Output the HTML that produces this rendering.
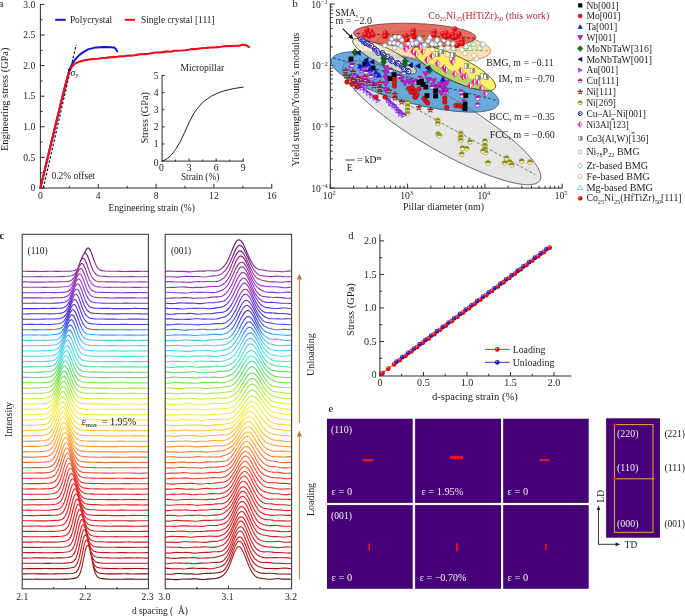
<!DOCTYPE html>
<html lang="en"><head><meta charset="utf-8"><title>Figure</title>
<style>html,body{margin:0;padding:0;background:#fff}svg{display:block}text{font-family:"Liberation Serif", "DejaVu Serif", serif}</style>
</head><body>
<svg width="685" height="616" viewBox="0 0 685 616" font-family='"Liberation Serif", "DejaVu Serif", serif'>
<defs><radialGradient id="ballR" cx="0.35" cy="0.3" r="0.75"><stop offset="0" stop-color="#ffc0c0"/><stop offset="0.25" stop-color="#f81820"/><stop offset="1" stop-color="#c00008"/></radialGradient><radialGradient id="ballB" cx="0.35" cy="0.3" r="0.75"><stop offset="0" stop-color="#c8c8ff"/><stop offset="0.25" stop-color="#2a2ae0"/><stop offset="1" stop-color="#0a0a9a"/></radialGradient><linearGradient id="wf" gradientUnits="userSpaceOnUse" x1="0" y1="240" x2="0" y2="590"><stop offset="0.0171" stop-color="#620e66"/><stop offset="0.0514" stop-color="#7d197d"/><stop offset="0.0886" stop-color="#96309e"/><stop offset="0.1200" stop-color="#9b34be"/><stop offset="0.1486" stop-color="#8c32d2"/><stop offset="0.1800" stop-color="#6432dc"/><stop offset="0.2086" stop-color="#4632e2"/><stop offset="0.2400" stop-color="#3a4eea"/><stop offset="0.2543" stop-color="#3a76f0"/><stop offset="0.2686" stop-color="#429ef0"/><stop offset="0.2829" stop-color="#4ebcf0"/><stop offset="0.3000" stop-color="#58caf0"/><stop offset="0.3314" stop-color="#4ee1e2"/><stop offset="0.3457" stop-color="#4ee1be"/><stop offset="0.3600" stop-color="#58dc96"/><stop offset="0.3757" stop-color="#62dc6e"/><stop offset="0.3914" stop-color="#6edc5a"/><stop offset="0.4057" stop-color="#82e150"/><stop offset="0.4200" stop-color="#96e44b"/><stop offset="0.4357" stop-color="#afe846"/><stop offset="0.4514" stop-color="#c8eb46"/><stop offset="0.4657" stop-color="#e1ee46"/><stop offset="0.4814" stop-color="#f0ee46"/><stop offset="0.4971" stop-color="#faeb46"/><stop offset="0.5114" stop-color="#fae144"/><stop offset="0.5271" stop-color="#fad741"/><stop offset="0.5429" stop-color="#fac83c"/><stop offset="0.5571" stop-color="#fab938"/><stop offset="0.5729" stop-color="#faaa37"/><stop offset="0.5886" stop-color="#fa9b37"/><stop offset="0.6029" stop-color="#f88737"/><stop offset="0.6186" stop-color="#f67337"/><stop offset="0.6343" stop-color="#f56436"/><stop offset="0.6486" stop-color="#f35532"/><stop offset="0.6643" stop-color="#f04630"/><stop offset="0.6800" stop-color="#ee3a2d"/><stop offset="0.6943" stop-color="#ec302a"/><stop offset="0.7100" stop-color="#e82828"/><stop offset="0.7543" stop-color="#e42024"/><stop offset="0.8471" stop-color="#d71e23"/><stop offset="0.8914" stop-color="#be1a20"/><stop offset="0.9229" stop-color="#a5161c"/><stop offset="0.9543" stop-color="#821014"/><stop offset="0.9700" stop-color="#640c0f"/></linearGradient></defs>
<rect width="685" height="616" fill="#fff"/>
<line x1="40.4" y1="3.9" x2="40.4" y2="188.5" stroke="#2b2b2b" stroke-width="1"/>
<line x1="39.9" y1="188" x2="272.26" y2="188" stroke="#2b2b2b" stroke-width="1"/>
<line x1="40.4" y1="188" x2="44.6" y2="188" stroke="#2b2b2b" stroke-width="1"/>
<text x="35.2" y="191.2" font-size="9.6" fill="#1a1a1a" text-anchor="end">0</text>
<line x1="40.4" y1="157.4" x2="44.6" y2="157.4" stroke="#2b2b2b" stroke-width="1"/>
<text x="35.2" y="160.6" font-size="9.6" fill="#1a1a1a" text-anchor="end">0.5</text>
<line x1="40.4" y1="126.8" x2="44.6" y2="126.8" stroke="#2b2b2b" stroke-width="1"/>
<text x="35.2" y="130" font-size="9.6" fill="#1a1a1a" text-anchor="end">1.0</text>
<line x1="40.4" y1="96.2" x2="44.6" y2="96.2" stroke="#2b2b2b" stroke-width="1"/>
<text x="35.2" y="99.4" font-size="9.6" fill="#1a1a1a" text-anchor="end">1.5</text>
<line x1="40.4" y1="65.6" x2="44.6" y2="65.6" stroke="#2b2b2b" stroke-width="1"/>
<text x="35.2" y="68.8" font-size="9.6" fill="#1a1a1a" text-anchor="end">2.0</text>
<line x1="40.4" y1="35" x2="44.6" y2="35" stroke="#2b2b2b" stroke-width="1"/>
<text x="35.2" y="38.2" font-size="9.6" fill="#1a1a1a" text-anchor="end">2.5</text>
<line x1="40.4" y1="4.4" x2="44.6" y2="4.4" stroke="#2b2b2b" stroke-width="1"/>
<text x="35.2" y="7.6" font-size="9.6" fill="#1a1a1a" text-anchor="end">3.0</text>
<line x1="40.4" y1="172.7" x2="42.6" y2="172.7" stroke="#2b2b2b" stroke-width="1"/>
<line x1="40.4" y1="142.1" x2="42.6" y2="142.1" stroke="#2b2b2b" stroke-width="1"/>
<line x1="40.4" y1="111.5" x2="42.6" y2="111.5" stroke="#2b2b2b" stroke-width="1"/>
<line x1="40.4" y1="80.9" x2="42.6" y2="80.9" stroke="#2b2b2b" stroke-width="1"/>
<line x1="40.4" y1="50.3" x2="42.6" y2="50.3" stroke="#2b2b2b" stroke-width="1"/>
<line x1="40.4" y1="19.7" x2="42.6" y2="19.7" stroke="#2b2b2b" stroke-width="1"/>
<line x1="40.4" y1="188" x2="40.4" y2="183.8" stroke="#2b2b2b" stroke-width="1"/>
<text x="40.4" y="199.2" font-size="9.6" fill="#1a1a1a" text-anchor="middle">0</text>
<line x1="98.24" y1="188" x2="98.24" y2="183.8" stroke="#2b2b2b" stroke-width="1"/>
<text x="98.24" y="199.2" font-size="9.6" fill="#1a1a1a" text-anchor="middle">4</text>
<line x1="156.08" y1="188" x2="156.08" y2="183.8" stroke="#2b2b2b" stroke-width="1"/>
<text x="156.08" y="199.2" font-size="9.6" fill="#1a1a1a" text-anchor="middle">8</text>
<line x1="213.92" y1="188" x2="213.92" y2="183.8" stroke="#2b2b2b" stroke-width="1"/>
<text x="213.92" y="199.2" font-size="9.6" fill="#1a1a1a" text-anchor="middle">12</text>
<line x1="271.76" y1="188" x2="271.76" y2="183.8" stroke="#2b2b2b" stroke-width="1"/>
<text x="271.76" y="199.2" font-size="9.6" fill="#1a1a1a" text-anchor="middle">16</text>
<line x1="69.32" y1="188" x2="69.32" y2="185.8" stroke="#2b2b2b" stroke-width="1"/>
<line x1="127.16" y1="188" x2="127.16" y2="185.8" stroke="#2b2b2b" stroke-width="1"/>
<line x1="185" y1="188" x2="185" y2="185.8" stroke="#2b2b2b" stroke-width="1"/>
<line x1="242.84" y1="188" x2="242.84" y2="185.8" stroke="#2b2b2b" stroke-width="1"/>
<text x="108.6" y="210.7" font-size="9.6" fill="#1a1a1a" textLength="86.3" lengthAdjust="spacingAndGlyphs">Engineering strain (%)</text>
<text x="7.6" y="151" font-size="9.5" fill="#1a1a1a" textLength="103.4" lengthAdjust="spacingAndGlyphs" transform="rotate(-90 7.6 151)">Engineering stress (GPa)</text>
<text x="0" y="7.4" font-size="10.5" fill="#1a1a1a" dx="-1.2">a</text>
<line x1="55.2" y1="19.8" x2="65.8" y2="19.8" stroke="#1414c8" stroke-width="2"/>
<text x="69.9" y="22.8" font-size="9.6" fill="#1a1a1a" textLength="42.3" lengthAdjust="spacingAndGlyphs">Polycrystal</text>
<line x1="124.8" y1="19.8" x2="135" y2="19.8" stroke="#e8101c" stroke-width="2"/>
<text x="141" y="22.8" font-size="9.6" fill="#1a1a1a" textLength="73.6" lengthAdjust="spacingAndGlyphs">Single crystal [111]</text>
<line x1="43.29" y1="188" x2="76.12" y2="44.98" stroke="#111" stroke-width="1.2" stroke-dasharray="2.6 1.7"/>
<polyline points="40.4,188 54.86,127.72 64.98,86.41 67.87,75.39 70.04,68.66 72.21,63.76 75.1,59.48 79.44,54.89 83.78,51.83 88.12,49.38 93.9,47.85 99.69,47.24 105.47,46.93 111.25,47.24 114.15,47.55 115.88,49.08 117.18,51.22" fill="none" stroke="#1414c8" stroke-width="2" stroke-linejoin="round" stroke-linecap="round"/>
<polyline points="40.4,188 47.63,158.01 54.86,128.02 62.09,98.04 66.43,80.9 69.32,71.11 72.21,66.21 75.1,63.46 79.44,61.62 83.78,60.4 91.01,59.17 94.62,58.95 98.24,58.72 101.86,58 105.47,58.07 109.09,57.37 112.7,57.14 116.31,57.01 119.93,56.33 123.55,56.32 127.16,55.67 130.78,55.59 134.39,55.22 138,54.61 141.62,53.96 145.24,54.13 148.85,53.7 152.47,53.05 156.08,52.46 159.69,52.37 163.31,52.15 166.93,51.37 170.54,51.7 174.16,50.75 177.77,50.81 181.39,50.56 185,50.23 188.62,49.73 192.23,49 195.85,49.11 199.46,48.47 203.08,48.07 206.69,47.91 210.31,47.43 213.92,47.43 217.54,47.1 221.15,46.7 224.77,46.11 228.38,46.11 232,46.04 235.61,45.74 239.23,45.78 241.39,44.91 245.01,44.91 247.18,45.71 249.2,47.24" fill="none" stroke="#e8101c" stroke-width="2.1" stroke-linejoin="round" stroke-linecap="round"/>
<text x="70.4" y="75.6" font-size="9.5" fill="#1a1a1a">σ<tspan dy="1.8" font-size="6">y</tspan><tspan dy="-1.8" font-size="0.1"> </tspan></text>
<circle cx="69.32" cy="69.88" r="1.3" fill="#3a0a0a"/>
<text x="51.5" y="178.6" font-size="9.6" fill="#1a1a1a" textLength="43.5" lengthAdjust="spacingAndGlyphs">0.2% offset</text>
<line x1="162.1" y1="75" x2="162.1" y2="161.6" stroke="#2b2b2b" stroke-width="1"/>
<line x1="161.6" y1="161.1" x2="243.69" y2="161.1" stroke="#2b2b2b" stroke-width="1"/>
<line x1="162.1" y1="75.5" x2="164.3" y2="75.5" stroke="#2b2b2b" stroke-width="1"/>
<text x="158.6" y="165.9" font-size="9.6" fill="#1a1a1a" text-anchor="end">0</text>
<line x1="162.1" y1="143.98" x2="164.5" y2="143.98" stroke="#2b2b2b" stroke-width="1"/>
<text x="158.6" y="147.18" font-size="9.6" fill="#1a1a1a" text-anchor="end">1</text>
<line x1="162.1" y1="126.86" x2="164.5" y2="126.86" stroke="#2b2b2b" stroke-width="1"/>
<text x="158.6" y="130.06" font-size="9.6" fill="#1a1a1a" text-anchor="end">2</text>
<line x1="162.1" y1="109.74" x2="164.5" y2="109.74" stroke="#2b2b2b" stroke-width="1"/>
<text x="158.6" y="112.94" font-size="9.6" fill="#1a1a1a" text-anchor="end">3</text>
<line x1="162.1" y1="92.62" x2="164.5" y2="92.62" stroke="#2b2b2b" stroke-width="1"/>
<text x="158.6" y="95.82" font-size="9.6" fill="#1a1a1a" text-anchor="end">4</text>
<line x1="162.1" y1="75.5" x2="164.5" y2="75.5" stroke="#2b2b2b" stroke-width="1"/>
<text x="158.6" y="78.7" font-size="9.6" fill="#1a1a1a" text-anchor="end">5</text>
<text x="161.5" y="171.2" font-size="9.6" fill="#1a1a1a" text-anchor="middle">0</text>
<line x1="189.13" y1="161.1" x2="189.13" y2="158.5" stroke="#2b2b2b" stroke-width="1"/>
<text x="189.13" y="171.2" font-size="9.6" fill="#1a1a1a" text-anchor="middle">3</text>
<line x1="216.16" y1="161.1" x2="216.16" y2="158.5" stroke="#2b2b2b" stroke-width="1"/>
<text x="216.16" y="171.2" font-size="9.6" fill="#1a1a1a" text-anchor="middle">6</text>
<line x1="243.19" y1="161.1" x2="243.19" y2="158.5" stroke="#2b2b2b" stroke-width="1"/>
<text x="243.19" y="171.2" font-size="9.6" fill="#1a1a1a" text-anchor="middle">9</text>
<line x1="175.62" y1="161.1" x2="175.62" y2="159.5" stroke="#2b2b2b" stroke-width="1"/>
<line x1="202.64" y1="161.1" x2="202.64" y2="159.5" stroke="#2b2b2b" stroke-width="1"/>
<line x1="229.68" y1="161.1" x2="229.68" y2="159.5" stroke="#2b2b2b" stroke-width="1"/>
<polyline points="162.1,161.1 164.8,160.07 167.51,158.36 171.11,155.28 175.62,149.46 180.12,141.93 184.62,132.34 189.13,122.41 193.63,113.68 198.14,107.51 202.64,102.55 207.15,98.95 211.66,96.04 216.16,93.82 220.66,91.94 225.17,90.57 234.18,88.51 243.19,87.14" fill="none" stroke="#222" stroke-width="1" stroke-linejoin="round" stroke-linecap="round"/>
<text x="180.6" y="70.6" font-size="9.6" fill="#1a1a1a" textLength="43.6" lengthAdjust="spacingAndGlyphs">Micropillar</text>
<text x="180.9" y="180.3" font-size="9.6" fill="#1a1a1a" textLength="38.4" lengthAdjust="spacingAndGlyphs">Strain (%)</text>
<text x="147.9" y="143.6" font-size="9.6" fill="#1a1a1a" textLength="51.5" lengthAdjust="spacingAndGlyphs" transform="rotate(-90 147.9 143.6)">Stress (GPa)</text>
<line x1="330.3" y1="3.6" x2="330.3" y2="188.6" stroke="#2b2b2b" stroke-width="1"/>
<line x1="329.8" y1="188.1" x2="562.7" y2="188.1" stroke="#2b2b2b" stroke-width="1"/>
<line x1="330.3" y1="188.1" x2="334.7" y2="188.1" stroke="#2b2b2b" stroke-width="1"/>
<text x="327.8" y="191.7" font-size="9.6" fill="#1a1a1a" text-anchor="end">10<tspan dy="-3.4" font-size="6.5">−4</tspan><tspan dy="3.4" font-size="0.1"> </tspan></text>
<line x1="330.3" y1="169.63" x2="332.7" y2="169.63" stroke="#2b2b2b" stroke-width="1"/>
<line x1="330.3" y1="158.83" x2="332.7" y2="158.83" stroke="#2b2b2b" stroke-width="1"/>
<line x1="330.3" y1="151.16" x2="332.7" y2="151.16" stroke="#2b2b2b" stroke-width="1"/>
<line x1="330.3" y1="145.22" x2="332.7" y2="145.22" stroke="#2b2b2b" stroke-width="1"/>
<line x1="330.3" y1="140.36" x2="332.7" y2="140.36" stroke="#2b2b2b" stroke-width="1"/>
<line x1="330.3" y1="136.25" x2="332.7" y2="136.25" stroke="#2b2b2b" stroke-width="1"/>
<line x1="330.3" y1="132.7" x2="332.7" y2="132.7" stroke="#2b2b2b" stroke-width="1"/>
<line x1="330.3" y1="129.56" x2="332.7" y2="129.56" stroke="#2b2b2b" stroke-width="1"/>
<line x1="330.3" y1="126.75" x2="334.7" y2="126.75" stroke="#2b2b2b" stroke-width="1"/>
<text x="327.8" y="130.35" font-size="9.6" fill="#1a1a1a" text-anchor="end">10<tspan dy="-3.4" font-size="6.5">−3</tspan><tspan dy="3.4" font-size="0.1"> </tspan></text>
<line x1="330.3" y1="108.28" x2="332.7" y2="108.28" stroke="#2b2b2b" stroke-width="1"/>
<line x1="330.3" y1="97.48" x2="332.7" y2="97.48" stroke="#2b2b2b" stroke-width="1"/>
<line x1="330.3" y1="89.81" x2="332.7" y2="89.81" stroke="#2b2b2b" stroke-width="1"/>
<line x1="330.3" y1="83.87" x2="332.7" y2="83.87" stroke="#2b2b2b" stroke-width="1"/>
<line x1="330.3" y1="79.01" x2="332.7" y2="79.01" stroke="#2b2b2b" stroke-width="1"/>
<line x1="330.3" y1="74.9" x2="332.7" y2="74.9" stroke="#2b2b2b" stroke-width="1"/>
<line x1="330.3" y1="71.35" x2="332.7" y2="71.35" stroke="#2b2b2b" stroke-width="1"/>
<line x1="330.3" y1="68.21" x2="332.7" y2="68.21" stroke="#2b2b2b" stroke-width="1"/>
<line x1="330.3" y1="65.4" x2="334.7" y2="65.4" stroke="#2b2b2b" stroke-width="1"/>
<text x="327.8" y="69" font-size="9.6" fill="#1a1a1a" text-anchor="end">10<tspan dy="-3.4" font-size="6.5">−2</tspan><tspan dy="3.4" font-size="0.1"> </tspan></text>
<line x1="330.3" y1="46.93" x2="332.7" y2="46.93" stroke="#2b2b2b" stroke-width="1"/>
<line x1="330.3" y1="36.13" x2="332.7" y2="36.13" stroke="#2b2b2b" stroke-width="1"/>
<line x1="330.3" y1="28.46" x2="332.7" y2="28.46" stroke="#2b2b2b" stroke-width="1"/>
<line x1="330.3" y1="22.52" x2="332.7" y2="22.52" stroke="#2b2b2b" stroke-width="1"/>
<line x1="330.3" y1="17.66" x2="332.7" y2="17.66" stroke="#2b2b2b" stroke-width="1"/>
<line x1="330.3" y1="13.55" x2="332.7" y2="13.55" stroke="#2b2b2b" stroke-width="1"/>
<line x1="330.3" y1="10" x2="332.7" y2="10" stroke="#2b2b2b" stroke-width="1"/>
<line x1="330.3" y1="6.86" x2="332.7" y2="6.86" stroke="#2b2b2b" stroke-width="1"/>
<line x1="330.3" y1="4.05" x2="334.7" y2="4.05" stroke="#2b2b2b" stroke-width="1"/>
<text x="327.8" y="7.65" font-size="9.6" fill="#1a1a1a" text-anchor="end">10<tspan dy="-3.4" font-size="6.5">−1</tspan><tspan dy="3.4" font-size="0.1"> </tspan></text>
<line x1="330.3" y1="188.1" x2="330.3" y2="183.7" stroke="#2b2b2b" stroke-width="1"/>
<text x="335.7" y="198.8" font-size="9.6" fill="#1a1a1a" text-anchor="end">10<tspan dy="-3.4" font-size="6.5">2</tspan><tspan dy="3.4" font-size="0.1"> </tspan></text>
<line x1="353.57" y1="188.1" x2="353.57" y2="185.7" stroke="#2b2b2b" stroke-width="1"/>
<line x1="367.18" y1="188.1" x2="367.18" y2="185.7" stroke="#2b2b2b" stroke-width="1"/>
<line x1="376.84" y1="188.1" x2="376.84" y2="185.7" stroke="#2b2b2b" stroke-width="1"/>
<line x1="384.33" y1="188.1" x2="384.33" y2="185.7" stroke="#2b2b2b" stroke-width="1"/>
<line x1="390.45" y1="188.1" x2="390.45" y2="185.7" stroke="#2b2b2b" stroke-width="1"/>
<line x1="395.63" y1="188.1" x2="395.63" y2="185.7" stroke="#2b2b2b" stroke-width="1"/>
<line x1="400.11" y1="188.1" x2="400.11" y2="185.7" stroke="#2b2b2b" stroke-width="1"/>
<line x1="404.06" y1="188.1" x2="404.06" y2="185.7" stroke="#2b2b2b" stroke-width="1"/>
<line x1="407.6" y1="188.1" x2="407.6" y2="183.7" stroke="#2b2b2b" stroke-width="1"/>
<text x="413" y="198.8" font-size="9.6" fill="#1a1a1a" text-anchor="end">10<tspan dy="-3.4" font-size="6.5">3</tspan><tspan dy="3.4" font-size="0.1"> </tspan></text>
<line x1="430.87" y1="188.1" x2="430.87" y2="185.7" stroke="#2b2b2b" stroke-width="1"/>
<line x1="444.48" y1="188.1" x2="444.48" y2="185.7" stroke="#2b2b2b" stroke-width="1"/>
<line x1="454.14" y1="188.1" x2="454.14" y2="185.7" stroke="#2b2b2b" stroke-width="1"/>
<line x1="461.63" y1="188.1" x2="461.63" y2="185.7" stroke="#2b2b2b" stroke-width="1"/>
<line x1="467.75" y1="188.1" x2="467.75" y2="185.7" stroke="#2b2b2b" stroke-width="1"/>
<line x1="472.93" y1="188.1" x2="472.93" y2="185.7" stroke="#2b2b2b" stroke-width="1"/>
<line x1="477.41" y1="188.1" x2="477.41" y2="185.7" stroke="#2b2b2b" stroke-width="1"/>
<line x1="481.36" y1="188.1" x2="481.36" y2="185.7" stroke="#2b2b2b" stroke-width="1"/>
<line x1="484.9" y1="188.1" x2="484.9" y2="183.7" stroke="#2b2b2b" stroke-width="1"/>
<text x="490.3" y="198.8" font-size="9.6" fill="#1a1a1a" text-anchor="end">10<tspan dy="-3.4" font-size="6.5">4</tspan><tspan dy="3.4" font-size="0.1"> </tspan></text>
<line x1="508.17" y1="188.1" x2="508.17" y2="185.7" stroke="#2b2b2b" stroke-width="1"/>
<line x1="521.78" y1="188.1" x2="521.78" y2="185.7" stroke="#2b2b2b" stroke-width="1"/>
<line x1="531.44" y1="188.1" x2="531.44" y2="185.7" stroke="#2b2b2b" stroke-width="1"/>
<line x1="538.93" y1="188.1" x2="538.93" y2="185.7" stroke="#2b2b2b" stroke-width="1"/>
<line x1="545.05" y1="188.1" x2="545.05" y2="185.7" stroke="#2b2b2b" stroke-width="1"/>
<line x1="550.23" y1="188.1" x2="550.23" y2="185.7" stroke="#2b2b2b" stroke-width="1"/>
<line x1="554.71" y1="188.1" x2="554.71" y2="185.7" stroke="#2b2b2b" stroke-width="1"/>
<line x1="558.66" y1="188.1" x2="558.66" y2="185.7" stroke="#2b2b2b" stroke-width="1"/>
<line x1="562.2" y1="188.1" x2="562.2" y2="183.7" stroke="#2b2b2b" stroke-width="1"/>
<text x="567.6" y="198.8" font-size="9.6" fill="#1a1a1a" text-anchor="end">10<tspan dy="-3.4" font-size="6.5">5</tspan><tspan dy="3.4" font-size="0.1"> </tspan></text>
<text x="403" y="210.4" font-size="9.6" fill="#1a1a1a" textLength="81.2" lengthAdjust="spacingAndGlyphs">Pillar diameter (nm)</text>
<text x="298.9" y="166.6" font-size="9.4" fill="#1a1a1a" textLength="134" lengthAdjust="spacingAndGlyphs" transform="rotate(-90 298.9 166.6)">Yield strength/Young’s modulus</text>
<text x="292.6" y="7.4" font-size="10.5" fill="#1a1a1a">b</text>
<ellipse cx="441.7" cy="122.7" rx="113.9" ry="26.6" transform="rotate(30.4 441.7 122.7)" fill="#e6e6e6" fill-opacity="1" stroke="#777" stroke-width="0.7"/>
<ellipse cx="415" cy="81.8" rx="86.5" ry="21.8" transform="rotate(14.6 415 81.8)" fill="#4f9bd6" fill-opacity="0.85" stroke="#2a4a6a" stroke-width="0.7"/>
<ellipse cx="441.7" cy="122.7" rx="113.9" ry="26.6" transform="rotate(30.4 441.7 122.7)" fill="none" fill-opacity="1" stroke="#5a6a7a" stroke-width="0.5"/>
<ellipse cx="434" cy="46.2" rx="57" ry="14.6" transform="rotate(5.2 434 46.2)" fill="#fbdcae" fill-opacity="0.9" stroke="#7a6a4a" stroke-width="0.6"/>
<ellipse cx="454.4" cy="68.2" rx="45.5" ry="12.3" transform="rotate(25.5 454.4 68.2)" fill="#fff05a" fill-opacity="0.9" stroke="#3a3a10" stroke-width="0.7"/>
<clipPath id="bccclip"><ellipse cx="415" cy="81.8" rx="86.5" ry="21.8" transform="rotate(14.6 415 81.8)"/></clipPath>
<g clip-path="url(#bccclip)"><ellipse cx="454.4" cy="68.2" rx="45.5" ry="12.3" transform="rotate(25.5 454.4 68.2)" fill="#b4d46c" stroke="#3a3a10" stroke-width="0.7"/></g>
<ellipse cx="384.5" cy="56.3" rx="35.5" ry="8.6" transform="rotate(27 384.5 56.3)" fill="#f3e6c2" fill-opacity="0.74" stroke="#33402a" stroke-width="0.7"/>
<ellipse cx="414.7" cy="35.2" rx="61.2" ry="11.8" transform="rotate(2.1 414.7 35.2)" fill="#dc4a40" fill-opacity="0.8" stroke="#5a2a2a" stroke-width="0.7"/>
<line x1="333" y1="58" x2="497" y2="100.5" stroke="#1a3a5a" stroke-width="0.9" stroke-dasharray="3 2"/>
<line x1="398" y1="99" x2="535" y2="174.5" stroke="#6a6a6a" stroke-width="0.9" stroke-dasharray="3 2"/>
<line x1="357" y1="33.4" x2="476" y2="38.2" stroke="#5a1010" stroke-width="0.9" stroke-dasharray="3 2"/>
<line x1="455" y1="50.3" x2="489" y2="50.8" stroke="#d89040" stroke-width="0.9" stroke-dasharray="3 2"/>
<circle cx="407.5" cy="102" r="2.45" fill="#fbfbe8" stroke="#8a8a10" stroke-width="0.6"/><path d="M405.05 102.3A2.45 2.45 0 0 1 409.95 102.3Z" fill="#8c8c0c"/>
<circle cx="407.5" cy="106" r="2.45" fill="#fbfbe8" stroke="#8a8a10" stroke-width="0.6"/><path d="M405.05 106.3A2.45 2.45 0 0 1 409.95 106.3Z" fill="#8c8c0c"/>
<circle cx="407.5" cy="110" r="2.45" fill="#fbfbe8" stroke="#8a8a10" stroke-width="0.6"/><path d="M405.05 110.3A2.45 2.45 0 0 1 409.95 110.3Z" fill="#8c8c0c"/>
<circle cx="407.5" cy="113.5" r="2.45" fill="#fbfbe8" stroke="#8a8a10" stroke-width="0.6"/><path d="M405.05 113.8A2.45 2.45 0 0 1 409.95 113.8Z" fill="#8c8c0c"/>
<circle cx="437.8" cy="120.3" r="2.45" fill="#fbfbe8" stroke="#8a8a10" stroke-width="0.6"/><path d="M435.35 120.6A2.45 2.45 0 0 1 440.25 120.6Z" fill="#8c8c0c"/>
<circle cx="437.8" cy="123.4" r="2.45" fill="#fbfbe8" stroke="#8a8a10" stroke-width="0.6"/><path d="M435.35 123.7A2.45 2.45 0 0 1 440.25 123.7Z" fill="#8c8c0c"/>
<circle cx="438" cy="134" r="2.45" fill="#fbfbe8" stroke="#8a8a10" stroke-width="0.6"/><path d="M435.55 134.3A2.45 2.45 0 0 1 440.45 134.3Z" fill="#8c8c0c"/>
<circle cx="460.7" cy="133.5" r="2.45" fill="#fbfbe8" stroke="#8a8a10" stroke-width="0.6"/><path d="M458.25 133.8A2.45 2.45 0 0 1 463.15 133.8Z" fill="#8c8c0c"/>
<circle cx="460.7" cy="137" r="2.45" fill="#fbfbe8" stroke="#8a8a10" stroke-width="0.6"/><path d="M458.25 137.3A2.45 2.45 0 0 1 463.15 137.3Z" fill="#8c8c0c"/>
<circle cx="460.7" cy="140.2" r="2.45" fill="#fbfbe8" stroke="#8a8a10" stroke-width="0.6"/><path d="M458.25 140.5A2.45 2.45 0 0 1 463.15 140.5Z" fill="#8c8c0c"/>
<circle cx="469.9" cy="141.7" r="2.45" fill="#fbfbe8" stroke="#8a8a10" stroke-width="0.6"/><path d="M467.45 142A2.45 2.45 0 0 1 472.35 142Z" fill="#8c8c0c"/>
<circle cx="462.7" cy="147.8" r="2.45" fill="#fbfbe8" stroke="#8a8a10" stroke-width="0.6"/><path d="M460.25 148.1A2.45 2.45 0 0 1 465.15 148.1Z" fill="#8c8c0c"/>
<circle cx="466.8" cy="148.4" r="2.45" fill="#fbfbe8" stroke="#8a8a10" stroke-width="0.6"/><path d="M464.35 148.7A2.45 2.45 0 0 1 469.25 148.7Z" fill="#8c8c0c"/>
<circle cx="461.7" cy="154" r="2.45" fill="#fbfbe8" stroke="#8a8a10" stroke-width="0.6"/><path d="M459.25 154.3A2.45 2.45 0 0 1 464.15 154.3Z" fill="#8c8c0c"/>
<circle cx="485" cy="141" r="2.45" fill="#fbfbe8" stroke="#8a8a10" stroke-width="0.6"/><path d="M482.55 141.3A2.45 2.45 0 0 1 487.45 141.3Z" fill="#8c8c0c"/>
<circle cx="485" cy="145.5" r="2.45" fill="#fbfbe8" stroke="#8a8a10" stroke-width="0.6"/><path d="M482.55 145.8A2.45 2.45 0 0 1 487.45 145.8Z" fill="#8c8c0c"/>
<circle cx="485" cy="149" r="2.45" fill="#fbfbe8" stroke="#8a8a10" stroke-width="0.6"/><path d="M482.55 149.3A2.45 2.45 0 0 1 487.45 149.3Z" fill="#8c8c0c"/>
<circle cx="485.6" cy="152.4" r="2.45" fill="#fbfbe8" stroke="#8a8a10" stroke-width="0.6"/><path d="M483.15 152.7A2.45 2.45 0 0 1 488.05 152.7Z" fill="#8c8c0c"/>
<circle cx="488" cy="162.7" r="2.45" fill="#fbfbe8" stroke="#8a8a10" stroke-width="0.6"/><path d="M485.55 163A2.45 2.45 0 0 1 490.45 163Z" fill="#8c8c0c"/>
<circle cx="506.6" cy="158" r="2.45" fill="#fbfbe8" stroke="#8a8a10" stroke-width="0.6"/><path d="M504.15 158.3A2.45 2.45 0 0 1 509.05 158.3Z" fill="#8c8c0c"/>
<circle cx="504.6" cy="163" r="2.45" fill="#fbfbe8" stroke="#8a8a10" stroke-width="0.6"/><path d="M502.15 163.3A2.45 2.45 0 0 1 507.05 163.3Z" fill="#8c8c0c"/>
<circle cx="509.7" cy="162" r="2.45" fill="#fbfbe8" stroke="#8a8a10" stroke-width="0.6"/><path d="M507.25 162.3A2.45 2.45 0 0 1 512.15 162.3Z" fill="#8c8c0c"/>
<circle cx="511.7" cy="164.8" r="2.45" fill="#fbfbe8" stroke="#8a8a10" stroke-width="0.6"/><path d="M509.25 165.1A2.45 2.45 0 0 1 514.15 165.1Z" fill="#8c8c0c"/>
<circle cx="521.6" cy="161" r="2.45" fill="#fbfbe8" stroke="#8a8a10" stroke-width="0.6"/><path d="M519.15 161.3A2.45 2.45 0 0 1 524.05 161.3Z" fill="#8c8c0c"/>
<circle cx="530" cy="162" r="2.45" fill="#fbfbe8" stroke="#8a8a10" stroke-width="0.6"/><path d="M527.55 162.3A2.45 2.45 0 0 1 532.45 162.3Z" fill="#8c8c0c"/>
<circle cx="439.5" cy="135.5" r="2.45" fill="#fbfbe8" stroke="#8a8a10" stroke-width="0.6"/><path d="M437.05 135.8A2.45 2.45 0 0 1 441.95 135.8Z" fill="#8c8c0c"/>
<circle cx="483" cy="151" r="2.45" fill="#fbfbe8" stroke="#8a8a10" stroke-width="0.6"/><path d="M480.55 151.3A2.45 2.45 0 0 1 485.45 151.3Z" fill="#8c8c0c"/>
<path d="M359.4 84.5L355.08 82.1V86.9Z" fill="#efe6ff" stroke="#7a22e0" stroke-width="0.7"/><path d="M359.4 84.5L355.08 82.1V84.8Z" fill="#7a22e0"/>
<path d="M371.4 72.4L367.08 70V74.8Z" fill="#efe6ff" stroke="#7a22e0" stroke-width="0.7"/><path d="M371.4 72.4L367.08 70V72.7Z" fill="#7a22e0"/>
<path d="M367.6 78.6L363.28 76.2V81Z" fill="#efe6ff" stroke="#7a22e0" stroke-width="0.7"/><path d="M367.6 78.6L363.28 76.2V78.9Z" fill="#7a22e0"/>
<path d="M376.7 83L372.38 80.6V85.4Z" fill="#efe6ff" stroke="#7a22e0" stroke-width="0.7"/><path d="M376.7 83L372.38 80.6V83.3Z" fill="#7a22e0"/>
<path d="M359 88.6L354.68 86.2V91Z" fill="#efe6ff" stroke="#7a22e0" stroke-width="0.7"/><path d="M359 88.6L354.68 86.2V88.9Z" fill="#7a22e0"/>
<path d="M353.9 76.2L349.58 73.8V78.6Z" fill="#efe6ff" stroke="#7a22e0" stroke-width="0.7"/><path d="M353.9 76.2L349.58 73.8V76.5Z" fill="#7a22e0"/>
<path d="M373.1 70.3L368.78 67.9V72.7Z" fill="#efe6ff" stroke="#7a22e0" stroke-width="0.7"/><path d="M373.1 70.3L368.78 67.9V70.6Z" fill="#7a22e0"/>
<path d="M365.1 67.9L360.78 65.5V70.3Z" fill="#efe6ff" stroke="#7a22e0" stroke-width="0.7"/><path d="M365.1 67.9L360.78 65.5V68.2Z" fill="#7a22e0"/>
<path d="M370.4 83.8L366.08 81.4V86.2Z" fill="#efe6ff" stroke="#7a22e0" stroke-width="0.7"/><path d="M370.4 83.8L366.08 81.4V84.1Z" fill="#7a22e0"/>
<path d="M367.6 86.3L363.28 83.9V88.7Z" fill="#efe6ff" stroke="#7a22e0" stroke-width="0.7"/><path d="M367.6 86.3L363.28 83.9V86.6Z" fill="#7a22e0"/>
<path d="M359.8 82.3L355.48 79.9V84.7Z" fill="#efe6ff" stroke="#7a22e0" stroke-width="0.7"/><path d="M359.8 82.3L355.48 79.9V82.6Z" fill="#7a22e0"/>
<path d="M368.2 79.8L363.88 77.4V82.2Z" fill="#efe6ff" stroke="#7a22e0" stroke-width="0.7"/><path d="M368.2 79.8L363.88 77.4V80.1Z" fill="#7a22e0"/>
<path d="M364.1 85.5L359.78 83.1V87.9Z" fill="#efe6ff" stroke="#7a22e0" stroke-width="0.7"/><path d="M364.1 85.5L359.78 83.1V85.8Z" fill="#7a22e0"/>
<path d="M378.7 77.4L374.38 75V79.8Z" fill="#efe6ff" stroke="#7a22e0" stroke-width="0.7"/><path d="M378.7 77.4L374.38 75V77.7Z" fill="#7a22e0"/>
<path d="M370.3 68.3L365.98 65.9V70.7Z" fill="#efe6ff" stroke="#7a22e0" stroke-width="0.7"/><path d="M370.3 68.3L365.98 65.9V68.6Z" fill="#7a22e0"/>
<path d="M371.4 81.2L367.08 78.8V83.6Z" fill="#efe6ff" stroke="#7a22e0" stroke-width="0.7"/><path d="M371.4 81.2L367.08 78.8V81.5Z" fill="#7a22e0"/>
<path d="M380.2 85.1L375.88 82.7V87.5Z" fill="#efe6ff" stroke="#7a22e0" stroke-width="0.7"/><path d="M380.2 85.1L375.88 82.7V85.4Z" fill="#7a22e0"/>
<path d="M358.9 75.5L354.58 73.1V77.9Z" fill="#efe6ff" stroke="#7a22e0" stroke-width="0.7"/><path d="M358.9 75.5L354.58 73.1V75.8Z" fill="#7a22e0"/>
<path d="M370.5 67.5L366.18 65.1V69.9Z" fill="#efe6ff" stroke="#7a22e0" stroke-width="0.7"/><path d="M370.5 67.5L366.18 65.1V67.8Z" fill="#7a22e0"/>
<path d="M364.3 70.7L359.98 68.3V73.1Z" fill="#efe6ff" stroke="#7a22e0" stroke-width="0.7"/><path d="M364.3 70.7L359.98 68.3V71Z" fill="#7a22e0"/>
<path d="M353.9 68.3L349.58 65.9V70.7Z" fill="#efe6ff" stroke="#7a22e0" stroke-width="0.7"/><path d="M353.9 68.3L349.58 65.9V68.6Z" fill="#7a22e0"/>
<path d="M373.4 69.8L369.08 67.4V72.2Z" fill="#efe6ff" stroke="#7a22e0" stroke-width="0.7"/><path d="M373.4 69.8L369.08 67.4V70.1Z" fill="#7a22e0"/>
<path d="M357.8 75.6L353.48 73.2V78Z" fill="#efe6ff" stroke="#7a22e0" stroke-width="0.7"/><path d="M357.8 75.6L353.48 73.2V75.9Z" fill="#7a22e0"/>
<path d="M376.5 68.8L372.18 66.4V71.2Z" fill="#efe6ff" stroke="#7a22e0" stroke-width="0.7"/><path d="M376.5 68.8L372.18 66.4V69.1Z" fill="#7a22e0"/>
<path d="M363.9 79.1L359.58 76.7V81.5Z" fill="#efe6ff" stroke="#7a22e0" stroke-width="0.7"/><path d="M363.9 79.1L359.58 76.7V79.4Z" fill="#7a22e0"/>
<path d="M376.9 85L372.58 82.6V87.4Z" fill="#efe6ff" stroke="#7a22e0" stroke-width="0.7"/><path d="M376.9 85L372.58 82.6V85.3Z" fill="#7a22e0"/>
<path d="M390.6 99.3L386.28 96.9V101.7Z" fill="#efe6ff" stroke="#7a22e0" stroke-width="0.7"/><path d="M390.6 99.3L386.28 96.9V99.6Z" fill="#7a22e0"/>
<path d="M391 100.7L386.68 98.3V103.1Z" fill="#efe6ff" stroke="#7a22e0" stroke-width="0.7"/><path d="M391 100.7L386.68 98.3V101Z" fill="#7a22e0"/>
<path d="M393.2 103.7L388.88 101.3V106.1Z" fill="#efe6ff" stroke="#7a22e0" stroke-width="0.7"/><path d="M393.2 103.7L388.88 101.3V104Z" fill="#7a22e0"/>
<path d="M393 102.5L388.68 100.1V104.9Z" fill="#efe6ff" stroke="#7a22e0" stroke-width="0.7"/><path d="M393 102.5L388.68 100.1V102.8Z" fill="#7a22e0"/>
<path d="M394.4 103.8L390.08 101.4V106.2Z" fill="#efe6ff" stroke="#7a22e0" stroke-width="0.7"/><path d="M394.4 103.8L390.08 101.4V104.1Z" fill="#7a22e0"/>
<path d="M396.2 106L391.88 103.6V108.4Z" fill="#efe6ff" stroke="#7a22e0" stroke-width="0.7"/><path d="M396.2 106L391.88 103.6V106.3Z" fill="#7a22e0"/>
<path d="M397 105.4L392.68 103V107.8Z" fill="#efe6ff" stroke="#7a22e0" stroke-width="0.7"/><path d="M397 105.4L392.68 103V105.7Z" fill="#7a22e0"/>
<path d="M398.6 107.7L394.28 105.3V110.1Z" fill="#efe6ff" stroke="#7a22e0" stroke-width="0.7"/><path d="M398.6 107.7L394.28 105.3V108Z" fill="#7a22e0"/>
<path d="M400.2 110.6L395.88 108.2V113Z" fill="#efe6ff" stroke="#7a22e0" stroke-width="0.7"/><path d="M400.2 110.6L395.88 108.2V110.9Z" fill="#7a22e0"/>
<path d="M401.7 110.4L397.38 108V112.8Z" fill="#efe6ff" stroke="#7a22e0" stroke-width="0.7"/><path d="M401.7 110.4L397.38 108V110.7Z" fill="#7a22e0"/>
<path d="M402.8 112.1L398.48 109.7V114.5Z" fill="#efe6ff" stroke="#7a22e0" stroke-width="0.7"/><path d="M402.8 112.1L398.48 109.7V112.4Z" fill="#7a22e0"/>
<path d="M403 113.9L398.68 111.5V116.3Z" fill="#efe6ff" stroke="#7a22e0" stroke-width="0.7"/><path d="M403 113.9L398.68 111.5V114.2Z" fill="#7a22e0"/>
<path d="M405.7 115L401.38 112.6V117.4Z" fill="#efe6ff" stroke="#7a22e0" stroke-width="0.7"/><path d="M405.7 115L401.38 112.6V115.3Z" fill="#7a22e0"/>
<path d="M407 114.7L402.68 112.3V117.1Z" fill="#efe6ff" stroke="#7a22e0" stroke-width="0.7"/><path d="M407 114.7L402.68 112.3V115Z" fill="#7a22e0"/>
<path d="M364.4 88L360.08 85.6V90.4Z" fill="#efe6ff" stroke="#7a22e0" stroke-width="0.7"/><path d="M364.4 88L360.08 85.6V88.3Z" fill="#7a22e0"/>
<path d="M367.6 90.5L363.28 88.1V92.9Z" fill="#efe6ff" stroke="#7a22e0" stroke-width="0.7"/><path d="M367.6 90.5L363.28 88.1V90.8Z" fill="#7a22e0"/>
<path d="M370.8 93L366.48 90.6V95.4Z" fill="#efe6ff" stroke="#7a22e0" stroke-width="0.7"/><path d="M370.8 93L366.48 90.6V93.3Z" fill="#7a22e0"/>
<path d="M374 95.5L369.68 93.1V97.9Z" fill="#efe6ff" stroke="#7a22e0" stroke-width="0.7"/><path d="M374 95.5L369.68 93.1V95.8Z" fill="#7a22e0"/>
<path d="M377.2 98L372.88 95.6V100.4Z" fill="#efe6ff" stroke="#7a22e0" stroke-width="0.7"/><path d="M377.2 98L372.88 95.6V98.3Z" fill="#7a22e0"/>
<path d="M380.4 100.5L376.08 98.1V102.9Z" fill="#efe6ff" stroke="#7a22e0" stroke-width="0.7"/><path d="M380.4 100.5L376.08 98.1V100.8Z" fill="#7a22e0"/>
<polygon points="345.8,67.6 346.59,69.71 348.84,69.81 347.08,71.22 347.68,73.39 345.8,72.14 343.92,73.39 344.52,71.22 342.76,69.81 345.01,69.71" fill="#b01818" stroke="#6a0a0a" stroke-width="0.4"/>
<path d="M344.2 71.4H347.4" stroke="#f6d0d0" stroke-width="0.7"/>
<polygon points="346,72.8 346.79,74.91 349.04,75.01 347.28,76.42 347.88,78.59 346,77.34 344.12,78.59 344.72,76.42 342.96,75.01 345.21,74.91" fill="#b01818" stroke="#6a0a0a" stroke-width="0.4"/>
<path d="M344.4 76.6H347.6" stroke="#f6d0d0" stroke-width="0.7"/>
<polygon points="353,68.8 353.79,70.91 356.04,71.01 354.28,72.42 354.88,74.59 353,73.34 351.12,74.59 351.72,72.42 349.96,71.01 352.21,70.91" fill="#b01818" stroke="#6a0a0a" stroke-width="0.4"/>
<path d="M351.4 72.6H354.6" stroke="#f6d0d0" stroke-width="0.7"/>
<polygon points="353,76.8 353.79,78.91 356.04,79.01 354.28,80.42 354.88,82.59 353,81.34 351.12,82.59 351.72,80.42 349.96,79.01 352.21,78.91" fill="#b01818" stroke="#6a0a0a" stroke-width="0.4"/>
<path d="M351.4 80.6H354.6" stroke="#f6d0d0" stroke-width="0.7"/>
<polygon points="358,74.8 358.79,76.91 361.04,77.01 359.28,78.42 359.88,80.59 358,79.34 356.12,80.59 356.72,78.42 354.96,77.01 357.21,76.91" fill="#b01818" stroke="#6a0a0a" stroke-width="0.4"/>
<path d="M356.4 78.6H359.6" stroke="#f6d0d0" stroke-width="0.7"/>
<polygon points="362,78.8 362.79,80.91 365.04,81.01 363.28,82.42 363.88,84.59 362,83.34 360.12,84.59 360.72,82.42 358.96,81.01 361.21,80.91" fill="#b01818" stroke="#6a0a0a" stroke-width="0.4"/>
<path d="M360.4 82.6H363.6" stroke="#f6d0d0" stroke-width="0.7"/>
<polygon points="349.5,75.3 350.29,77.41 352.54,77.51 350.78,78.92 351.38,81.09 349.5,79.84 347.62,81.09 348.22,78.92 346.46,77.51 348.71,77.41" fill="#b01818" stroke="#6a0a0a" stroke-width="0.4"/>
<path d="M347.9 79.1H351.1" stroke="#f6d0d0" stroke-width="0.7"/>
<polygon points="356,80.8 356.79,82.91 359.04,83.01 357.28,84.42 357.88,86.59 356,85.34 354.12,86.59 354.72,84.42 352.96,83.01 355.21,82.91" fill="#b01818" stroke="#6a0a0a" stroke-width="0.4"/>
<path d="M354.4 84.6H357.6" stroke="#f6d0d0" stroke-width="0.7"/>
<polygon points="365,73.8 365.79,75.91 368.04,76.01 366.28,77.42 366.88,79.59 365,78.34 363.12,79.59 363.72,77.42 361.96,76.01 364.21,75.91" fill="#b01818" stroke="#6a0a0a" stroke-width="0.4"/>
<path d="M363.4 77.6H366.6" stroke="#f6d0d0" stroke-width="0.7"/>
<polygon points="380,79.8 380.79,81.91 383.04,82.01 381.28,83.42 381.88,85.59 380,84.34 378.12,85.59 378.72,83.42 376.96,82.01 379.21,81.91" fill="#b01818" stroke="#6a0a0a" stroke-width="0.4"/>
<path d="M378.4 83.6H381.6" stroke="#f6d0d0" stroke-width="0.7"/>
<polygon points="380,84.8 380.79,86.91 383.04,87.01 381.28,88.42 381.88,90.59 380,89.34 378.12,90.59 378.72,88.42 376.96,87.01 379.21,86.91" fill="#b01818" stroke="#6a0a0a" stroke-width="0.4"/>
<path d="M378.4 88.6H381.6" stroke="#f6d0d0" stroke-width="0.7"/>
<polygon points="380,88.8 380.79,90.91 383.04,91.01 381.28,92.42 381.88,94.59 380,93.34 378.12,94.59 378.72,92.42 376.96,91.01 379.21,90.91" fill="#b01818" stroke="#6a0a0a" stroke-width="0.4"/>
<path d="M378.4 92.6H381.6" stroke="#f6d0d0" stroke-width="0.7"/>
<polygon points="395,91.2 395.79,93.31 398.04,93.41 396.28,94.82 396.88,96.99 395,95.74 393.12,96.99 393.72,94.82 391.96,93.41 394.21,93.31" fill="#b01818" stroke="#6a0a0a" stroke-width="0.4"/>
<path d="M393.4 95H396.6" stroke="#f6d0d0" stroke-width="0.7"/>
<polygon points="395,94.8 395.79,96.91 398.04,97.01 396.28,98.42 396.88,100.59 395,99.34 393.12,100.59 393.72,98.42 391.96,97.01 394.21,96.91" fill="#b01818" stroke="#6a0a0a" stroke-width="0.4"/>
<path d="M393.4 98.6H396.6" stroke="#f6d0d0" stroke-width="0.7"/>
<polygon points="401.6,98.8 402.39,100.91 404.64,101.01 402.88,102.42 403.48,104.59 401.6,103.34 399.72,104.59 400.32,102.42 398.56,101.01 400.81,100.91" fill="#b01818" stroke="#6a0a0a" stroke-width="0.4"/>
<path d="M400 102.6H403.2" stroke="#f6d0d0" stroke-width="0.7"/>
<polygon points="419,104.4 419.79,106.51 422.04,106.61 420.28,108.02 420.88,110.19 419,108.94 417.12,110.19 417.72,108.02 415.96,106.61 418.21,106.51" fill="#b01818" stroke="#6a0a0a" stroke-width="0.4"/>
<path d="M417.4 108.2H420.6" stroke="#f6d0d0" stroke-width="0.7"/>
<polygon points="430.4,106.8 431.19,108.91 433.44,109.01 431.68,110.42 432.28,112.59 430.4,111.34 428.52,112.59 429.12,110.42 427.36,109.01 429.61,108.91" fill="#b01818" stroke="#6a0a0a" stroke-width="0.4"/>
<path d="M428.8 110.6H432" stroke="#f6d0d0" stroke-width="0.7"/>
<polygon points="374,82.8 374.79,84.91 377.04,85.01 375.28,86.42 375.88,88.59 374,87.34 372.12,88.59 372.72,86.42 370.96,85.01 373.21,84.91" fill="#b01818" stroke="#6a0a0a" stroke-width="0.4"/>
<path d="M372.4 86.6H375.6" stroke="#f6d0d0" stroke-width="0.7"/>
<polygon points="368.5,79.8 369.29,81.91 371.54,82.01 369.78,83.42 370.38,85.59 368.5,84.34 366.62,85.59 367.22,83.42 365.46,82.01 367.71,81.91" fill="#b01818" stroke="#6a0a0a" stroke-width="0.4"/>
<path d="M366.9 83.6H370.1" stroke="#f6d0d0" stroke-width="0.7"/>
<polygon points="389,87.8 389.79,89.91 392.04,90.01 390.28,91.42 390.88,93.59 389,92.34 387.12,93.59 387.72,91.42 385.96,90.01 388.21,89.91" fill="#b01818" stroke="#6a0a0a" stroke-width="0.4"/>
<path d="M387.4 91.6H390.6" stroke="#f6d0d0" stroke-width="0.7"/>
<circle cx="414" cy="81.8" r="2.3" fill="#fff" stroke="#8a1a9a" stroke-width="0.6"/><path d="M411.7 81.8A2.3 2.3 0 0 1 416.3 81.8Z" fill="#9a1ab0"/>
<circle cx="432" cy="87" r="2.3" fill="#fff" stroke="#8a1a9a" stroke-width="0.6"/><path d="M429.7 87A2.3 2.3 0 0 1 434.3 87Z" fill="#9a1ab0"/>
<circle cx="436" cy="86.4" r="2.3" fill="#fff" stroke="#8a1a9a" stroke-width="0.6"/><path d="M433.7 86.4A2.3 2.3 0 0 1 438.3 86.4Z" fill="#9a1ab0"/>
<circle cx="446" cy="92" r="2.3" fill="#fff" stroke="#8a1a9a" stroke-width="0.6"/><path d="M443.7 92A2.3 2.3 0 0 1 448.3 92Z" fill="#9a1ab0"/>
<circle cx="461" cy="91.7" r="2.3" fill="#fff" stroke="#8a1a9a" stroke-width="0.6"/><path d="M458.7 91.7A2.3 2.3 0 0 1 463.3 91.7Z" fill="#9a1ab0"/>
<circle cx="462" cy="95.6" r="2.3" fill="#fff" stroke="#8a1a9a" stroke-width="0.6"/><path d="M459.7 95.6A2.3 2.3 0 0 1 464.3 95.6Z" fill="#9a1ab0"/>
<circle cx="463.9" cy="101.5" r="2.3" fill="#fff" stroke="#8a1a9a" stroke-width="0.6"/><path d="M461.6 101.5A2.3 2.3 0 0 1 466.2 101.5Z" fill="#9a1ab0"/>
<circle cx="477.7" cy="98" r="2.3" fill="#fff" stroke="#8a1a9a" stroke-width="0.6"/><path d="M475.4 98A2.3 2.3 0 0 1 480 98Z" fill="#9a1ab0"/>
<circle cx="477.7" cy="104.8" r="2.3" fill="#fff" stroke="#8a1a9a" stroke-width="0.6"/><path d="M475.4 104.8A2.3 2.3 0 0 1 480 104.8Z" fill="#9a1ab0"/>
<circle cx="352" cy="65" r="2.3" fill="#fff" stroke="#8a1a9a" stroke-width="0.6"/><path d="M349.7 65A2.3 2.3 0 0 1 354.3 65Z" fill="#9a1ab0"/>
<circle cx="366" cy="72" r="2.3" fill="#fff" stroke="#8a1a9a" stroke-width="0.6"/><path d="M363.7 72A2.3 2.3 0 0 1 368.3 72Z" fill="#9a1ab0"/>
<circle cx="371" cy="76" r="2.3" fill="#fff" stroke="#8a1a9a" stroke-width="0.6"/><path d="M368.7 76A2.3 2.3 0 0 1 373.3 76Z" fill="#9a1ab0"/>
<circle cx="391" cy="70" r="2.3" fill="#fff" stroke="#8a1a9a" stroke-width="0.6"/><path d="M388.7 70A2.3 2.3 0 0 1 393.3 70Z" fill="#9a1ab0"/>
<circle cx="399" cy="76" r="2.3" fill="#fff" stroke="#8a1a9a" stroke-width="0.6"/><path d="M396.7 76A2.3 2.3 0 0 1 401.3 76Z" fill="#9a1ab0"/>
<circle cx="404" cy="72.5" r="2.3" fill="#fff" stroke="#8a1a9a" stroke-width="0.6"/><path d="M401.7 72.5A2.3 2.3 0 0 1 406.3 72.5Z" fill="#9a1ab0"/>
<circle cx="420" cy="78" r="2.3" fill="#fff" stroke="#8a1a9a" stroke-width="0.6"/><path d="M417.7 78A2.3 2.3 0 0 1 422.3 78Z" fill="#9a1ab0"/>
<path d="M385.8 70.9L388.7 65.68H382.9Z" fill="#d61ad6" stroke="#6a0a6a" stroke-width="0.5"/>
<path d="M385.8 75.9L388.7 70.68H382.9Z" fill="#d61ad6" stroke="#6a0a6a" stroke-width="0.5"/>
<path d="M385.8 80.9L388.7 75.68H382.9Z" fill="#d61ad6" stroke="#6a0a6a" stroke-width="0.5"/>
<path d="M385.8 86.9L388.7 81.68H382.9Z" fill="#d61ad6" stroke="#6a0a6a" stroke-width="0.5"/>
<path d="M385.8 92.9L388.7 87.68H382.9Z" fill="#d61ad6" stroke="#6a0a6a" stroke-width="0.5"/>
<path d="M401.6 82.2L404.5 76.98H398.7Z" fill="#d61ad6" stroke="#6a0a6a" stroke-width="0.5"/>
<path d="M405 85.9L407.9 80.68H402.1Z" fill="#d61ad6" stroke="#6a0a6a" stroke-width="0.5"/>
<path d="M408.8 84.2L411.7 78.98H405.9Z" fill="#d61ad6" stroke="#6a0a6a" stroke-width="0.5"/>
<path d="M425.8 76.9L428.7 71.68H422.9Z" fill="#d61ad6" stroke="#6a0a6a" stroke-width="0.5"/>
<path d="M428.4 82.8L431.3 77.58H425.5Z" fill="#d61ad6" stroke="#6a0a6a" stroke-width="0.5"/>
<path d="M433.7 83.9L436.6 78.68H430.8Z" fill="#d61ad6" stroke="#6a0a6a" stroke-width="0.5"/>
<path d="M440 87.4L442.9 82.18H437.1Z" fill="#d61ad6" stroke="#6a0a6a" stroke-width="0.5"/>
<path d="M444 86.7L446.9 81.48H441.1Z" fill="#d61ad6" stroke="#6a0a6a" stroke-width="0.5"/>
<path d="M446.8 85.9L449.7 80.68H443.9Z" fill="#d61ad6" stroke="#6a0a6a" stroke-width="0.5"/>
<path d="M442.9 91.3L445.8 86.08H440Z" fill="#d61ad6" stroke="#6a0a6a" stroke-width="0.5"/>
<path d="M446 93.9L448.9 88.68H443.1Z" fill="#d61ad6" stroke="#6a0a6a" stroke-width="0.5"/>
<path d="M441.5 95.9L444.4 90.68H438.6Z" fill="#d61ad6" stroke="#6a0a6a" stroke-width="0.5"/>
<path d="M412 86.9L414.9 81.68H409.1Z" fill="#d61ad6" stroke="#6a0a6a" stroke-width="0.5"/>
<path d="M437 90.9L439.9 85.68H434.1Z" fill="#d61ad6" stroke="#6a0a6a" stroke-width="0.5"/>
<circle cx="347" cy="82" r="2.35" fill="#e41212" stroke="#8a0a0a" stroke-width="0.5"/>
<circle cx="376" cy="97" r="2.35" fill="#e41212" stroke="#8a0a0a" stroke-width="0.5"/>
<circle cx="385" cy="97" r="2.35" fill="#e41212" stroke="#8a0a0a" stroke-width="0.5"/>
<circle cx="394.4" cy="78.7" r="2.35" fill="#e41212" stroke="#8a0a0a" stroke-width="0.5"/>
<circle cx="394.4" cy="85.9" r="2.35" fill="#e41212" stroke="#8a0a0a" stroke-width="0.5"/>
<circle cx="394.4" cy="82" r="2.35" fill="#e41212" stroke="#8a0a0a" stroke-width="0.5"/>
<circle cx="408.8" cy="88.5" r="2.35" fill="#e41212" stroke="#8a0a0a" stroke-width="0.5"/>
<circle cx="414" cy="90.5" r="2.35" fill="#e41212" stroke="#8a0a0a" stroke-width="0.5"/>
<circle cx="415.4" cy="97" r="2.35" fill="#e41212" stroke="#8a0a0a" stroke-width="0.5"/>
<circle cx="412" cy="87.7" r="2.35" fill="#e41212" stroke="#8a0a0a" stroke-width="0.5"/>
<circle cx="414.6" cy="93" r="2.35" fill="#e41212" stroke="#8a0a0a" stroke-width="0.5"/>
<circle cx="415" cy="97" r="2.35" fill="#e41212" stroke="#8a0a0a" stroke-width="0.5"/>
<circle cx="419" cy="89" r="2.35" fill="#e41212" stroke="#8a0a0a" stroke-width="0.5"/>
<circle cx="425.8" cy="100.9" r="2.35" fill="#e41212" stroke="#8a0a0a" stroke-width="0.5"/>
<circle cx="427.7" cy="102.9" r="2.35" fill="#e41212" stroke="#8a0a0a" stroke-width="0.5"/>
<circle cx="444.8" cy="98" r="2.35" fill="#e41212" stroke="#8a0a0a" stroke-width="0.5"/>
<circle cx="444.8" cy="102" r="2.35" fill="#e41212" stroke="#8a0a0a" stroke-width="0.5"/>
<circle cx="446.8" cy="107.5" r="2.35" fill="#e41212" stroke="#8a0a0a" stroke-width="0.5"/>
<circle cx="456" cy="105.5" r="2.35" fill="#e41212" stroke="#8a0a0a" stroke-width="0.5"/>
<circle cx="459" cy="105.5" r="2.35" fill="#e41212" stroke="#8a0a0a" stroke-width="0.5"/>
<circle cx="462.6" cy="106.8" r="2.35" fill="#e41212" stroke="#8a0a0a" stroke-width="0.5"/>
<circle cx="411" cy="92" r="2.35" fill="#e41212" stroke="#8a0a0a" stroke-width="0.5"/>
<circle cx="417" cy="94.5" r="2.35" fill="#e41212" stroke="#8a0a0a" stroke-width="0.5"/>
<circle cx="424" cy="98.5" r="2.35" fill="#e41212" stroke="#8a0a0a" stroke-width="0.5"/>
<circle cx="352" cy="84" r="2.35" fill="#e41212" stroke="#8a0a0a" stroke-width="0.5"/>
<circle cx="358" cy="86.5" r="2.35" fill="#e41212" stroke="#8a0a0a" stroke-width="0.5"/>
<rect x="348.55" y="56.55" width="4.9" height="4.9" fill="#050505"/>
<rect x="362.35" y="61.55" width="4.9" height="4.9" fill="#050505"/>
<rect x="370.55" y="65.55" width="4.9" height="4.9" fill="#050505"/>
<rect x="387.55" y="76.15" width="4.9" height="4.9" fill="#050505"/>
<rect x="391.55" y="72.25" width="4.9" height="4.9" fill="#050505"/>
<rect x="416.55" y="80.15" width="4.9" height="4.9" fill="#050505"/>
<rect x="419.05" y="78.55" width="4.9" height="4.9" fill="#050505"/>
<rect x="423.35" y="84.55" width="4.9" height="4.9" fill="#050505"/>
<rect x="424.55" y="93.15" width="4.9" height="4.9" fill="#050505"/>
<rect x="433.15" y="88.55" width="4.9" height="4.9" fill="#050505"/>
<rect x="433.15" y="93.55" width="4.9" height="4.9" fill="#050505"/>
<rect x="463.35" y="93.15" width="4.9" height="4.9" fill="#050505"/>
<rect x="462.55" y="101.55" width="4.9" height="4.9" fill="#050505"/>
<rect x="462.55" y="106.05" width="4.9" height="4.9" fill="#050505"/>
<rect x="420.55" y="82.05" width="4.9" height="4.9" fill="#050505"/>
<path d="M368 60.5L371 65.9H365Z" fill="#1616c8"/>
<path d="M376 69L379 74.4H373Z" fill="#1616c8"/>
<path d="M442.9 76L445.9 81.4H439.9Z" fill="#1616c8"/>
<path d="M370 66L373 71.4H367Z" fill="#1616c8"/>
<path d="M379 72L382 77.4H376Z" fill="#1616c8"/>
<path d="M360 63L363 68.4H357Z" fill="#1616c8"/>
<circle cx="360.8" cy="39.2" r="2.3" fill="#fff" stroke="#12129c" stroke-width="0.95"/><circle cx="360.3" cy="39.2" r="1.03" fill="#3030c8"/>
<circle cx="363.1" cy="40.3" r="2.3" fill="#fff" stroke="#12129c" stroke-width="0.95"/><circle cx="362.6" cy="40.3" r="1.03" fill="#3030c8"/>
<circle cx="363.6" cy="41.9" r="2.3" fill="#fff" stroke="#12129c" stroke-width="0.95"/><circle cx="363.1" cy="41.9" r="1.03" fill="#3030c8"/>
<circle cx="365.6" cy="43.4" r="2.3" fill="#fff" stroke="#12129c" stroke-width="0.95"/><circle cx="365.1" cy="43.4" r="1.03" fill="#3030c8"/>
<circle cx="367.2" cy="43.5" r="2.3" fill="#fff" stroke="#12129c" stroke-width="0.95"/><circle cx="366.7" cy="43.5" r="1.03" fill="#3030c8"/>
<circle cx="369.2" cy="45.0" r="2.3" fill="#fff" stroke="#12129c" stroke-width="0.95"/><circle cx="368.7" cy="45.0" r="1.03" fill="#3030c8"/>
<circle cx="371.5" cy="45.9" r="2.3" fill="#fff" stroke="#12129c" stroke-width="0.95"/><circle cx="371" cy="45.9" r="1.03" fill="#3030c8"/>
<circle cx="374.6" cy="48.9" r="2.3" fill="#fff" stroke="#12129c" stroke-width="0.95"/><circle cx="374.1" cy="48.9" r="1.03" fill="#3030c8"/>
<circle cx="374.6" cy="48.9" r="2.3" fill="#fff" stroke="#12129c" stroke-width="0.95"/><circle cx="374.1" cy="48.9" r="1.03" fill="#3030c8"/>
<circle cx="376.9" cy="50.4" r="2.3" fill="#fff" stroke="#12129c" stroke-width="0.95"/><circle cx="376.4" cy="50.4" r="1.03" fill="#3030c8"/>
<circle cx="378.2" cy="53.2" r="2.3" fill="#fff" stroke="#12129c" stroke-width="0.95"/><circle cx="377.7" cy="53.2" r="1.03" fill="#3030c8"/>
<circle cx="382.1" cy="53.1" r="2.3" fill="#fff" stroke="#12129c" stroke-width="0.95"/><circle cx="381.6" cy="53.1" r="1.03" fill="#3030c8"/>
<circle cx="382.7" cy="53.0" r="2.3" fill="#fff" stroke="#12129c" stroke-width="0.95"/><circle cx="382.2" cy="53.0" r="1.03" fill="#3030c8"/>
<circle cx="383.5" cy="55.0" r="2.3" fill="#fff" stroke="#12129c" stroke-width="0.95"/><circle cx="383" cy="55.0" r="1.03" fill="#3030c8"/>
<circle cx="385.7" cy="57.7" r="2.3" fill="#fff" stroke="#12129c" stroke-width="0.95"/><circle cx="385.2" cy="57.7" r="1.03" fill="#3030c8"/>
<circle cx="387.3" cy="56.3" r="2.3" fill="#fff" stroke="#12129c" stroke-width="0.95"/><circle cx="386.8" cy="56.3" r="1.03" fill="#3030c8"/>
<circle cx="391.0" cy="59.1" r="2.3" fill="#fff" stroke="#12129c" stroke-width="0.95"/><circle cx="390.5" cy="59.1" r="1.03" fill="#3030c8"/>
<circle cx="390.9" cy="60.3" r="2.3" fill="#fff" stroke="#12129c" stroke-width="0.95"/><circle cx="390.4" cy="60.3" r="1.03" fill="#3030c8"/>
<circle cx="392.4" cy="61.4" r="2.3" fill="#fff" stroke="#12129c" stroke-width="0.95"/><circle cx="391.9" cy="61.4" r="1.03" fill="#3030c8"/>
<circle cx="396.5" cy="63.6" r="2.3" fill="#fff" stroke="#12129c" stroke-width="0.95"/><circle cx="396" cy="63.6" r="1.03" fill="#3030c8"/>
<circle cx="397.6" cy="62.8" r="2.3" fill="#fff" stroke="#12129c" stroke-width="0.95"/><circle cx="397.1" cy="62.8" r="1.03" fill="#3030c8"/>
<circle cx="398.6" cy="63.7" r="2.3" fill="#fff" stroke="#12129c" stroke-width="0.95"/><circle cx="398.1" cy="63.7" r="1.03" fill="#3030c8"/>
<circle cx="401.4" cy="66.0" r="2.3" fill="#fff" stroke="#12129c" stroke-width="0.95"/><circle cx="400.9" cy="66.0" r="1.03" fill="#3030c8"/>
<circle cx="403.2" cy="66.5" r="2.3" fill="#fff" stroke="#12129c" stroke-width="0.95"/><circle cx="402.7" cy="66.5" r="1.03" fill="#3030c8"/>
<circle cx="403.7" cy="69.2" r="2.3" fill="#fff" stroke="#12129c" stroke-width="0.95"/><circle cx="403.2" cy="69.2" r="1.03" fill="#3030c8"/>
<circle cx="407.4" cy="70.5" r="2.3" fill="#fff" stroke="#12129c" stroke-width="0.95"/><circle cx="406.9" cy="70.5" r="1.03" fill="#3030c8"/>
<circle cx="408.7" cy="71.5" r="2.3" fill="#fff" stroke="#12129c" stroke-width="0.95"/><circle cx="408.2" cy="71.5" r="1.03" fill="#3030c8"/>
<path d="M355 48.5L357.9 52.5L355 56.5L352.1 52.5Z" fill="#136a1c" stroke="#0a3a10" stroke-width="0.4"/>
<path d="M383.6 54.3L386.5 58.3L383.6 62.3L380.7 58.3Z" fill="#136a1c" stroke="#0a3a10" stroke-width="0.4"/>
<path d="M383.6 58L386.5 62L383.6 66L380.7 62Z" fill="#136a1c" stroke="#0a3a10" stroke-width="0.4"/>
<path d="M405 57.4L407.9 61.4L405 65.4L402.1 61.4Z" fill="#136a1c" stroke="#0a3a10" stroke-width="0.4"/>
<path d="M405 60.5L407.9 64.5L405 68.5L402.1 64.5Z" fill="#136a1c" stroke="#0a3a10" stroke-width="0.4"/>
<path d="M429.7 66L432.6 70L429.7 74L426.8 70Z" fill="#136a1c" stroke="#0a3a10" stroke-width="0.4"/>
<path d="M355.2 53L360.6 50V56Z" fill="#10107a"/>
<path d="M407.4 65.3L412.8 62.3V68.3Z" fill="#10107a"/>
<path d="M415 65.9L420.4 62.9V68.9Z" fill="#10107a"/>
<path d="M424.7 68L430.1 65V71Z" fill="#10107a"/>
<path d="M369 62L374.4 59V65Z" fill="#10107a"/>
<path d="M363 60L368.4 57V63Z" fill="#10107a"/>
<rect x="435.3" y="51.7" width="4.6" height="4.6" fill="#fff" stroke="#777" stroke-width="0.5"/><rect x="437.6" y="51.7" width="2.3" height="4.6" fill="#808080"/>
<rect x="439.2" y="49.2" width="4.6" height="4.6" fill="#fff" stroke="#777" stroke-width="0.5"/><rect x="441.5" y="49.2" width="2.3" height="4.6" fill="#808080"/>
<rect x="449.7" y="55.7" width="4.6" height="4.6" fill="#fff" stroke="#777" stroke-width="0.5"/><rect x="452" y="55.7" width="2.3" height="4.6" fill="#808080"/>
<rect x="450.7" y="52.7" width="4.6" height="4.6" fill="#fff" stroke="#777" stroke-width="0.5"/><rect x="453" y="52.7" width="2.3" height="4.6" fill="#808080"/>
<rect x="464.2" y="63.7" width="4.6" height="4.6" fill="#fff" stroke="#777" stroke-width="0.5"/><rect x="466.5" y="63.7" width="2.3" height="4.6" fill="#808080"/>
<rect x="470.1" y="68.3" width="4.6" height="4.6" fill="#fff" stroke="#777" stroke-width="0.5"/><rect x="472.4" y="68.3" width="2.3" height="4.6" fill="#808080"/>
<rect x="475.7" y="75.5" width="4.6" height="4.6" fill="#fff" stroke="#777" stroke-width="0.5"/><rect x="478" y="75.5" width="2.3" height="4.6" fill="#808080"/>
<rect x="480.7" y="73.5" width="4.6" height="4.6" fill="#fff" stroke="#777" stroke-width="0.5"/><rect x="483" y="73.5" width="2.3" height="4.6" fill="#808080"/>
<rect x="483.7" y="74.7" width="4.6" height="4.6" fill="#fff" stroke="#777" stroke-width="0.5"/><rect x="486" y="74.7" width="2.3" height="4.6" fill="#808080"/>
<path d="M413 48.1L415.5 51.5L413 54.9L410.5 51.5Z" fill="#fff" stroke="#e0187a" stroke-width="0.6"/><path d="M413 48.1L410.5 51.5L413 54.9Z" fill="#ee1a84"/>
<path d="M423 48.1L425.5 51.5L423 54.9L420.5 51.5Z" fill="#fff" stroke="#e0187a" stroke-width="0.6"/><path d="M423 48.1L420.5 51.5L423 54.9Z" fill="#ee1a84"/>
<path d="M427 56.6L429.5 60L427 63.4L424.5 60Z" fill="#fff" stroke="#e0187a" stroke-width="0.6"/><path d="M427 56.6L424.5 60L427 63.4Z" fill="#ee1a84"/>
<path d="M437.6 60L440.1 63.4L437.6 66.8L435.1 63.4Z" fill="#fff" stroke="#e0187a" stroke-width="0.6"/><path d="M437.6 60L435.1 63.4L437.6 66.8Z" fill="#ee1a84"/>
<path d="M444 64.6L446.5 68L444 71.4L441.5 68Z" fill="#fff" stroke="#e0187a" stroke-width="0.6"/><path d="M444 64.6L441.5 68L444 71.4Z" fill="#ee1a84"/>
<path d="M446 66.6L448.5 70L446 73.4L443.5 70Z" fill="#fff" stroke="#e0187a" stroke-width="0.6"/><path d="M446 66.6L443.5 70L446 73.4Z" fill="#ee1a84"/>
<path d="M452.7 58.6L455.2 62L452.7 65.4L450.2 62Z" fill="#fff" stroke="#e0187a" stroke-width="0.6"/><path d="M452.7 58.6L450.2 62L452.7 65.4Z" fill="#ee1a84"/>
<path d="M454.7 70.5L457.2 73.9L454.7 77.3L452.2 73.9Z" fill="#fff" stroke="#e0187a" stroke-width="0.6"/><path d="M454.7 70.5L452.2 73.9L454.7 77.3Z" fill="#ee1a84"/>
<path d="M461 67.2L463.5 70.6L461 74L458.5 70.6Z" fill="#fff" stroke="#e0187a" stroke-width="0.6"/><path d="M461 67.2L458.5 70.6L461 74Z" fill="#ee1a84"/>
<path d="M463 73.1L465.5 76.5L463 79.9L460.5 76.5Z" fill="#fff" stroke="#e0187a" stroke-width="0.6"/><path d="M463 73.1L460.5 76.5L463 79.9Z" fill="#ee1a84"/>
<path d="M465.8 72.4L468.3 75.8L465.8 79.2L463.3 75.8Z" fill="#fff" stroke="#e0187a" stroke-width="0.6"/><path d="M465.8 72.4L463.3 75.8L465.8 79.2Z" fill="#ee1a84"/>
<path d="M470 82.3L472.5 85.7L470 89.1L467.5 85.7Z" fill="#fff" stroke="#e0187a" stroke-width="0.6"/><path d="M470 82.3L467.5 85.7L470 89.1Z" fill="#ee1a84"/>
<path d="M474 78.4L476.5 81.8L474 85.2L471.5 81.8Z" fill="#fff" stroke="#e0187a" stroke-width="0.6"/><path d="M474 78.4L471.5 81.8L474 85.2Z" fill="#ee1a84"/>
<path d="M478 79L480.5 82.4L478 85.8L475.5 82.4Z" fill="#fff" stroke="#e0187a" stroke-width="0.6"/><path d="M478 79L475.5 82.4L478 85.8Z" fill="#ee1a84"/>
<path d="M481.6 84.6L484.1 88L481.6 91.4L479.1 88Z" fill="#fff" stroke="#e0187a" stroke-width="0.6"/><path d="M481.6 84.6L479.1 88L481.6 91.4Z" fill="#ee1a84"/>
<path d="M485.6 90.3L488.1 93.7L485.6 97.1L483.1 93.7Z" fill="#fff" stroke="#e0187a" stroke-width="0.6"/><path d="M485.6 90.3L483.1 93.7L485.6 97.1Z" fill="#ee1a84"/>
<path d="M405.7 45.6L408.2 49L405.7 52.4L403.2 49Z" fill="#fff" stroke="#e0187a" stroke-width="0.6"/><path d="M405.7 45.6L403.2 49L405.7 52.4Z" fill="#ee1a84"/>
<path d="M419.8 43.2L422.3 46.6L419.8 50L417.3 46.6Z" fill="#fff" stroke="#e0187a" stroke-width="0.6"/><path d="M419.8 43.2L417.3 46.6L419.8 50Z" fill="#ee1a84"/>
<path d="M416 50.6L418.5 54L416 57.4L413.5 54Z" fill="#fff" stroke="#e0187a" stroke-width="0.6"/><path d="M416 50.6L413.5 54L416 57.4Z" fill="#ee1a84"/>
<path d="M432 52.6L434.5 56L432 59.4L429.5 56Z" fill="#fff" stroke="#e0187a" stroke-width="0.6"/><path d="M432 52.6L429.5 56L432 59.4Z" fill="#ee1a84"/>
<path d="M409 42.6L411.5 46L409 49.4L406.5 46Z" fill="#fff" stroke="#e0187a" stroke-width="0.6"/><path d="M409 42.6L406.5 46L409 49.4Z" fill="#ee1a84"/>
<polygon points="465,50.8 467.57,52.67 466.59,55.68 463.41,55.68 462.43,52.67" fill="#fff" stroke="#c09050" stroke-width="0.6"/>
<polygon points="476.4,56.1 478.97,57.97 477.99,60.98 474.81,60.98 473.83,57.97" fill="#fff" stroke="#c09050" stroke-width="0.6"/>
<polygon points="447.5,45.3 450.07,47.17 449.09,50.18 445.91,50.18 444.93,47.17" fill="#fff" stroke="#c09050" stroke-width="0.6"/>
<polygon points="447.5,52.1 450.07,53.97 449.09,56.98 445.91,56.98 444.93,53.97" fill="#fff" stroke="#c09050" stroke-width="0.6"/>
<polygon points="432,46.9 434.57,48.77 433.59,51.78 430.41,51.78 429.43,48.77" fill="#fff" stroke="#c09050" stroke-width="0.6"/>
<polygon points="424.5,44.3 427.07,46.17 426.09,49.18 422.91,49.18 421.93,46.17" fill="#fff" stroke="#c09050" stroke-width="0.6"/>
<polygon points="462,47.3 464.57,49.17 463.59,52.18 460.41,52.18 459.43,49.17" fill="#fff" stroke="#c09050" stroke-width="0.6"/>
<polygon points="474,52.8 476.57,54.67 475.59,57.68 472.41,57.68 471.43,54.67" fill="#fff" stroke="#c09050" stroke-width="0.6"/>
<path d="M421 36.7L424 42.1H418Z" fill="#fff" stroke="#38b070" stroke-width="0.6"/>
<path d="M425.8 41.3L428.8 46.7H422.8Z" fill="#fff" stroke="#38b070" stroke-width="0.6"/>
<path d="M435 40.7L438 46.1H432Z" fill="#fff" stroke="#38b070" stroke-width="0.6"/>
<path d="M453.4 45L456.4 50.4H450.4Z" fill="#fff" stroke="#38b070" stroke-width="0.6"/>
<path d="M469.8 45L472.8 50.4H466.8Z" fill="#fff" stroke="#38b070" stroke-width="0.6"/>
<path d="M473.7 40.7L476.7 46.1H470.7Z" fill="#fff" stroke="#38b070" stroke-width="0.6"/>
<path d="M479.6 44.6L482.6 50H476.6Z" fill="#fff" stroke="#38b070" stroke-width="0.6"/>
<path d="M441 44L444 49.4H438Z" fill="#fff" stroke="#38b070" stroke-width="0.6"/>
<path d="M466 43L469 48.4H463Z" fill="#fff" stroke="#38b070" stroke-width="0.6"/>
<path d="M419 35.2L421.7 38.4L419 41.6L416.3 38.4Z" fill="#fff" stroke="#3aa0a0" stroke-width="0.6"/>
<path d="M412.6 40.4L415.3 43.6L412.6 46.8L409.9 43.6Z" fill="#fff" stroke="#3aa0a0" stroke-width="0.6"/>
<path d="M416.6 39.8L419.3 43L416.6 46.2L413.9 43Z" fill="#fff" stroke="#3aa0a0" stroke-width="0.6"/>
<path d="M429.7 34.5L432.4 37.7L429.7 40.9L427 37.7Z" fill="#fff" stroke="#3aa0a0" stroke-width="0.6"/>
<path d="M432 40.5L434.7 43.7L432 46.9L429.3 43.7Z" fill="#fff" stroke="#3aa0a0" stroke-width="0.6"/>
<path d="M448 39.8L450.7 43L448 46.2L445.3 43Z" fill="#fff" stroke="#3aa0a0" stroke-width="0.6"/>
<path d="M453 40.5L455.7 43.7L453 46.9L450.3 43.7Z" fill="#fff" stroke="#3aa0a0" stroke-width="0.6"/>
<path d="M483 41.1L485.7 44.3L483 47.5L480.3 44.3Z" fill="#fff" stroke="#3aa0a0" stroke-width="0.6"/>
<path d="M437 36.8L439.7 40L437 43.2L434.3 40Z" fill="#fff" stroke="#3aa0a0" stroke-width="0.6"/>
<polygon points="394.05,39 392.88,41.04 390.52,41.04 389.35,39 390.52,36.96 392.88,36.96" fill="#fff" stroke="#6a8ad0" stroke-width="0.6"/>
<polygon points="397.35,37 396.18,39.04 393.82,39.04 392.65,37 393.82,34.96 396.18,34.96" fill="#fff" stroke="#6a8ad0" stroke-width="0.6"/>
<polygon points="401.35,37 400.18,39.04 397.82,39.04 396.65,37 397.82,34.96 400.18,34.96" fill="#fff" stroke="#6a8ad0" stroke-width="0.6"/>
<polygon points="392.35,43 391.18,45.04 388.82,45.04 387.65,43 388.82,40.96 391.18,40.96" fill="#fff" stroke="#6a8ad0" stroke-width="0.6"/>
<polygon points="396.35,43 395.18,45.04 392.82,45.04 391.65,43 392.82,40.96 395.18,40.96" fill="#fff" stroke="#6a8ad0" stroke-width="0.6"/>
<polygon points="400.35,44 399.18,46.04 396.82,46.04 395.65,44 396.82,41.96 399.18,41.96" fill="#fff" stroke="#6a8ad0" stroke-width="0.6"/>
<polygon points="387.35,45.5 386.18,47.54 383.82,47.54 382.65,45.5 383.82,43.46 386.18,43.46" fill="#fff" stroke="#6a8ad0" stroke-width="0.6"/>
<polygon points="396.95,47.8 395.78,49.84 393.43,49.84 392.25,47.8 393.43,45.76 395.78,45.76" fill="#fff" stroke="#6a8ad0" stroke-width="0.6"/>
<polygon points="413.95,40 412.78,42.04 410.43,42.04 409.25,40 410.43,37.96 412.78,37.96" fill="#fff" stroke="#6a8ad0" stroke-width="0.6"/>
<polygon points="418.35,43 417.18,45.04 414.82,45.04 413.65,43 414.82,40.96 417.18,40.96" fill="#fff" stroke="#6a8ad0" stroke-width="0.6"/>
<polygon points="422.35,39 421.18,41.04 418.82,41.04 417.65,39 418.82,36.96 421.18,36.96" fill="#fff" stroke="#6a8ad0" stroke-width="0.6"/>
<polygon points="426.75,45 425.57,47.04 423.22,47.04 422.05,45 423.22,42.96 425.57,42.96" fill="#fff" stroke="#6a8ad0" stroke-width="0.6"/>
<polygon points="404.35,40 403.18,42.04 400.82,42.04 399.65,40 400.82,37.96 403.18,37.96" fill="#fff" stroke="#6a8ad0" stroke-width="0.6"/>
<polygon points="403.35,46 402.18,48.04 399.82,48.04 398.65,46 399.82,43.96 402.18,43.96" fill="#fff" stroke="#6a8ad0" stroke-width="0.6"/>
<polygon points="410.35,43.5 409.18,45.54 406.82,45.54 405.65,43.5 406.82,41.46 409.18,41.46" fill="#fff" stroke="#6a8ad0" stroke-width="0.6"/>
<polygon points="430.35,41 429.18,43.04 426.82,43.04 425.65,41 426.82,38.96 429.18,38.96" fill="#fff" stroke="#6a8ad0" stroke-width="0.6"/>
<polygon points="442.35,44 441.18,46.04 438.82,46.04 437.65,44 438.82,41.96 441.18,41.96" fill="#fff" stroke="#6a8ad0" stroke-width="0.6"/>
<polygon points="446.35,40 445.18,42.04 442.82,42.04 441.65,40 442.82,37.96 445.18,37.96" fill="#fff" stroke="#6a8ad0" stroke-width="0.6"/>
<circle cx="367" cy="30" r="2.65" fill="url(#ballR)"/>
<circle cx="371" cy="32" r="2.65" fill="url(#ballR)"/>
<circle cx="369" cy="36" r="2.65" fill="url(#ballR)"/>
<circle cx="373" cy="34.8" r="2.65" fill="url(#ballR)"/>
<circle cx="365" cy="34.5" r="2.65" fill="url(#ballR)"/>
<circle cx="385.3" cy="33" r="2.65" fill="url(#ballR)"/>
<circle cx="385" cy="36.2" r="2.65" fill="url(#ballR)"/>
<circle cx="413.3" cy="30.3" r="2.65" fill="url(#ballR)"/>
<circle cx="405.7" cy="36" r="2.65" fill="url(#ballR)"/>
<circle cx="407" cy="39.6" r="2.65" fill="url(#ballR)"/>
<circle cx="414" cy="36.7" r="2.65" fill="url(#ballR)"/>
<circle cx="413" cy="33.5" r="2.65" fill="url(#ballR)"/>
<circle cx="434" cy="31.8" r="2.65" fill="url(#ballR)"/>
<circle cx="434" cy="35" r="2.65" fill="url(#ballR)"/>
<circle cx="442.9" cy="33.8" r="2.65" fill="url(#ballR)"/>
<circle cx="446" cy="33" r="2.65" fill="url(#ballR)"/>
<circle cx="445.5" cy="37" r="2.65" fill="url(#ballR)"/>
<circle cx="454.7" cy="29" r="2.65" fill="url(#ballR)"/>
<circle cx="452.7" cy="34.5" r="2.65" fill="url(#ballR)"/>
<circle cx="453.4" cy="37.7" r="2.65" fill="url(#ballR)"/>
<circle cx="456" cy="37" r="2.65" fill="url(#ballR)"/>
<circle cx="462" cy="40.4" r="2.65" fill="url(#ballR)"/>
<circle cx="458.6" cy="43.7" r="2.65" fill="url(#ballR)"/>
<circle cx="462" cy="43.7" r="2.65" fill="url(#ballR)"/>
<circle cx="457" cy="45.6" r="2.65" fill="url(#ballR)"/>
<circle cx="449" cy="36" r="2.65" fill="url(#ballR)"/>
<circle cx="459" cy="34" r="2.65" fill="url(#ballR)"/>
<text x="335.6" y="16.3" font-size="9.6" fill="#1a1a1a" textLength="22.4" lengthAdjust="spacingAndGlyphs">SMA,</text>
<text x="335.6" y="23.9" font-size="9.6" fill="#1a1a1a" textLength="36.4" lengthAdjust="spacingAndGlyphs">m = −2.0</text>
<line x1="342.7" y1="28.6" x2="351.6" y2="37.4" stroke="#111" stroke-width="1.1"/>
<path d="M353.6 39.4L348.3 37.4L351.6 34.1Z" fill="#111"/>
<text x="428.3" y="19.2" font-size="9.6" fill="#b8242a" textLength="121" lengthAdjust="spacingAndGlyphs">Co<tspan dy="2.2" font-size="6">25</tspan><tspan dy="-2.2" font-size="0.1"> </tspan>Ni<tspan dy="2.2" font-size="6">25</tspan><tspan dy="-2.2" font-size="0.1"> </tspan>(HfTiZr)<tspan dy="2.2" font-size="6">50</tspan><tspan dy="-2.2" font-size="0.1"> </tspan> (this work)</text>
<text x="553.6" y="66.2" font-size="9.6" fill="#1a1a1a" text-anchor="end" textLength="67.4" lengthAdjust="spacingAndGlyphs">BMG, m = −0.11</text>
<text x="554.6" y="81.8" font-size="9.6" fill="#1a1a1a" text-anchor="end" textLength="56" lengthAdjust="spacingAndGlyphs">IM, m = −0.70</text>
<text x="554.8" y="120.1" font-size="9.6" fill="#1a1a1a" text-anchor="end" textLength="65.5" lengthAdjust="spacingAndGlyphs">BCC, m = −0.35</text>
<text x="554.8" y="138.2" font-size="9.6" fill="#1a1a1a" text-anchor="end" textLength="65.1" lengthAdjust="spacingAndGlyphs">FCC, m = −0.60</text>
<line x1="345.4" y1="160" x2="354.8" y2="160" stroke="#333" stroke-width="0.9"/>
<text x="349.8" y="171.2" font-size="9.6" fill="#1a1a1a" text-anchor="middle">E</text>
<text x="357" y="163.2" font-size="9.6" fill="#1a1a1a">= kD<tspan dy="-3.2" font-size="6.5">m</tspan><tspan dy="3.2" font-size="0.1"> </tspan></text>
<line x1="611.3" y1="119.1" x2="614.4" y2="119.1" stroke="#111" stroke-width="1"/>
<line x1="631.5" y1="132.9" x2="634.5" y2="132.9" stroke="#111" stroke-width="1"/>
<rect x="578.09" y="3.29" width="4.21" height="4.21" fill="#050505"/>
<text x="586.4" y="8.6" font-size="9.5" fill="#1a1a1a" textLength="32.2" lengthAdjust="spacingAndGlyphs">Nb[001]</text>
<circle cx="580.2" cy="16.1" r="2.02" fill="#e41212" stroke="#8a0a0a" stroke-width="0.5"/>
<text x="586.4" y="19.3" font-size="9.5" fill="#1a1a1a" textLength="34" lengthAdjust="spacingAndGlyphs">Mo[001]</text>
<path d="M580.2 24.22L582.78 28.86H577.62Z" fill="#1616c8"/>
<text x="586.4" y="30" font-size="9.5" fill="#1a1a1a" textLength="30.9" lengthAdjust="spacingAndGlyphs">Ta[001]</text>
<path d="M580.2 39.99L582.69 35.5H577.71Z" fill="#d61ad6" stroke="#6a0a6a" stroke-width="0.5"/>
<text x="586.4" y="40.7" font-size="9.5" fill="#1a1a1a" textLength="29.1" lengthAdjust="spacingAndGlyphs">W[001]</text>
<path d="M580.2 45.68L582.95 48.6L580.2 51.52L577.45 48.6Z" fill="#136a1c" stroke="#0a3a10" stroke-width="0.4"/>
<text x="586.4" y="51.8" font-size="9.5" fill="#1a1a1a" textLength="65.7" lengthAdjust="spacingAndGlyphs">MoNbTaW[316]</text>
<path d="M577.62 59.3L582.26 56.72V61.88Z" fill="#10107a"/>
<text x="586.4" y="62.5" font-size="9.5" fill="#1a1a1a" textLength="65.7" lengthAdjust="spacingAndGlyphs">MoNbTaW[001]</text>
<path d="M582.26 70.2L578.55 68.14V72.26Z" fill="#efe6ff" stroke="#7a22e0" stroke-width="0.7"/><path d="M582.26 70.2L578.55 68.14V70.5Z" fill="#7a22e0"/>
<text x="586.4" y="73.4" font-size="9.5" fill="#1a1a1a" textLength="31.8" lengthAdjust="spacingAndGlyphs">Au[001]</text>
<circle cx="580.2" cy="80.9" r="1.98" fill="#fff" stroke="#8a1a9a" stroke-width="0.6"/><path d="M578.22 80.9A1.98 1.98 0 0 1 582.18 80.9Z" fill="#9a1ab0"/>
<text x="586.4" y="84.1" font-size="9.5" fill="#1a1a1a" textLength="32.2" lengthAdjust="spacingAndGlyphs">Cu[111]</text>
<polygon points="580.2,89.25 580.88,91.06 582.82,91.15 581.3,92.36 581.82,94.23 580.2,93.16 578.58,94.23 579.1,92.36 577.58,91.15 579.52,91.06" fill="#b01818" stroke="#6a0a0a" stroke-width="0.4"/>
<path d="M578.82 92.52H581.58" stroke="#f6d0d0" stroke-width="0.7"/>
<text x="586.4" y="95.2" font-size="9.5" fill="#1a1a1a" textLength="29.5" lengthAdjust="spacingAndGlyphs">Ni[111]</text>
<circle cx="580.2" cy="102.7" r="2.11" fill="#fbfbe8" stroke="#8a8a10" stroke-width="0.6"/><path d="M578.09 103A2.11 2.11 0 0 1 582.31 103Z" fill="#8c8c0c"/>
<text x="586.4" y="105.9" font-size="9.5" fill="#1a1a1a" textLength="29.5" lengthAdjust="spacingAndGlyphs">Ni[269]</text>
<circle cx="580.2" cy="113.6" r="1.98" fill="#fff" stroke="#12129c" stroke-width="0.95"/><circle cx="579.7" cy="113.6" r="0.89" fill="#3030c8"/>
<text x="586.4" y="116.8" font-size="9.5" fill="#1a1a1a" textLength="59.5" lengthAdjust="spacingAndGlyphs">Cu–Al–Ni[001]</text>
<path d="M580.2 121.68L582.35 124.6L580.2 127.52L578.05 124.6Z" fill="#fff" stroke="#e0187a" stroke-width="0.6"/><path d="M580.2 121.68L578.05 124.6L580.2 127.52Z" fill="#ee1a84"/>
<text x="586.4" y="127.8" font-size="9.5" fill="#1a1a1a" textLength="42.5" lengthAdjust="spacingAndGlyphs">Ni3Al[123]</text>
<rect x="578.22" y="136.42" width="3.96" height="3.96" fill="#fff" stroke="#777" stroke-width="0.5"/><rect x="580.2" y="136.42" width="1.98" height="3.96" fill="#808080"/>
<text x="586.4" y="141.6" font-size="9.5" fill="#1a1a1a" textLength="62.2" lengthAdjust="spacingAndGlyphs">Co3(Al,W)[136]</text>
<polygon points="582.22,152 581.21,153.75 579.19,153.75 578.18,152 579.19,150.25 581.21,150.25" fill="#fff" stroke="#6a8ad0" stroke-width="0.6"/>
<text x="586.4" y="155.2" font-size="9.5" fill="#1a1a1a" textLength="53.2" lengthAdjust="spacingAndGlyphs">Ni<tspan dy="2.2" font-size="6">78</tspan><tspan dy="-2.2" font-size="0.1"> </tspan>P<tspan dy="2.2" font-size="6">22</tspan><tspan dy="-2.2" font-size="0.1"> </tspan> BMG</text>
<path d="M580.2 162.95L582.52 165.7L580.2 168.45L577.88 165.7Z" fill="#fff" stroke="#3aa0a0" stroke-width="0.6"/>
<text x="586.4" y="168.9" font-size="9.5" fill="#1a1a1a" textLength="61.8" lengthAdjust="spacingAndGlyphs">Zr-based BMG</text>
<polygon points="580.2,174.08 582.41,175.68 581.56,178.28 578.84,178.28 577.99,175.68" fill="#fff" stroke="#c09050" stroke-width="0.6"/>
<text x="586.4" y="179.6" font-size="9.5" fill="#1a1a1a" textLength="63.4" lengthAdjust="spacingAndGlyphs">Fe-based BMG</text>
<path d="M580.2 184.92L582.78 189.56H577.62Z" fill="#fff" stroke="#38b070" stroke-width="0.6"/>
<text x="586.4" y="190.7" font-size="9.5" fill="#1a1a1a" textLength="66.6" lengthAdjust="spacingAndGlyphs">Mg-based BMG</text>
<circle cx="580.2" cy="198.2" r="2.28" fill="url(#ballR)"/>
<text x="586.4" y="201.4" font-size="9.5" fill="#1a1a1a" textLength="95.2" lengthAdjust="spacingAndGlyphs">Co<tspan dy="2.2" font-size="6">25</tspan><tspan dy="-2.2" font-size="0.1"> </tspan>Ni<tspan dy="2.2" font-size="6">25</tspan><tspan dy="-2.2" font-size="0.1"> </tspan>(HfTiZr)<tspan dy="2.2" font-size="6">50</tspan><tspan dy="-2.2" font-size="0.1"> </tspan>[111]</text>
<clipPath id="cl1"><rect x="22.7" y="234.5" width="125.2" height="354.3"/></clipPath>
<g clip-path="url(#cl1)" fill="#fff" stroke="url(#wf)" stroke-width="1.12" stroke-linejoin="round">
<path d="M19.2 600V271.4l3-0.1l3 0l3 0.1l3 0l3 0l3 0l3 0.1l3 0l3-0.1l3-0.1l3 0l3 0.1l3 0l3-0.1l3 0l3 0l3-0.1l3-0.4l1-0.2l1-0.3l1-0.5l1-0.7l1-1l1-1.3l1-1.8l1-2.2l1-2.6l1-2.8l1-2.9l1-2.7l1-2.1l1-1.4l1-0.4l1 0.6l1 1.6l1 2.2l1 2.8l1 2.9l1 2.8l1 2.6l1 2.1l1 1.7l1 1.3l1 0.9l1 0.6l1 0.4l1 0.2l1 0.2l1 0.1l1 0.1l3 0.2l3 0.1l3 0l3 0l3 0.1l3 0.1l3 0l3-0.1l3 0l3 0l3 0l3-0.1l3 0l3 0.1l3 0l1.2 0V600Z"/>
<path d="M19.2 600V276.8l3-0.1l3 0l3 0.1l3 0l3-0.1l3-0.1l3 0l3 0.1l3 0l3 0l3 0l3 0.1l3-0.1l3-0.1l3-0.1l3-0.2l3-0.3l1-0.2l1-0.3l1-0.5l1-0.7l1-1l1-1.4l1-1.8l1-2.2l1-2.6l1-2.8l1-2.9l1-2.6l1-2l1-1.4l1-0.4l1 0.6l1 1.5l1 2.2l1 2.7l1 2.8l1 2.8l1 2.6l1 2.1l1 1.7l1 1.3l1 1l1 0.6l1 0.5l1 0.3l1 0.1l1 0.2l1 0l3 0.2l3 0.2l3 0.1l3 0l3 0l3 0l3 0l3 0l3-0.1l3 0l3 0.1l3 0.1l3 0l3-0.1l3 0.1l3 0l1.2 0V600Z"/>
<path d="M19.2 600V282l3-0.1l3 0l3 0.1l3 0.1l3-0.1l3 0.1l3 0l3 0l3-0.1l3-0.1l3 0l3 0.1l3-0.1l3-0.1l3 0l3-0.2l1-0.2l1-0.2l1-0.3l1-0.6l1-0.7l1-1.1l1-1.5l1-1.8l1-2.3l1-2.6l1-2.9l1-2.8l1-2.6l1-2.1l1-1.3l1-0.4l1 0.6l1 1.5l1 2.2l1 2.7l1 2.9l1 2.8l1 2.6l1 2.2l1 1.8l1 1.3l1 1l1 0.7l1 0.5l1 0.3l1 0.2l1 0.1l1 0.1l1 0l3 0.1l3 0.1l3 0l3 0l3 0l3 0.1l3 0.1l3 0l3-0.1l3 0l3 0l3 0l3-0.1l3 0l3 0.1l3 0.1l2.2 0V600Z"/>
<path d="M19.2 600V287.4l3-0.1l3 0l3 0l3 0l3-0.1l3 0l3 0.1l3 0.1l3 0l3-0.1l3 0l3 0l3-0.1l3-0.2l3-0.2l3-0.3l1-0.2l1-0.4l1-0.5l1-0.9l1-1.2l1-1.5l1-2l1-2.4l1-2.8l1-2.8l1-2.8l1-2.5l1-1.8l1-1.1l1-0.1l1 0.9l1 1.7l1 2.3l1 2.7l1 2.9l1 2.7l1 2.5l1 2l1 1.7l1 1.3l1 0.9l1 0.6l1 0.5l1 0.3l1 0.2l1 0.2l1 0l1 0.1l3 0.2l3 0.1l3 0.1l3-0.1l3 0l3-0.1l3 0.1l3 0l3 0l3 0l3 0.1l3 0l3 0l3-0.1l3 0l3 0l3 0l0.2 0V600Z"/>
<path d="M19.2 600V292.5l3 0.1l3 0.1l3 0l3 0l3 0l3 0l3 0l3-0.1l3-0.1l3 0l3 0.1l3 0l3-0.1l3-0.1l3-0.2l1-0.1l1-0.2l1-0.3l1-0.5l1-0.6l1-1l1-1.2l1-1.7l1-2.1l1-2.4l1-2.8l1-2.8l1-2.8l1-2.4l1-1.7l1-1l1 0l1 0.9l1 1.8l1 2.4l1 2.7l1 2.9l1 2.8l1 2.5l1 2.1l1 1.6l1 1.3l1 0.9l1 0.7l1 0.4l1 0.3l1 0.2l1 0.1l1 0l1 0.1l3 0.1l3 0.1l3 0l3 0l3 0.1l3 0.1l3 0l3 0l3-0.1l3 0l3 0l3 0l3-0.1l3 0l3 0.1l3 0.1l3 0l1.2 0V600Z"/>
<path d="M19.2 600V298l3 0l3-0.1l3 0l3 0l3 0l3 0l3 0l3 0.1l3 0l3 0l3-0.1l3-0.1l3 0l3-0.2l3-0.4l1-0.3l1-0.3l1-0.4l1-0.7l1-0.9l1-1.3l1-1.7l1-2.1l1-2.5l1-2.7l1-2.9l1-2.7l1-2.4l1-1.7l1-0.8l1 0l1 1l1 1.9l1 2.4l1 2.8l1 2.8l1 2.8l1 2.4l1 2l1 1.6l1 1.2l1 0.9l1 0.7l1 0.4l1 0.3l1 0.2l1 0.2l1 0.1l1 0.1l3 0.2l3 0l3 0.1l3 0.1l3 0l3-0.1l3 0l3 0l3 0l3 0l3 0l3 0l3 0.1l3 0l3 0l3-0.1l3 0l2.2 0V600Z"/>
<path d="M19.2 600V303.3l3 0l3 0l3-0.1l3 0l3-0.1l3 0.1l3 0l3 0l3 0l3 0.1l3 0l3-0.2l3-0.2l3-0.2l1-0.1l1-0.1l1-0.2l1-0.3l1-0.5l1-0.7l1-1l1-1.3l1-1.8l1-2.1l1-2.5l1-2.8l1-2.8l1-2.7l1-2.3l1-1.7l1-0.8l1 0l1 1l1 1.8l1 2.3l1 2.8l1 2.8l1 2.7l1 2.5l1 2l1 1.7l1 1.3l1 1l1 0.7l1 0.4l1 0.3l1 0.2l1 0.2l1 0l1 0.1l3 0.2l3 0.2l3 0.1l3 0l3-0.1l3 0l3 0.1l3-0.1l3-0.1l3 0l3 0.1l3 0.1l3 0l3 0l3 0l3 0l3-0.1l3 0l0.2 0V600Z"/>
<path d="M19.2 600V308.5l3 0.1l3 0l3 0l3 0l3 0l3 0l3-0.1l3-0.1l3 0.1l3 0l3-0.1l3 0l3-0.1l3-0.2l1-0.2l1-0.2l1-0.4l1-0.5l1-0.7l1-1.1l1-1.4l1-1.7l1-2.2l1-2.5l1-2.8l1-2.8l1-2.7l1-2.4l1-1.6l1-0.9l1 0l1 0.9l1 1.8l1 2.3l1 2.7l1 2.9l1 2.8l1 2.5l1 2.2l1 1.7l1 1.4l1 1l1 0.7l1 0.5l1 0.3l1 0.2l1 0.1l1 0.1l1 0.1l3 0.1l3 0.1l3 0l3 0l3 0.1l3 0.1l3 0l3 0l3 0l3 0l3 0l3-0.1l3-0.1l3 0.1l3 0l3 0.1l3 0l3 0l1.2 0V600Z"/>
<path d="M19.2 600V313.9l3 0.1l3 0l3-0.1l3-0.1l3 0l3 0l3 0l3 0l3 0l3 0.1l3-0.1l3-0.1l3-0.2l3-0.4l1-0.2l1-0.4l1-0.5l1-0.8l1-1l1-1.4l1-1.8l1-2.2l1-2.5l1-2.8l1-2.8l1-2.7l1-2.3l1-1.7l1-0.8l1 0l1 0.9l1 1.7l1 2.4l1 2.7l1 2.8l1 2.8l1 2.5l1 2.1l1 1.8l1 1.4l1 1l1 0.8l1 0.5l1 0.3l1 0.2l1 0.2l1 0l1 0.1l3 0.1l3 0.2l3 0.1l3 0.1l3 0l3 0l3 0l3 0l3-0.1l3 0l3 0l3 0l3 0l3 0l3 0.1l3 0.1l3-0.1l3-0.1l2.2 0V600Z"/>
<path d="M19.2 600V319.1l3 0l3 0.1l3 0l3 0l3 0l3 0l3 0l3-0.1l3-0.1l3 0l3 0l3-0.1l3-0.2l1-0.1l1-0.2l1-0.2l1-0.4l1-0.5l1-0.8l1-1l1-1.4l1-1.8l1-2.2l1-2.5l1-2.8l1-2.9l1-2.7l1-2.4l1-1.7l1-0.9l1 0l1 0.8l1 1.7l1 2.4l1 2.7l1 2.9l1 2.7l1 2.6l1 2.2l1 1.8l1 1.4l1 1l1 0.8l1 0.6l1 0.4l1 0.2l1 0.2l1 0.2l1 0.1l3 0.1l3 0l3 0l3 0.1l3 0l3 0l3 0l3 0.1l3 0.1l3 0l3-0.1l3-0.1l3 0l3 0l3 0l3 0l3 0.1l3 0l3 0l0.2 0V600Z"/>
<path d="M19.2 600V324.5l3 0l3 0l3-0.1l3 0l3 0l3 0.1l3-0.1l3 0l3 0.1l3 0l3-0.2l3-0.2l3-0.3l1-0.2l1-0.3l1-0.3l1-0.6l1-0.7l1-1.1l1-1.4l1-1.9l1-2.2l1-2.5l1-2.8l1-2.8l1-2.7l1-2.3l1-1.6l1-0.9l1 0l1 0.8l1 1.7l1 2.3l1 2.6l1 2.8l1 2.8l1 2.5l1 2.2l1 1.8l1 1.5l1 1.1l1 0.8l1 0.6l1 0.4l1 0.2l1 0.2l1 0.1l1 0.1l1 0l3 0.2l3 0.2l3 0.1l3 0l3 0l3 0l3 0l3 0l3-0.1l3 0l3 0l3 0.1l3 0l3 0l3 0l3 0l3 0l3-0.1l3 0l0.2 0V600Z"/>
<path d="M19.2 600V329.7l3 0l3 0l3 0l3 0.1l3 0.1l3 0l3-0.1l3-0.1l3 0l3-0.1l3-0.1l3-0.2l1-0.1l1-0.1l1-0.2l1-0.2l1-0.4l1-0.5l1-0.7l1-1.1l1-1.4l1-1.8l1-2.2l1-2.6l1-2.8l1-2.8l1-2.7l1-2.4l1-1.7l1-1l1-0.1l1 0.8l1 1.5l1 2.2l1 2.6l1 2.8l1 2.8l1 2.6l1 2.2l1 1.9l1 1.6l1 1.2l1 0.8l1 0.7l1 0.4l1 0.3l1 0.3l1 0.1l1 0.1l1 0.1l3 0.1l3 0.1l3 0.1l3-0.1l3 0l3 0l3 0l3 0.1l3 0l3 0l3 0l3 0.1l3-0.1l3-0.1l3 0l3 0l3 0.1l3-0.1l3 0.1l1.2 0V600Z"/>
<path d="M19.2 600V335.2l3-0.1l3-0.1l3 0l3 0l3 0.1l3-0.1l3 0l3 0.1l3 0l3-0.1l3-0.2l3-0.3l1-0.1l1-0.2l1-0.3l1-0.3l1-0.6l1-0.8l1-1.1l1-1.4l1-1.8l1-2.2l1-2.5l1-2.7l1-2.9l1-2.6l1-2.4l1-1.7l1-1.1l1-0.1l1 0.7l1 1.4l1 2.2l1 2.5l1 2.8l1 2.8l1 2.6l1 2.4l1 1.9l1 1.6l1 1.2l1 0.9l1 0.7l1 0.4l1 0.3l1 0.2l1 0.1l1 0.1l1 0.1l3 0.2l3 0.2l3 0.1l3 0l3 0l3 0l3 0l3 0l3-0.1l3 0l3 0.1l3 0l3 0l3 0l3 0.1l3 0l3-0.1l3-0.1l3 0l2.2 0V600Z"/>
<path d="M19.2 600V340.5l3-0.1l3 0l3 0l3 0l3-0.1l3 0l3 0l3 0.1l3-0.1l3-0.1l3-0.1l3-0.3l1-0.2l1-0.3l1-0.4l1-0.6l1-0.8l1-1.1l1-1.4l1-1.8l1-2.2l1-2.5l1-2.7l1-2.9l1-2.6l1-2.4l1-1.8l1-1.1l1-0.3l1 0.6l1 1.4l1 2.1l1 2.5l1 2.8l1 2.8l1 2.7l1 2.4l1 2.1l1 1.6l1 1.3l1 1l1 0.6l1 0.5l1 0.3l1 0.2l1 0.1l1 0.1l1 0.1l3 0.2l3 0.1l3 0.1l3 0l3 0.1l3 0.1l3 0l3-0.1l3 0l3 0l3 0l3-0.1l3 0l3 0.1l3 0.1l3 0l3-0.1l3 0l3 0l3 0l0.2 0V600Z"/>
<path d="M19.2 600V345.6l3 0l3 0.1l3 0l3-0.1l3 0.1l3 0.1l3 0l3-0.2l3-0.1l3-0.1l3-0.2l1-0.1l1-0.1l1-0.2l1-0.3l1-0.4l1-0.6l1-0.8l1-1l1-1.4l1-1.7l1-2.1l1-2.5l1-2.7l1-2.8l1-2.7l1-2.5l1-1.9l1-1.2l1-0.4l1 0.5l1 1.3l1 2l1 2.5l1 2.8l1 2.8l1 2.7l1 2.4l1 2.1l1 1.7l1 1.3l1 1l1 0.7l1 0.5l1 0.4l1 0.3l1 0.2l1 0.1l1 0.2l1 0.1l3 0.1l3 0.1l3 0.1l3 0l3 0l3-0.1l3 0l3 0l3 0.1l3 0l3 0l3 0l3 0.1l3 0l3-0.1l3-0.1l3 0l3 0.1l3 0l3 0l0.2 0V600Z"/>
<path d="M19.2 600V350.9l3 0l3 0.1l3 0l3 0l3 0l3 0l3 0l3-0.1l3-0.1l3-0.2l3-0.2l1-0.1l1-0.2l1-0.3l1-0.4l1-0.5l1-0.8l1-1.1l1-1.4l1-1.7l1-2.1l1-2.5l1-2.7l1-2.8l1-2.7l1-2.4l1-2l1-1.2l1-0.5l1 0.4l1 1.2l1 1.8l1 2.5l1 2.7l1 2.8l1 2.7l1 2.5l1 2.2l1 1.7l1 1.5l1 1l1 0.8l1 0.6l1 0.4l1 0.3l1 0.1l1 0.2l1 0.1l1 0.1l3 0.3l3 0.1l3 0l3 0l3 0l3 0l3-0.1l3 0l3 0.1l3 0l3 0.1l3 0l3-0.1l3 0l3 0l3 0l3-0.1l3 0l3 0.1l3 0.1l1.2-0.1V600Z"/>
<path d="M19.2 600V356.2l3 0l3 0.1l3 0l3 0l3 0l3 0l3 0l3-0.1l3-0.2l3-0.2l3-0.2l1-0.2l1-0.3l1-0.4l1-0.5l1-0.8l1-1.1l1-1.4l1-1.7l1-2.1l1-2.5l1-2.6l1-2.8l1-2.8l1-2.4l1-2l1-1.3l1-0.6l1 0.3l1 1.1l1 1.9l1 2.3l1 2.7l1 2.8l1 2.7l1 2.5l1 2.3l1 1.8l1 1.5l1 1.1l1 0.9l1 0.6l1 0.4l1 0.3l1 0.2l1 0.1l1 0.2l1 0.1l3 0.2l3 0.2l3 0l3 0l3 0l3 0l3 0l3-0.1l3 0l3 0.1l3 0.1l3 0l3-0.1l3 0.1l3 0l3-0.1l3-0.1l3 0l3 0.1l3 0l2.2 0V600Z"/>
<path d="M19.2 600V361.6l3 0l3-0.1l3 0l3 0.1l3 0.1l3-0.1l3-0.1l3 0l3-0.1l3-0.3l1-0.1l1-0.2l1-0.2l1-0.3l1-0.4l1-0.5l1-0.8l1-1l1-1.3l1-1.8l1-2l1-2.5l1-2.7l1-2.8l1-2.7l1-2.5l1-2.1l1-1.4l1-0.6l1 0.3l1 1l1 1.8l1 2.3l1 2.7l1 2.8l1 2.7l1 2.5l1 2.3l1 1.8l1 1.6l1 1.1l1 0.9l1 0.7l1 0.5l1 0.3l1 0.3l1 0.2l1 0.1l1 0.1l3 0.1l3 0.2l3 0.1l3 0.1l3-0.1l3 0l3 0l3 0l3 0l3-0.1l3 0.1l3 0.1l3 0l3 0l3-0.1l3 0l3 0l3 0l3-0.1l3 0l3 0.1l0.2 0.1V600Z"/>
<path d="M19.2 600V367l3 0l3 0l3-0.1l3 0l3-0.1l3 0l3-0.1l3 0l3-0.1l3-0.2l1-0.1l1-0.2l1-0.3l1-0.4l1-0.6l1-0.8l1-1.1l1-1.3l1-1.8l1-2.1l1-2.4l1-2.6l1-2.8l1-2.8l1-2.5l1-2.1l1-1.5l1-0.7l1 0.1l1 0.9l1 1.7l1 2.3l1 2.6l1 2.8l1 2.8l1 2.7l1 2.3l1 2l1 1.6l1 1.3l1 0.9l1 0.7l1 0.5l1 0.4l1 0.2l1 0.2l1 0.1l1 0.1l1 0.1l3 0.1l3 0l3 0l3 0.1l3 0.1l3 0.1l3-0.1l3 0.1l3 0l3 0l3-0.1l3-0.1l3 0.1l3 0l3 0l3 0l3 0.1l3 0l3 0l3-0.1l3 0l0.2 0V600Z"/>
<path d="M19.2 600V372.2l3 0l3 0.1l3 0l3-0.1l3 0l3-0.1l3 0l3-0.2l3-0.1l3-0.3l1-0.1l1-0.2l1-0.4l1-0.5l1-0.7l1-0.9l1-1.3l1-1.6l1-2l1-2.3l1-2.6l1-2.8l1-2.8l1-2.6l1-2.3l1-1.7l1-1l1-0.2l1 0.6l1 1.3l1 2l1 2.4l1 2.8l1 2.8l1 2.7l1 2.4l1 2.2l1 1.8l1 1.5l1 1.1l1 0.9l1 0.6l1 0.4l1 0.3l1 0.2l1 0.2l1 0.1l1 0l3 0.2l3 0.1l3 0l3 0l3 0l3 0.1l3 0l3 0l3 0l3 0.1l3 0l3 0l3-0.1l3-0.1l3 0.1l3 0l3 0l3 0l3 0.1l3 0l3 0l1.2 0V600Z"/>
<path d="M19.2 600V377.6l3-0.1l3-0.1l3 0l3 0.1l3 0l3 0l3-0.1l3-0.1l3-0.1l3-0.4l1-0.3l1-0.4l1-0.4l1-0.7l1-0.9l1-1.1l1-1.5l1-1.8l1-2.2l1-2.5l1-2.7l1-2.8l1-2.7l1-2.4l1-2l1-1.3l1-0.6l1 0.3l1 1.1l1 1.8l1 2.3l1 2.7l1 2.8l1 2.8l1 2.5l1 2.3l1 2l1 1.5l1 1.3l1 0.9l1 0.7l1 0.5l1 0.3l1 0.3l1 0.2l1 0.1l1 0.1l1 0.1l3 0.1l3 0.1l3 0.2l3 0.1l3 0l3 0l3-0.1l3 0l3 0l3 0l3-0.1l3 0.1l3 0.1l3 0l3 0l3 0l3 0l3 0l3-0.1l3-0.1l3 0.1l1.2 0V600Z"/>
<path d="M19.2 600V382.9l3 0l3-0.1l3-0.1l3 0l3 0.1l3 0l3-0.1l3-0.1l3-0.2l1-0.1l1-0.1l1-0.3l1-0.3l1-0.4l1-0.6l1-0.8l1-1.1l1-1.4l1-1.8l1-2l1-2.4l1-2.6l1-2.8l1-2.7l1-2.6l1-2.1l1-1.6l1-0.9l1-0.1l1 0.8l1 1.4l1 2.1l1 2.6l1 2.7l1 2.8l1 2.7l1 2.5l1 2.1l1 1.8l1 1.4l1 1.1l1 0.8l1 0.6l1 0.4l1 0.3l1 0.2l1 0.1l1 0.2l1 0.1l3 0.2l3 0l3 0.1l3 0.1l3 0.1l3 0l3 0l3-0.1l3 0l3 0l3 0l3 0l3 0l3 0.1l3 0l3 0l3 0l3 0l3 0l3-0.1l3-0.1l2.2 0.1V600Z"/>
<path d="M19.2 600V388.1l3 0l3 0l3 0.1l3 0l3-0.1l3-0.1l3-0.1l3-0.1l3-0.3l1-0.1l1-0.2l1-0.3l1-0.4l1-0.5l1-0.7l1-0.9l1-1.3l1-1.5l1-1.9l1-2.3l1-2.6l1-2.7l1-2.8l1-2.7l1-2.4l1-1.8l1-1.2l1-0.4l1 0.4l1 1.2l1 1.8l1 2.3l1 2.7l1 2.8l1 2.7l1 2.6l1 2.2l1 2l1 1.5l1 1.3l1 1l1 0.7l1 0.6l1 0.4l1 0.3l1 0.2l1 0.1l1 0.2l1 0l3 0.2l3 0l3 0.1l3 0l3 0l3-0.1l3 0.1l3 0.1l3 0l3 0l3 0l3 0l3 0l3-0.1l3 0l3 0l3 0l3 0.1l3-0.1l3 0.1l3 0l2.2 0.1V600Z"/>
<path d="M19.2 600V393.5l3 0l3 0l3 0l3 0l3-0.1l3-0.2l3-0.1l3-0.1l3-0.2l1-0.2l1-0.3l1-0.3l1-0.5l1-0.6l1-0.9l1-1.1l1-1.5l1-1.8l1-2.1l1-2.5l1-2.7l1-2.8l1-2.7l1-2.5l1-2.1l1-1.5l1-0.7l1 0l1 0.9l1 1.5l1 2.2l1 2.5l1 2.8l1 2.8l1 2.6l1 2.4l1 2.1l1 1.8l1 1.4l1 1.1l1 0.9l1 0.6l1 0.5l1 0.3l1 0.3l1 0.2l1 0.1l1 0.1l1 0.1l3 0.1l3 0l3 0.1l3 0l3 0l3-0.1l3 0.1l3 0.1l3 0l3 0l3 0l3 0l3 0l3-0.1l3-0.1l3 0.1l3 0.1l3 0l3 0l3 0l3 0l2.2 0V600Z"/>
<path d="M19.2 600V398.8l3 0l3 0.1l3-0.1l3-0.1l3-0.1l3 0l3-0.1l3-0.2l3-0.3l1-0.2l1-0.3l1-0.3l1-0.6l1-0.7l1-1l1-1.3l1-1.7l1-2l1-2.3l1-2.6l1-2.8l1-2.8l1-2.6l1-2.4l1-1.8l1-1.1l1-0.4l1 0.3l1 1.1l1 1.8l1 2.3l1 2.6l1 2.7l1 2.8l1 2.6l1 2.3l1 2.1l1 1.7l1 1.3l1 1.1l1 0.8l1 0.6l1 0.4l1 0.3l1 0.2l1 0.1l1 0.1l1 0.1l3 0.1l3 0.1l3 0.1l3-0.1l3 0l3 0.1l3 0.1l3 0l3 0l3 0l3 0l3 0l3-0.1l3 0l3 0l3 0.1l3 0l3 0l3 0l3 0.1l3-0.1l3-0.1l0.2 0V600Z"/>
<path d="M19.2 600V404.2l3 0l3-0.1l3-0.1l3 0l3 0l3-0.2l3-0.1l3-0.1l1-0.1l1-0.1l1-0.1l1-0.3l1-0.3l1-0.5l1-0.6l1-0.9l1-1.2l1-1.4l1-1.8l1-2.2l1-2.4l1-2.7l1-2.7l1-2.8l1-2.5l1-2.2l1-1.6l1-0.9l1-0.1l1 0.6l1 1.4l1 1.9l1 2.5l1 2.7l1 2.8l1 2.7l1 2.6l1 2.2l1 2l1 1.5l1 1.3l1 0.9l1 0.7l1 0.5l1 0.4l1 0.3l1 0.2l1 0.1l1 0.1l1 0.1l3 0.2l3 0l3 0l3 0l3 0.1l3 0.1l3 0l3 0l3 0.1l3 0l3-0.1l3-0.1l3 0l3 0l3 0l3 0l3 0.1l3 0.1l3 0l3-0.1l3 0l3 0l0.2 0V600Z"/>
<path d="M19.2 600V409.4l3 0l3 0l3 0l3 0l3-0.2l3-0.1l3-0.1l3-0.2l1-0.1l1-0.1l1-0.2l1-0.3l1-0.4l1-0.6l1-0.7l1-1l1-1.3l1-1.5l1-2l1-2.2l1-2.5l1-2.8l1-2.8l1-2.7l1-2.4l1-1.9l1-1.4l1-0.6l1 0.2l1 0.9l1 1.6l1 2.2l1 2.5l1 2.8l1 2.7l1 2.7l1 2.4l1 2.1l1 1.8l1 1.5l1 1.1l1 0.9l1 0.7l1 0.5l1 0.4l1 0.2l1 0.3l1 0.1l1 0.1l1 0.1l3 0.1l3 0l3 0.1l3 0l3 0l3 0l3 0l3 0.1l3 0.1l3-0.1l3 0l3 0l3 0l3-0.1l3 0l3 0l3 0.1l3 0l3 0l3 0l3 0l3 0l0.2 0V600Z"/>
<path d="M19.2 600V414.8l3-0.1l3 0l3 0l3-0.1l3-0.1l3-0.1l3-0.2l3-0.1l1-0.1l1-0.2l1-0.2l1-0.3l1-0.5l1-0.7l1-0.8l1-1.2l1-1.4l1-1.7l1-2.1l1-2.4l1-2.6l1-2.8l1-2.7l1-2.6l1-2.3l1-1.7l1-1.1l1-0.3l1 0.4l1 1.2l1 1.8l1 2.3l1 2.7l1 2.8l1 2.7l1 2.7l1 2.3l1 2l1 1.7l1 1.4l1 1l1 0.8l1 0.7l1 0.4l1 0.3l1 0.3l1 0.2l1 0.1l1 0.1l1 0.1l3 0.1l3 0l3 0l3 0.1l3 0l3 0l3 0.1l3 0.1l3 0l3-0.1l3 0l3 0l3 0l3-0.1l3 0l3 0l3 0.1l3 0.1l3-0.1l3 0l3 0l3 0l0.2 0V600Z"/>
<path d="M19.2 600V420l3 0l3 0l3 0l3-0.1l3-0.2l3 0l3-0.1l3-0.2l1-0.2l1-0.2l1-0.3l1-0.4l1-0.5l1-0.7l1-1l1-1.2l1-1.6l1-1.9l1-2.2l1-2.5l1-2.7l1-2.8l1-2.8l1-2.4l1-2.1l1-1.5l1-0.8l1 0l1 0.7l1 1.4l1 2l1 2.5l1 2.7l1 2.8l1 2.7l1 2.5l1 2.2l1 2l1 1.6l1 1.3l1 1l1 0.7l1 0.6l1 0.5l1 0.3l1 0.2l1 0.1l1 0.1l1 0.1l3 0.1l3 0l3 0.1l3 0.1l3 0l3 0l3 0.1l3 0.1l3 0l3-0.1l3 0l3 0l3 0l3-0.1l3 0l3 0.1l3 0.1l3 0l3-0.1l3 0l3 0l3 0l1.2 0V600Z"/>
<path d="M19.2 600V425.3l3 0l3 0l3 0l3 0l3-0.1l3-0.2l3-0.2l3-0.3l1-0.1l1-0.3l1-0.3l1-0.4l1-0.7l1-0.8l1-1.1l1-1.4l1-1.7l1-2l1-2.3l1-2.6l1-2.7l1-2.8l1-2.6l1-2.3l1-1.8l1-1.3l1-0.5l1 0.2l1 0.9l1 1.6l1 2.1l1 2.5l1 2.8l1 2.7l1 2.7l1 2.5l1 2.1l1 1.9l1 1.5l1 1.2l1 0.9l1 0.7l1 0.5l1 0.4l1 0.3l1 0.2l1 0.1l1 0.2l1 0.1l3 0.2l3 0.1l3 0l3 0l3 0.1l3-0.1l3 0l3 0l3 0.1l3 0.1l3 0l3-0.1l3 0l3 0l3 0l3-0.1l3 0l3 0.1l3 0l3 0l3 0l3 0.1l1.2 0V600Z"/>
<path d="M19.2 600V430.7l3 0l3-0.1l3-0.1l3 0l3-0.1l3-0.1l3-0.2l3-0.2l1-0.1l1-0.2l1-0.3l1-0.4l1-0.7l1-0.8l1-1.1l1-1.3l1-1.8l1-2l1-2.3l1-2.7l1-2.7l1-2.9l1-2.6l1-2.4l1-2l1-1.3l1-0.5l1 0.2l1 1l1 1.6l1 2.2l1 2.6l1 2.8l1 2.9l1 2.7l1 2.5l1 2.2l1 1.8l1 1.5l1 1.2l1 0.9l1 0.7l1 0.5l1 0.3l1 0.3l1 0.2l1 0.1l1 0.2l1 0l3 0.2l3 0l3 0l3 0.1l3 0.1l3 0l3 0l3 0.1l3 0l3 0l3-0.1l3-0.1l3 0.1l3 0l3 0l3 0l3 0l3 0.1l3 0l3-0.1l3 0l3 0l1.2 0V600Z"/>
<path d="M19.2 600V435.9l3 0l3 0.1l3-0.1l3-0.1l3-0.1l3-0.1l3-0.1l3-0.3l1-0.1l1-0.2l1-0.3l1-0.3l1-0.5l1-0.7l1-1l1-1.2l1-1.5l1-2l1-2.2l1-2.6l1-2.8l1-2.9l1-2.9l1-2.6l1-2.1l1-1.5l1-0.8l1 0l1 0.8l1 1.5l1 2.1l1 2.6l1 2.8l1 2.9l1 2.7l1 2.6l1 2.2l1 2l1 1.6l1 1.3l1 0.9l1 0.8l1 0.6l1 0.4l1 0.2l1 0.2l1 0.2l1 0.1l1 0l3 0.1l3 0.2l3 0l3 0l3 0l3 0l3 0.1l3 0.1l3 0l3-0.1l3 0.1l3 0l3-0.1l3-0.1l3 0l3 0.1l3 0l3 0l3 0l3 0.1l3 0l3-0.1l1.2 0V600Z"/>
<path d="M19.2 600V441.3l3 0l3-0.1l3-0.1l3 0l3 0l3-0.2l3-0.1l3-0.1l1-0.1l1-0.2l1-0.2l1-0.3l1-0.5l1-0.6l1-0.9l1-1.1l1-1.5l1-1.9l1-2.1l1-2.5l1-2.8l1-2.9l1-2.9l1-2.7l1-2.4l1-1.8l1-1l1-0.3l1 0.6l1 1.3l1 2l1 2.5l1 2.9l1 2.9l1 2.9l1 2.7l1 2.4l1 2.1l1 1.7l1 1.3l1 1l1 0.7l1 0.6l1 0.4l1 0.3l1 0.2l1 0.1l1 0.1l1 0.1l3 0.2l3 0l3 0l3 0.1l3 0.1l3 0l3 0l3 0.1l3 0l3 0l3-0.1l3-0.1l3 0l3 0.1l3 0l3 0l3 0l3 0.1l3 0l3-0.1l3 0l3 0l1.2 0V600Z"/>
<path d="M19.2 600V446.6l3 0l3-0.1l3-0.1l3 0l3 0l3-0.1l3-0.1l3-0.2l1-0.1l1-0.1l1-0.2l1-0.2l1-0.4l1-0.6l1-0.7l1-1.1l1-1.3l1-1.7l1-2.1l1-2.5l1-2.7l1-3l1-2.9l1-2.9l1-2.5l1-2l1-1.4l1-0.5l1 0.4l1 1.1l1 1.9l1 2.4l1 2.8l1 3l1 3l1 2.8l1 2.5l1 2.2l1 1.8l1 1.4l1 1.1l1 0.8l1 0.6l1 0.4l1 0.3l1 0.2l1 0.1l1 0.1l1 0.1l3 0.2l3 0.1l3 0l3 0l3 0.1l3 0.1l3 0l3 0l3 0l3 0l3 0l3-0.1l3-0.1l3 0.1l3 0l3 0l3 0l3 0.1l3 0l3 0l3-0.1l3-0.1l1.2 0V600Z"/>
<path d="M19.2 600V451.8l3 0.1l3 0l3-0.1l3 0l3 0l3-0.1l3-0.2l3-0.2l3-0.3l1-0.2l1-0.3l1-0.4l1-0.7l1-0.8l1-1.1l1-1.5l1-1.8l1-2.2l1-2.6l1-2.9l1-3l1-3l1-2.8l1-2.4l1-1.8l1-1l1-0.1l1 0.7l1 1.5l1 2.2l1 2.7l1 2.9l1 3.1l1 2.9l1 2.7l1 2.4l1 1.9l1 1.6l1 1.2l1 1l1 0.6l1 0.5l1 0.4l1 0.2l1 0.2l1 0.2l1 0.1l3 0.3l3 0l3 0l3 0l3 0.1l3 0l3 0l3 0l3 0l3 0.1l3 0l3 0l3-0.1l3 0.1l3-0.1l3-0.1l3 0l3 0.1l3 0.1l3 0l3 0l3 0l1.2 0V600Z"/>
<path d="M19.2 600V457.1l3-0.1l3 0.1l3 0l3 0.1l3-0.1l3-0.1l3-0.1l3-0.1l3-0.4l1-0.2l1-0.2l1-0.4l1-0.5l1-0.7l1-0.9l1-1.2l1-1.6l1-2l1-2.3l1-2.8l1-3l1-3.1l1-3l1-2.7l1-2.2l1-1.5l1-0.7l1 0.3l1 1.2l1 1.9l1 2.5l1 3l1 3.1l1 3l1 2.9l1 2.5l1 2.1l1 1.8l1 1.3l1 1.1l1 0.7l1 0.6l1 0.4l1 0.3l1 0.2l1 0.2l1 0.1l1 0.1l3 0.2l3 0.1l3 0.1l3 0.1l3 0l3-0.1l3 0l3 0l3 0l3 0l3 0l3 0.1l3 0.1l3-0.1l3-0.1l3 0l3 0l3 0l3 0l3 0l3 0.1l3 0l0.2 0V600Z"/>
<path d="M19.2 600V462.5l3-0.1l3 0.1l3-0.1l3-0.1l3 0l3 0l3 0l3-0.1l3-0.3l1-0.2l1-0.1l1-0.3l1-0.4l1-0.5l1-0.8l1-1l1-1.4l1-1.8l1-2.2l1-2.6l1-2.9l1-3.1l1-3.2l1-3l1-2.6l1-1.9l1-1.2l1-0.2l1 0.7l1 1.6l1 2.3l1 2.8l1 3.1l1 3.1l1 3.1l1 2.7l1 2.4l1 2l1 1.6l1 1.2l1 0.9l1 0.7l1 0.5l1 0.3l1 0.2l1 0.1l1 0.1l1 0.1l3 0.1l3 0.1l3 0.1l3 0.1l3 0l3 0.1l3 0.1l3-0.1l3-0.1l3 0l3 0l3 0l3 0l3 0l3 0.1l3 0l3 0l3 0l3-0.1l3 0.1l3-0.1l3 0l0.2 0V600Z"/>
<path d="M19.2 600V467.8l3 0l3 0l3 0l3-0.1l3-0.1l3 0l3 0l3-0.1l3-0.2l1-0.1l1-0.2l1-0.2l1-0.2l1-0.4l1-0.6l1-0.8l1-1.2l1-1.5l1-1.9l1-2.3l1-2.7l1-3.1l1-3.2l1-3.3l1-2.9l1-2.5l1-1.7l1-0.9l1 0.1l1 1.1l1 1.9l1 2.6l1 3l1 3.2l1 3.2l1 3l1 2.6l1 2.3l1 1.8l1 1.4l1 1.1l1 0.8l1 0.6l1 0.4l1 0.2l1 0.2l1 0.1l1 0.1l3 0.1l3 0.1l3 0.1l3 0.1l3 0l3 0l3 0.1l3 0.1l3-0.1l3-0.1l3 0l3 0l3 0l3 0l3 0l3 0.1l3 0.1l3-0.1l3 0l3 0l3 0l3-0.1l0.2 0V600Z"/>
<path d="M19.2 600V473.2l3-0.1l3-0.1l3 0l3 0l3 0l3-0.1l3 0l3 0l3-0.2l3-0.4l1-0.2l1-0.3l1-0.5l1-0.6l1-0.9l1-1.2l1-1.6l1-2l1-2.5l1-2.9l1-3.2l1-3.3l1-3.2l1-2.9l1-2.3l1-1.5l1-0.6l1 0.5l1 1.4l1 2.3l1 2.9l1 3.2l1 3.3l1 3.2l1 2.8l1 2.5l1 2.1l1 1.6l1 1.3l1 0.9l1 0.7l1 0.5l1 0.3l1 0.2l1 0.2l1 0.1l1 0.1l3 0l3 0.1l3 0.1l3 0.1l3 0l3 0.1l3 0l3 0.1l3-0.1l3-0.1l3 0l3 0l3 0l3 0l3 0l3 0.1l3 0.1l3 0l3-0.1l3-0.1l3 0l2.2 0V600Z"/>
<path d="M19.2 600V478.5l3-0.1l3-0.1l3 0l3 0l3 0l3 0l3-0.1l3 0l3-0.1l3-0.3l1-0.2l1-0.3l1-0.3l1-0.5l1-0.7l1-1l1-1.3l1-1.7l1-2.2l1-2.6l1-3l1-3.3l1-3.3l1-3.3l1-2.8l1-2.1l1-1.2l1-0.2l1 0.9l1 1.8l1 2.6l1 3.1l1 3.3l1 3.4l1 3.1l1 2.8l1 2.3l1 1.9l1 1.4l1 1.1l1 0.8l1 0.5l1 0.4l1 0.3l1 0.2l1 0.1l1 0.1l3 0.1l3 0.1l3 0.1l3 0.1l3 0.1l3 0l3 0l3 0l3 0l3-0.1l3 0l3 0l3 0.1l3 0l3 0l3 0l3 0l3 0.1l3-0.1l3-0.1l3 0l2.2 0V600Z"/>
<path d="M19.2 600V483.7l3 0l3 0.1l3-0.1l3-0.1l3 0l3 0l3 0l3-0.2l3-0.1l3-0.1l1-0.1l1-0.2l1-0.2l1-0.4l1-0.5l1-0.8l1-1l1-1.5l1-1.9l1-2.3l1-2.8l1-3.1l1-3.4l1-3.4l1-3.2l1-2.6l1-1.9l1-0.9l1 0.1l1 1.2l1 2.2l1 2.8l1 3.3l1 3.4l1 3.4l1 3.1l1 2.6l1 2.2l1 1.8l1 1.3l1 0.9l1 0.7l1 0.4l1 0.3l1 0.2l1 0.2l1 0.1l1 0.1l3 0.1l3 0.1l3 0l3 0l3 0.1l3 0.1l3 0l3 0l3 0l3 0l3 0l3-0.1l3 0l3 0l3 0.1l3 0l3 0l3 0l3 0.1l3 0l3-0.1l1.2-0.1V600Z"/>
<path d="M19.2 600V489l3 0l3 0l3-0.1l3 0l3 0l3 0.1l3 0l3-0.1l3-0.1l3-0.2l3-0.4l1-0.3l1-0.3l1-0.5l1-0.8l1-1l1-1.4l1-1.9l1-2.3l1-2.7l1-3.2l1-3.4l1-3.5l1-3.2l1-2.7l1-1.9l1-0.9l1 0.1l1 1.3l1 2.2l1 3l1 3.3l1 3.6l1 3.4l1 3l1 2.7l1 2.1l1 1.7l1 1.2l1 0.9l1 0.6l1 0.4l1 0.3l1 0.1l1 0.2l1 0.1l3 0.3l3 0.1l3 0.1l3 0l3 0.1l3 0.1l3-0.1l3-0.1l3 0l3 0l3 0l3 0l3 0.1l3 0l3 0.1l3-0.1l3 0l3 0l3 0l3-0.1l3 0l1.2 0V600Z"/>
<path d="M19.2 600V494.4l3-0.1l3-0.1l3 0l3 0.1l3-0.1l3 0l3 0l3 0.1l3-0.1l3-0.2l3-0.3l1-0.2l1-0.2l1-0.3l1-0.5l1-0.7l1-1l1-1.3l1-1.9l1-2.3l1-2.8l1-3.3l1-3.5l1-3.5l1-3.3l1-2.8l1-1.9l1-0.9l1 0.2l1 1.4l1 2.3l1 3l1 3.4l1 3.6l1 3.4l1 3.1l1 2.6l1 2.1l1 1.6l1 1.3l1 0.8l1 0.6l1 0.4l1 0.3l1 0.2l1 0.1l1 0.1l3 0.1l3 0.2l3 0.1l3 0.1l3 0l3 0l3 0.1l3-0.1l3 0l3-0.1l3 0l3 0.1l3 0l3 0l3 0l3 0.1l3 0l3-0.1l3-0.1l3 0l3 0.1l0.2 0V600Z"/>
<path d="M19.2 600V499.6l3 0l3 0.1l3 0l3-0.1l3 0l3-0.1l3 0l3 0l3-0.1l3-0.1l3-0.1l3-0.4l1-0.3l1-0.5l1-0.7l1-1l1-1.3l1-1.8l1-2.3l1-2.8l1-3.3l1-3.5l1-3.7l1-3.4l1-2.9l1-2l1-1l1 0.2l1 1.4l1 2.4l1 3.1l1 3.5l1 3.7l1 3.5l1 3.1l1 2.7l1 2.1l1 1.6l1 1.2l1 0.8l1 0.6l1 0.4l1 0.2l1 0.2l1 0.1l1 0.1l3 0.2l3 0.1l3 0l3 0l3 0l3 0.1l3 0l3 0l3 0l3 0.1l3 0l3-0.1l3-0.1l3 0l3 0.1l3 0l3 0l3 0l3 0.1l3 0l2.2-0.1V600Z"/>
<path d="M19.2 600V505l3 0l3 0l3-0.1l3-0.1l3 0l3 0.1l3 0l3-0.1l3 0l3 0l3-0.2l3-0.4l1-0.2l1-0.3l1-0.5l1-0.6l1-0.9l1-1.3l1-1.7l1-2.3l1-2.8l1-3.3l1-3.6l1-3.8l1-3.5l1-2.9l1-2.1l1-1l1 0.3l1 1.5l1 2.5l1 3.2l1 3.7l1 3.7l1 3.5l1 3.1l1 2.6l1 2l1 1.6l1 1.1l1 0.8l1 0.5l1 0.4l1 0.2l1 0.2l1 0.1l3 0.2l3 0l3 0.1l3 0.2l3 0.1l3 0l3-0.1l3 0l3 0l3 0l3-0.1l3 0l3 0.1l3 0l3 0l3 0l3 0.1l3 0l3-0.1l3-0.1l2.2 0V600Z"/>
<path d="M19.2 600V510.3l3 0l3-0.1l3-0.1l3 0.1l3 0l3 0l3 0l3 0l3 0l3-0.1l3-0.2l3-0.3l1-0.1l1-0.1l1-0.3l1-0.4l1-0.5l1-0.9l1-1.2l1-1.6l1-2.2l1-2.8l1-3.2l1-3.7l1-3.7l1-3.7l1-3.1l1-2.2l1-1.2l1 0.1l1 1.4l1 2.4l1 3.2l1 3.7l1 3.8l1 3.5l1 3.2l1 2.7l1 2.1l1 1.6l1 1.1l1 0.8l1 0.5l1 0.4l1 0.2l1 0.1l1 0.1l3 0.2l3 0.2l3 0.2l3 0l3 0l3 0l3 0.1l3-0.1l3 0l3-0.1l3 0l3 0.1l3 0l3 0l3 0l3 0.1l3 0l3-0.1l3-0.1l3 0l1.2 0.1V600Z"/>
<path d="M19.2 600V515.5l3 0l3 0l3 0.1l3 0l3 0l3-0.1l3-0.1l3 0l3 0l3 0l3-0.1l3-0.1l3-0.3l1-0.2l1-0.4l1-0.5l1-0.8l1-1.1l1-1.6l1-2.1l1-2.7l1-3.2l1-3.6l1-3.9l1-3.8l1-3.3l1-2.5l1-1.4l1-0.1l1 1.2l1 2.4l1 3.2l1 3.8l1 3.9l1 3.7l1 3.3l1 2.7l1 2.2l1 1.6l1 1.2l1 0.8l1 0.6l1 0.3l1 0.2l1 0.2l1 0.1l3 0.1l3 0.2l3 0l3 0l3 0l3 0.1l3 0.1l3 0l3-0.1l3 0.1l3 0l3-0.1l3 0l3-0.1l3 0.1l3 0l3 0l3 0l3 0.1l3 0l0.2 0V600Z"/>
<path d="M19.2 600V520.9l3-0.1l3 0l3-0.1l3 0l3 0.1l3 0.1l3 0l3-0.1l3 0.1l3-0.1l3-0.2l3-0.2l3-0.2l1-0.1l1-0.2l1-0.3l1-0.4l1-0.7l1-1l1-1.4l1-2l1-2.6l1-3.1l1-3.7l1-3.9l1-3.9l1-3.5l1-2.6l1-1.6l1-0.3l1 1.1l1 2.3l1 3.3l1 3.7l1 4l1 3.7l1 3.3l1 2.8l1 2.2l1 1.6l1 1.2l1 0.8l1 0.6l1 0.3l1 0.2l1 0.2l1 0.1l3 0.2l3 0.2l3 0.1l3 0.1l3-0.1l3 0l3 0l3 0l3 0l3-0.1l3 0.1l3 0.1l3 0l3 0l3-0.1l3 0l3 0l3 0l3-0.1l2.2 0V600Z"/>
<path d="M19.2 600V526.2l3-0.1l3 0.1l3 0l3-0.1l3-0.1l3 0l3 0.1l3 0.1l3-0.1l3 0l3 0l3-0.1l3-0.3l3-0.5l1-0.2l1-0.5l1-0.6l1-0.9l1-1.3l1-1.8l1-2.4l1-3.1l1-3.6l1-4l1-4l1-3.7l1-2.9l1-1.9l1-0.4l1 1l1 2.3l1 3.2l1 3.9l1 4.1l1 3.8l1 3.5l1 2.8l1 2.2l1 1.6l1 1.2l1 0.7l1 0.5l1 0.4l1 0.2l1 0.2l1 0.1l3 0.2l3 0.2l3 0l3 0.1l3 0.1l3 0l3-0.1l3 0l3 0l3 0l3 0l3 0l3 0l3 0.1l3 0l3 0l3-0.1l3 0l3 0l1.2 0V600Z"/>
<path d="M19.2 600V531.5l3-0.1l3 0l3 0l3 0l3 0l3 0l3 0.1l3 0l3 0l3-0.1l3 0l3-0.1l3-0.2l3-0.3l1-0.2l1-0.2l1-0.3l1-0.5l1-0.8l1-1.2l1-1.6l1-2.3l1-3l1-3.5l1-4l1-4.2l1-3.9l1-3.2l1-2.1l1-0.8l1 0.7l1 2.1l1 3.2l1 3.9l1 4.1l1 4l1 3.6l1 2.9l1 2.3l1 1.7l1 1.2l1 0.8l1 0.5l1 0.4l1 0.2l1 0.2l1 0.2l3 0.2l3 0.1l3 0.1l3 0.1l3 0l3-0.1l3 0l3 0l3 0l3 0l3 0l3 0l3 0.1l3 0l3 0l3-0.1l3 0l3 0l3 0l0.2 0V600Z"/>
<path d="M19.2 600V536.8l3-0.1l3-0.1l3 0.1l3 0l3 0l3 0l3 0.1l3 0l3 0l3-0.1l3-0.1l3 0l3-0.1l3-0.2l3-0.4l1-0.3l1-0.5l1-0.6l1-1.1l1-1.5l1-2.1l1-2.8l1-3.4l1-4l1-4.3l1-4.1l1-3.5l1-2.5l1-1.1l1 0.4l1 1.9l1 3.2l1 3.9l1 4.2l1 4.1l1 3.7l1 3.1l1 2.3l1 1.8l1 1.3l1 0.8l1 0.6l1 0.3l1 0.3l1 0.2l1 0.1l3 0.3l3 0.1l3 0l3 0l3 0.1l3-0.1l3-0.1l3 0.1l3 0l3 0.1l3 0l3 0l3 0l3 0l3-0.1l3 0l3-0.1l3 0.1l2.2 0.1V600Z"/>
<path d="M19.2 600V542.1l3 0l3 0l3 0l3 0l3-0.1l3-0.1l3 0.1l3 0.1l3 0l3-0.1l3 0.1l3 0l3-0.1l3-0.3l3-0.3l1-0.2l1-0.2l1-0.4l1-0.6l1-0.9l1-1.4l1-2l1-2.6l1-3.3l1-4l1-4.3l1-4.2l1-3.8l1-2.7l1-1.4l1 0.1l1 1.8l1 3l1 3.9l1 4.3l1 4.2l1 3.8l1 3.2l1 2.5l1 1.8l1 1.3l1 0.8l1 0.6l1 0.3l1 0.3l1 0.2l1 0.1l3 0.2l3 0l3 0.2l3 0.1l3 0l3 0l3 0l3 0l3 0l3-0.1l3-0.1l3 0.1l3 0.1l3 0l3 0l3 0l3 0l3 0l1.2 0V600Z"/>
<path d="M19.2 600V547.3l3 0l3 0.1l3 0l3 0l3 0l3 0.1l3-0.1l3-0.1l3 0l3 0l3 0l3 0l3-0.1l3 0l3-0.2l3-0.5l1-0.3l1-0.6l1-0.8l1-1.3l1-1.8l1-2.4l1-3.2l1-3.9l1-4.3l1-4.4l1-4l1-3.1l1-1.8l1-0.2l1 1.5l1 2.8l1 3.9l1 4.4l1 4.4l1 3.9l1 3.4l1 2.7l1 1.9l1 1.4l1 0.9l1 0.5l1 0.4l1 0.2l1 0.1l1 0.1l3 0.2l3 0.2l3 0l3 0l3-0.1l3 0.1l3 0.1l3 0l3 0l3 0l3 0l3 0l3-0.1l3-0.1l3 0.1l3 0.1l3 0l3 0l0.2 0V600Z"/>
<path d="M19.2 600V552.8l3-0.1l3-0.1l3 0l3 0l3 0l3 0.1l3-0.1l3 0.1l3 0.1l3 0l3-0.1l3-0.1l3-0.1l3 0l3-0.2l3-0.3l1-0.2l1-0.3l1-0.4l1-0.7l1-1.1l1-1.6l1-2.3l1-3l1-3.8l1-4.4l1-4.5l1-4.3l1-3.4l1-2.1l1-0.4l1 1.3l1 2.8l1 3.8l1 4.5l1 4.5l1 4.1l1 3.4l1 2.6l1 2l1 1.3l1 0.9l1 0.6l1 0.3l1 0.3l1 0.2l1 0.1l3 0.3l3 0.1l3 0l3 0.1l3 0l3 0l3-0.1l3 0l3 0l3 0.1l3 0l3 0l3 0l3 0l3 0l3-0.1l3 0l2.2 0V600Z"/>
<path d="M19.2 600V558l3 0l3 0.1l3-0.1l3 0l3-0.1l3 0l3 0l3 0l3 0l3 0.1l3 0.1l3-0.1l3-0.1l3 0l3-0.2l3-0.2l3-0.6l1-0.4l1-0.6l1-1l1-1.5l1-2.1l1-2.9l1-3.7l1-4.3l1-4.6l1-4.4l1-3.7l1-2.4l1-0.7l1 1.1l1 2.7l1 3.8l1 4.6l1 4.6l1 4.2l1 3.5l1 2.8l1 2l1 1.3l1 0.9l1 0.6l1 0.3l1 0.2l1 0.1l3 0.3l3 0.2l3 0.1l3 0.1l3 0l3 0l3 0.1l3-0.1l3-0.1l3 0l3 0l3 0.1l3-0.1l3 0.1l3 0l3 0.1l3-0.1l2.2 0V600Z"/>
<path d="M19.2 600V563.4l3-0.1l3-0.1l3 0l3 0l3 0.1l3 0l3 0l3 0l3 0.1l3 0l3-0.1l3-0.1l3 0l3 0l3-0.1l3-0.2l3-0.3l1-0.2l1-0.3l1-0.5l1-0.9l1-1.3l1-2l1-2.8l1-3.6l1-4.3l1-4.7l1-4.7l1-3.9l1-2.8l1-1l1 0.9l1 2.6l1 3.8l1 4.6l1 4.7l1 4.3l1 3.7l1 2.8l1 2l1 1.4l1 1l1 0.6l1 0.4l1 0.2l1 0.2l3 0.3l3 0.1l3 0l3 0.1l3 0l3-0.1l3 0l3 0l3 0.1l3 0l3 0l3 0l3 0l3 0l3 0l3-0.1l3 0l1.2 0V600Z"/>
<path d="M19.2 600V568.5l3 0.1l3 0.1l3-0.1l3 0l3 0l3 0l3 0l3-0.1l3 0l3 0.1l3 0l3 0l3 0l3 0l3 0l3-0.2l3-0.4l3-0.6l1-0.4l1-0.8l1-1.2l1-1.8l1-2.6l1-3.4l1-4.2l1-4.8l1-4.8l1-4.2l1-3.1l1-1.3l1 0.6l1 2.5l1 3.9l1 4.7l1 4.8l1 4.5l1 3.7l1 2.9l1 2.1l1 1.4l1 0.9l1 0.5l1 0.3l1 0.3l1 0.1l3 0.3l3 0.1l3 0.1l3 0l3 0.1l3 0.1l3 0l3-0.1l3 0l3 0l3-0.1l3 0l3 0l3 0.1l3 0.1l3-0.1l3 0l0.2 0V600Z"/>
<path d="M19.2 600V573.9l3 0l3 0l3-0.1l3 0l3 0l3 0.1l3 0l3 0l3 0l3 0.1l3 0l3-0.1l3-0.1l3 0l3 0l3-0.1l3-0.2l3-0.3l1-0.2l1-0.4l1-0.6l1-1.1l1-1.7l1-2.4l1-3.3l1-4.2l1-4.8l1-4.9l1-4.6l1-3.4l1-1.7l1 0.4l1 2.3l1 3.8l1 4.7l1 5l1 4.6l1 3.8l1 3l1 2.2l1 1.4l1 0.9l1 0.6l1 0.4l1 0.2l1 0.2l3 0.3l3 0.2l3 0l3 0l3 0l3 0l3-0.1l3 0l3 0.1l3 0.1l3 0l3-0.1l3 0l3 0l3 0l3-0.1l2.2 0V600Z"/>
<path d="M19.2 600V579.2l3 0l3 0.1l3 0l3-0.1l3 0l3-0.1l3 0.1l3 0l3 0l3 0l3 0.1l3 0l3 0l3-0.1l3-0.1l3 0l3-0.2l3-0.3l3-0.7l1-0.5l1-0.9l1-1.5l1-2.2l1-3.1l1-4l1-4.7l1-5.1l1-4.8l1-3.7l1-2.1l1 0l1 2.1l1 3.7l1 4.8l1 5.1l1 4.8l1 4l1 3l1 2.2l1 1.5l1 0.9l1 0.5l1 0.3l1 0.3l1 0.1l3 0.3l3 0.2l3 0.1l3 0l3 0l3 0.1l3-0.1l3-0.1l3 0l3 0l3 0.1l3 0l3 0l3 0l3 0.1l3 0l1.2-0.1V600Z"/>
</g>
<rect x="22.2" y="234.3" width="126.2" height="354.5" fill="none" stroke="#2b2b2b" stroke-width="1"/>
<clipPath id="cl2"><rect x="165.7" y="234.5" width="125.4" height="354.3"/></clipPath>
<g clip-path="url(#cl2)" fill="#fff" stroke="url(#wf)" stroke-width="1.12" stroke-linejoin="round">
<path d="M162.2 600V271.8l3-0.3l3-0.4l3-0.1l3 0.2l3 0.2l3-0.1l3 0.1l3 0.2l3 0.3l3-0.3l3-0.4l3-0.1l3 0l3 0l3-0.3l3 0l3 0.1l1 0.1l1-0.1l1 0l1-0.2l1-0.3l1-0.5l1-0.5l1-0.7l1-0.8l1-0.9l1-1.1l1-1.3l1-1.4l1-1.7l1-2l1-2.1l1-2.3l1-2.5l1-2.5l1-2.4l1-2.3l1-2l1-1.7l1-1.2l1-0.6l1-0.2l1 0.5l1 0.9l1 1.3l1 1.7l1 2l1 2.2l1 2.3l1 2.4l1 2.3l1 2.2l1 2.1l1 2l1 1.7l1 1.5l1 1.3l1 1.1l1 0.9l1 0.6l1 0.4l1 0.4l1 0.2l1 0.1l1 0.2l1 0.1l1 0.1l1 0.2l1 0.2l1 0.2l3 0.4l3 0.1l3 0l3 0.2l3 0.2l3-0.2l3-0.4l3-0.1l3 0.2l0.4 0V600Z"/>
<path d="M162.2 600V276.6l3 0.2l3-0.1l3 0.1l3 0.2l3 0.1l3-0.2l3-0.4l3-0.2l3 0.2l3 0.1l3-0.1l3 0l3 0.3l3 0.2l3-0.3l3-0.5l3-0.3l1 0l1-0.1l1-0.1l1-0.2l1-0.3l1-0.3l1-0.4l1-0.6l1-0.7l1-0.8l1-0.9l1-1.1l1-1.3l1-1.4l1-1.7l1-1.9l1-2.1l1-2.2l1-2.4l1-2.4l1-2.3l1-2.2l1-1.9l1-1.5l1-1.1l1-0.6l1 0l1 0.5l1 1l1 1.3l1 1.8l1 2l1 2.1l1 2.3l1 2.2l1 2.3l1 2.2l1 2l1 1.9l1 1.7l1 1.6l1 1.3l1 1.1l1 0.9l1 0.8l1 0.5l1 0.4l1 0.3l1 0.2l1 0.1l1 0.1l1 0.1l1 0.2l1 0.1l1 0.1l3 0.1l3-0.2l3-0.3l3 0.1l3 0.4l3 0.2l3-0.1l3 0.1l2.4 0.2V600Z"/>
<path d="M162.2 600V282.3l3-0.3l3-0.4l3 0l3 0.3l3 0.1l3 0l3 0.1l3 0.2l3 0.1l3-0.3l3-0.4l3-0.1l3 0.1l3 0l3-0.2l3 0l3 0.2l1 0.1l1-0.1l1-0.1l1-0.2l1-0.2l1-0.4l1-0.5l1-0.5l1-0.7l1-0.7l1-0.9l1-1.1l1-1.2l1-1.5l1-1.6l1-1.9l1-2.1l1-2.3l1-2.4l1-2.4l1-2.4l1-2.2l1-1.9l1-1.6l1-1.1l1-0.7l1-0.2l1 0.3l1 0.8l1 1.2l1 1.5l1 1.8l1 2l1 2.2l1 2.3l1 2.3l1 2.2l1 2.1l1 2l1 1.8l1 1.5l1 1.4l1 1l1 0.9l1 0.6l1 0.5l1 0.4l1 0.3l1 0.2l1 0.3l1 0.2l1 0.2l1 0.3l1 0.2l1 0.2l3 0.3l3 0l3 0.1l3 0.2l3 0l3-0.4l3-0.3l3 0.1l2.4 0.3V600Z"/>
<path d="M162.2 600V287.6l3 0.1l3-0.2l3-0.2l3 0.1l3-0.1l3-0.3l3-0.1l3 0.2l3 0.4l3 0.1l3-0.2l3 0l3 0l3-0.1l3-0.4l3-0.4l3 0l1 0l1 0l1 0l1 0l1-0.2l1-0.2l1-0.4l1-0.4l1-0.5l1-0.6l1-0.8l1-0.8l1-1.1l1-1.3l1-1.5l1-1.7l1-2l1-2.2l1-2.4l1-2.4l1-2.5l1-2.3l1-2.2l1-1.9l1-1.4l1-1.1l1-0.5l1-0.1l1 0.5l1 0.9l1 1.3l1 1.6l1 1.9l1 2.2l1 2.2l1 2.3l1 2.4l1 2.2l1 2.2l1 2l1 1.8l1 1.5l1 1.3l1 1.1l1 0.8l1 0.6l1 0.5l1 0.3l1 0.2l1 0.1l1 0.2l1 0.1l1 0.1l1 0.2l1 0.1l1 0.1l3 0.1l3 0l3 0.2l3 0.4l3 0.3l3-0.1l3-0.3l3 0l1.4 0V600Z"/>
<path d="M162.2 600V292.6l3-0.4l3 0l3 0.3l3 0.2l3 0l3 0l3 0.2l3 0.1l3-0.2l3-0.5l3-0.1l3 0.2l3 0l3-0.1l3 0l3 0.2l3 0.1l3-0.4l1-0.3l1-0.3l1-0.3l1-0.4l1-0.3l1-0.5l1-0.5l1-0.7l1-0.8l1-1.1l1-1.2l1-1.5l1-1.7l1-1.9l1-2.1l1-2.2l1-2.2l1-2.2l1-2.2l1-2l1-1.7l1-1.6l1-1.1l1-0.8l1-0.4l1 0l1 0.5l1 0.9l1 1.3l1 1.7l1 1.9l1 2.2l1 2.3l1 2.3l1 2.3l1 2.1l1 1.9l1 1.8l1 1.5l1 1.2l1 1.1l1 0.9l1 0.7l1 0.7l1 0.6l1 0.5l1 0.4l1 0.4l1 0.4l1 0.2l1 0.2l1 0.1l1 0.1l1 0l3 0l3 0.2l3 0.1l3-0.2l3-0.3l3-0.1l3 0.4l3 0.2l0.4 0V600Z"/>
<path d="M162.2 600V297.9l3 0.4l3 0l3-0.2l3-0.2l3 0.1l3-0.1l3-0.3l3-0.1l3 0.2l3 0.4l3 0.1l3-0.2l3 0l3 0l3-0.2l3-0.4l3-0.4l3-0.1l1 0l1 0l1-0.1l1-0.2l1-0.3l1-0.3l1-0.6l1-0.6l1-0.8l1-0.9l1-1.1l1-1.3l1-1.5l1-1.6l1-1.9l1-2l1-2.3l1-2.3l1-2.4l1-2.3l1-2.1l1-2l1-1.5l1-1.2l1-0.6l1-0.2l1 0.3l1 0.9l1 1.2l1 1.6l1 1.8l1 2.1l1 2.2l1 2.2l1 2.2l1 2.2l1 2.1l1 2l1 1.8l1 1.6l1 1.4l1 1.2l1 0.9l1 0.8l1 0.5l1 0.4l1 0.3l1 0.1l1 0.2l1 0l1 0.1l1 0.1l1 0.1l1 0.1l1 0.1l3 0.2l3-0.1l3 0.1l3 0.4l3 0.4l3 0l3-0.3l2.4-0.1V600Z"/>
<path d="M162.2 600V303.3l3 0l3 0.1l3 0.2l3-0.1l3-0.4l3-0.2l3 0.1l3 0.1l3 0l3 0l3 0.2l3 0.3l3 0l3-0.4l3-0.4l3 0l3-0.1l3-0.4l1-0.1l1-0.2l1-0.1l1-0.2l1-0.1l1-0.3l1-0.2l1-0.4l1-0.6l1-0.8l1-0.9l1-1.2l1-1.5l1-1.7l1-1.8l1-2.1l1-2.1l1-2.3l1-2.2l1-2.2l1-2.1l1-1.9l1-1.7l1-1.4l1-1l1-0.7l1-0.1l1 0.3l1 0.7l1 1.2l1 1.7l1 1.9l1 2.2l1 2.3l1 2.4l1 2.4l1 2.2l1 2l1 1.8l1 1.7l1 1.3l1 1.2l1 1.1l1 0.8l1 0.7l1 0.7l1 0.5l1 0.4l1 0.2l1 0.2l1 0.1l1 0.1l1 0l1-0.1l1 0l1-0.1l3 0.2l3 0.4l3 0.3l3 0l3 0.1l3 0.2l3 0.1l1.4-0.1V600Z"/>
<path d="M162.2 600V308.2l3-0.1l3 0.3l3 0.1l3 0l3 0.1l3 0.3l3 0.1l3-0.3l3-0.4l3-0.1l3 0.2l3-0.1l3-0.1l3 0.1l3 0.3l3 0.1l3-0.3l3-0.5l1-0.1l1-0.2l1-0.1l1-0.2l1-0.2l1-0.2l1-0.4l1-0.5l1-0.7l1-0.8l1-0.9l1-1.2l1-1.2l1-1.4l1-1.6l1-1.7l1-1.8l1-2l1-2.1l1-2.1l1-2.1l1-2l1-1.9l1-1.6l1-1.3l1-0.9l1-0.5l1 0l1 0.5l1 1l1 1.3l1 1.6l1 1.9l1 2.1l1 2.1l1 2.1l1 2l1 2l1 1.9l1 1.7l1 1.6l1 1.5l1 1.3l1 1.1l1 1l1 0.8l1 0.6l1 0.5l1 0.4l1 0.3l1 0.1l1 0.2l1 0.1l1 0.1l1 0.1l1 0.1l1 0.1l3 0.2l3-0.1l3-0.4l3 0l3 0.3l3 0.2l3 0l0.4 0V600Z"/>
<path d="M162.2 600V313.6l3 0.1l3 0.4l3 0.2l3-0.2l3-0.3l3 0l3 0l3-0.1l3-0.3l3 0.1l3 0.4l3 0.3l3-0.2l3-0.2l3 0l3-0.1l3-0.3l3-0.5l1-0.2l1 0l1-0.1l1-0.1l1 0l1-0.2l1-0.2l1-0.3l1-0.4l1-0.7l1-0.7l1-1l1-1.1l1-1.4l1-1.4l1-1.7l1-1.8l1-1.9l1-2.1l1-2.2l1-2.1l1-2.2l1-2.1l1-1.8l1-1.6l1-1.3l1-0.8l1-0.4l1 0.2l1 0.6l1 1.1l1 1.4l1 1.8l1 2l1 2.1l1 2.2l1 2.2l1 2.1l1 2l1 1.9l1 1.8l1 1.6l1 1.4l1 1.3l1 1l1 0.9l1 0.8l1 0.5l1 0.4l1 0.3l1 0.1l1 0.1l1 0l1 0l1 0l1 0.1l1 0l1 0.1l3 0.3l3 0.1l3 0l3 0.2l3 0.4l3 0.2l2.4-0.2V600Z"/>
<path d="M162.2 600V319.2l3-0.3l3-0.2l3 0.2l3 0.4l3 0.1l3-0.1l3 0l3 0.1l3 0l3-0.4l3-0.3l3 0l3 0.3l3 0.1l3-0.1l3 0l3 0.2l3-0.2l1-0.1l1-0.2l1-0.3l1-0.3l1-0.3l1-0.3l1-0.3l1-0.3l1-0.4l1-0.5l1-0.6l1-0.8l1-0.9l1-1.2l1-1.3l1-1.6l1-1.8l1-1.9l1-2l1-2l1-2.1l1-2l1-1.9l1-1.8l1-1.6l1-1.3l1-1l1-0.7l1-0.2l1 0.1l1 0.6l1 1l1 1.3l1 1.7l1 1.9l1 2.1l1 2.2l1 2.2l1 2.1l1 2l1 1.8l1 1.6l1 1.4l1 1.3l1 1.1l1 1l1 0.8l1 0.8l1 0.6l1 0.6l1 0.4l1 0.4l1 0.3l1 0.1l1 0.1l1 0l1 0l1 0l1 0l3 0.1l3 0.1l3-0.1l3-0.2l3 0l3 0.4l1.4 0.2V600Z"/>
<path d="M162.2 600V324.5l3 0.1l3 0.3l3-0.1l3-0.3l3-0.4l3 0.1l3 0.1l3 0l3 0l3 0.2l3 0.3l3 0.1l3-0.4l3-0.3l3 0l3-0.1l3-0.2l3-0.3l3 0l1 0.1l1 0l1-0.1l1-0.2l1-0.2l1-0.4l1-0.5l1-0.7l1-0.8l1-0.9l1-1.1l1-1.3l1-1.4l1-1.6l1-1.7l1-1.9l1-2l1-2.2l1-2.2l1-2.2l1-2.1l1-1.9l1-1.6l1-1.3l1-0.9l1-0.4l1 0.1l1 0.5l1 0.9l1 1.3l1 1.6l1 1.8l1 2l1 2l1 2.1l1 2.1l1 2l1 1.9l1 1.8l1 1.7l1 1.5l1 1.3l1 1.1l1 0.9l1 0.7l1 0.5l1 0.4l1 0.2l1 0.2l1 0.2l1 0.1l1 0.1l1 0.2l1 0.2l1 0.2l1 0.1l1 0.2l3 0.2l3 0.1l3 0.1l3 0.3l3 0.1l3-0.4l0.4 0V600Z"/>
<path d="M162.2 600V329.7l3-0.1l3 0.1l3-0.1l3-0.2l3 0.1l3 0.4l3 0.3l3-0.1l3-0.3l3 0l3 0l3-0.2l3-0.3l3 0l3 0.3l3 0.2l3-0.1l3-0.3l3-0.1l1-0.1l1-0.1l1-0.1l1-0.3l1-0.3l1-0.5l1-0.5l1-0.7l1-0.7l1-0.9l1-1l1-1l1-1.2l1-1.4l1-1.5l1-1.8l1-1.8l1-2l1-2.1l1-2.1l1-2.1l1-1.9l1-1.7l1-1.4l1-1l1-0.7l1-0.2l1 0.2l1 0.5l1 0.9l1 1.2l1 1.5l1 1.7l1 1.8l1 2l1 1.9l1 2l1 2l1 1.9l1 1.8l1 1.6l1 1.5l1 1.2l1 1.1l1 0.9l1 0.7l1 0.5l1 0.5l1 0.3l1 0.4l1 0.2l1 0.3l1 0.3l1 0.2l1 0.2l1 0.2l1 0.1l3-0.1l3-0.3l3 0l3 0.1l3 0l3-0.1l0.4 0V600Z"/>
<path d="M162.2 600V335.1l3 0.4l3 0l3-0.3l3-0.3l3 0l3 0.1l3-0.1l3-0.1l3 0.2l3 0.4l3 0.1l3-0.3l3-0.2l3 0l3-0.1l3-0.3l3-0.3l3 0.1l3 0.2l1 0l1 0l1-0.2l1-0.2l1-0.2l1-0.4l1-0.4l1-0.5l1-0.6l1-0.7l1-0.8l1-1l1-1.1l1-1.4l1-1.6l1-1.7l1-2l1-2.1l1-2.2l1-2.2l1-2.1l1-2l1-1.7l1-1.5l1-1.2l1-0.8l1-0.5l1-0.1l1 0.3l1 0.7l1 1l1 1.3l1 1.6l1 1.8l1 2l1 2.1l1 2.2l1 2.1l1 2l1 1.9l1 1.7l1 1.4l1 1.2l1 1l1 0.9l1 0.7l1 0.5l1 0.5l1 0.4l1 0.4l1 0.3l1 0.3l1 0.3l1 0.2l1 0.1l1 0.1l1 0.1l1 0.1l3 0.1l3 0.3l3 0.4l3-0.1l3-0.3l2.4-0.2V600Z"/>
<path d="M162.2 600V340.4l3 0.2l3 0l3-0.1l3 0.1l3 0.1l3-0.3l3-0.4l3 0l3 0.3l3 0.1l3 0l3 0l3 0.2l3 0.1l3-0.3l3-0.5l3-0.1l3 0l3-0.1l1-0.1l1-0.1l1-0.2l1-0.1l1-0.2l1-0.2l1-0.2l1-0.3l1-0.4l1-0.5l1-0.7l1-0.9l1-1.1l1-1.3l1-1.5l1-1.7l1-1.9l1-2l1-2.1l1-2l1-2.1l1-2l1-1.8l1-1.7l1-1.5l1-1.1l1-0.9l1-0.5l1-0.1l1 0.4l1 0.7l1 1.2l1 1.5l1 1.8l1 2l1 2.1l1 2.2l1 2.2l1 2l1 1.9l1 1.7l1 1.5l1 1.4l1 1.2l1 1l1 0.9l1 0.7l1 0.7l1 0.5l1 0.5l1 0.3l1 0.2l1 0.2l1 0l1 0.1l1 0l1 0l1 0l1 0.1l3 0.4l3 0.5l3 0.1l3-0.1l3 0.1l1.4 0V600Z"/>
<path d="M162.2 600V346l3-0.4l3-0.1l3 0.1l3-0.1l3-0.1l3 0.1l3 0.4l3 0.2l3-0.1l3-0.3l3 0l3 0l3-0.2l3-0.3l3 0l3 0.3l3 0.2l3-0.1l3-0.3l1-0.1l1-0.1l1-0.1l1-0.1l1-0.1l1-0.3l1-0.3l1-0.4l1-0.6l1-0.7l1-0.8l1-0.9l1-1.1l1-1.1l1-1.3l1-1.4l1-1.5l1-1.7l1-1.8l1-1.9l1-2l1-2l1-1.9l1-1.9l1-1.6l1-1.3l1-1l1-0.6l1-0.2l1 0.2l1 0.5l1 1l1 1.2l1 1.4l1 1.6l1 1.8l1 1.9l1 1.8l1 1.9l1 1.9l1 1.8l1 1.7l1 1.6l1 1.5l1 1.3l1 1.1l1 0.9l1 0.7l1 0.6l1 0.5l1 0.4l1 0.3l1 0.3l1 0.2l1 0.2l1 0.3l1 0.2l1 0.2l1 0.1l1 0.1l3-0.1l3-0.2l3-0.1l3 0.1l3 0.1l0.4 0V600Z"/>
<path d="M162.2 600V351.3l3-0.4l3-0.3l3 0l3 0.3l3 0.1l3 0l3 0.1l3 0.3l3 0l3-0.3l3-0.4l3 0l3 0.1l3 0l3-0.2l3 0.2l3 0.3l3 0l3-0.4l1-0.2l1-0.2l1-0.1l1-0.2l1-0.2l1-0.2l1-0.2l1-0.3l1-0.4l1-0.5l1-0.7l1-0.8l1-0.9l1-1.1l1-1.3l1-1.3l1-1.5l1-1.6l1-1.7l1-1.7l1-1.9l1-1.9l1-1.9l1-1.9l1-1.7l1-1.5l1-1.3l1-1l1-0.5l1-0.2l1 0.2l1 0.7l1 1l1 1.3l1 1.5l1 1.8l1 1.8l1 1.9l1 1.9l1 1.9l1 1.8l1 1.7l1 1.6l1 1.6l1 1.4l1 1.2l1 1.1l1 1l1 0.8l1 0.6l1 0.5l1 0.4l1 0.3l1 0.2l1 0.1l1 0.2l1 0.1l1 0.1l1 0.2l1 0.1l1 0.1l3 0l3-0.3l3-0.2l3 0.2l2.4 0.3V600Z"/>
<path d="M162.2 600V356.6l3-0.4l3-0.3l3 0.1l3 0.2l3 0.1l3-0.1l3 0.2l3 0.3l3 0l3-0.3l3-0.3l3-0.1l3 0.1l3-0.1l3-0.1l3 0.2l3 0.3l3 0l3-0.4l1-0.2l1-0.1l1-0.2l1-0.1l1-0.2l1-0.1l1-0.2l1-0.3l1-0.4l1-0.5l1-0.6l1-0.8l1-0.9l1-1l1-1.2l1-1.3l1-1.3l1-1.5l1-1.7l1-1.7l1-1.8l1-1.9l1-1.9l1-1.9l1-1.8l1-1.6l1-1.4l1-1.1l1-0.7l1-0.3l1 0.1l1 0.4l1 0.9l1 1.1l1 1.4l1 1.6l1 1.7l1 1.9l1 1.8l1 1.9l1 1.8l1 1.8l1 1.7l1 1.6l1 1.5l1 1.3l1 1.2l1 1l1 0.9l1 0.7l1 0.5l1 0.4l1 0.4l1 0.2l1 0.2l1 0.2l1 0.1l1 0.2l1 0.2l1 0.1l1 0.1l1 0l3-0.1l3-0.3l3-0.1l3 0.3l1.4 0.1V600Z"/>
<path d="M162.2 600V361.7l3 0.1l3-0.2l3-0.3l3-0.1l3 0.2l3 0.4l3 0l3-0.1l3 0.1l3 0.2l3-0.2l3-0.5l3-0.2l3 0.2l3 0.2l3-0.1l3-0.1l3 0.2l3 0.1l1-0.1l1-0.1l1-0.2l1-0.2l1-0.3l1-0.3l1-0.3l1-0.4l1-0.3l1-0.4l1-0.5l1-0.6l1-0.7l1-0.9l1-1l1-1.2l1-1.5l1-1.5l1-1.7l1-1.9l1-1.8l1-1.9l1-1.8l1-1.8l1-1.7l1-1.5l1-1.4l1-1.1l1-0.8l1-0.6l1-0.2l1 0.2l1 0.5l1 0.8l1 1.2l1 1.5l1 1.8l1 1.8l1 2l1 2l1 1.9l1 1.8l1 1.7l1 1.6l1 1.3l1 1.3l1 1.1l1 1.1l1 0.9l1 0.8l1 0.7l1 0.6l1 0.6l1 0.4l1 0.3l1 0.2l1 0.1l1 0l1 0.1l1 0l1 0l1 0l3 0.2l3 0.1l3-0.3l3-0.2l1.4 0.1V600Z"/>
<path d="M162.2 600V366.6l3 0.2l3 0.4l3 0.2l3-0.2l3-0.3l3 0l3 0l3-0.2l3-0.2l3 0.1l3 0.4l3 0.3l3-0.2l3-0.2l3 0l3 0l3-0.4l3-0.4l3 0l3 0.1l1 0l1 0l1-0.1l1-0.2l1-0.3l1-0.4l1-0.4l1-0.5l1-0.5l1-0.7l1-0.8l1-0.9l1-1.1l1-1.3l1-1.4l1-1.7l1-1.9l1-1.9l1-2.1l1-2l1-2l1-1.9l1-1.6l1-1.5l1-1.1l1-0.9l1-0.5l1-0.2l1 0.2l1 0.5l1 0.8l1 1.1l1 1.3l1 1.6l1 1.8l1 1.9l1 2l1 2.1l1 1.9l1 1.9l1 1.7l1 1.5l1 1.3l1 1.1l1 0.9l1 0.7l1 0.7l1 0.5l1 0.4l1 0.4l1 0.4l1 0.3l1 0.3l1 0.2l1 0.2l1 0.1l1 0.1l1 0l1 0l1 0.1l3 0.2l3 0.5l3 0.2l3-0.1l0.4-0.1V600Z"/>
<path d="M162.2 600V372.1l3-0.2l3 0.1l3 0.4l3 0.3l3-0.1l3-0.3l3-0.1l3 0l3-0.1l3-0.3l3 0l3 0.4l3 0.3l3-0.1l3-0.2l3 0l3 0l3-0.3l3-0.5l3-0.3l1 0l1 0l1 0l1-0.1l1-0.1l1-0.3l1-0.3l1-0.4l1-0.6l1-0.7l1-0.8l1-0.9l1-1l1-1.2l1-1.3l1-1.4l1-1.6l1-1.8l1-1.8l1-2l1-2l1-1.9l1-1.8l1-1.7l1-1.4l1-1.1l1-0.7l1-0.4l1 0.1l1 0.4l1 0.7l1 1l1 1.3l1 1.5l1 1.6l1 1.8l1 1.8l1 1.9l1 1.9l1 1.8l1 1.8l1 1.7l1 1.5l1 1.3l1 1.2l1 0.9l1 0.8l1 0.6l1 0.4l1 0.3l1 0.3l1 0.2l1 0.2l1 0.1l1 0.2l1 0.2l1 0.1l1 0.1l1 0.1l1 0l3 0l3 0.2l3 0.4l3 0.3l0.4 0.1V600Z"/>
<path d="M162.2 600V377.7l3 0.2l3-0.1l3-0.4l3-0.3l3 0.1l3 0.3l3 0l3 0l3 0.1l3 0.3l3 0l3-0.3l3-0.4l3 0l3 0.1l3-0.1l3-0.2l3 0.2l3 0.3l3-0.1l1-0.2l1-0.2l1-0.2l1-0.3l1-0.3l1-0.3l1-0.4l1-0.4l1-0.5l1-0.5l1-0.8l1-0.8l1-1.1l1-1.2l1-1.4l1-1.5l1-1.7l1-1.7l1-1.7l1-1.7l1-1.8l1-1.6l1-1.6l1-1.4l1-1.2l1-1.1l1-0.8l1-0.6l1-0.2l1 0.1l1 0.4l1 0.8l1 1.1l1 1.3l1 1.6l1 1.7l1 1.8l1 1.9l1 1.7l1 1.7l1 1.6l1 1.4l1 1.4l1 1.2l1 1.1l1 1l1 0.9l1 0.9l1 0.7l1 0.6l1 0.5l1 0.5l1 0.3l1 0.2l1 0.2l1 0.1l1 0.1l1 0l1 0.1l1 0.1l1 0.1l3 0.3l3-0.1l3-0.4l2.4-0.1V600Z"/>
<path d="M162.2 600V383l3 0l3 0.2l3-0.2l3-0.5l3-0.1l3 0.2l3 0.3l3 0l3 0l3 0.2l3 0.2l3-0.2l3-0.5l3-0.2l3 0.1l3 0.1l3-0.2l3 0l3 0.2l3 0.1l1-0.1l1-0.1l1-0.2l1-0.3l1-0.3l1-0.4l1-0.4l1-0.4l1-0.5l1-0.6l1-0.7l1-0.8l1-0.9l1-1.1l1-1.3l1-1.4l1-1.6l1-1.7l1-1.8l1-1.7l1-1.8l1-1.7l1-1.5l1-1.4l1-1.3l1-1l1-0.8l1-0.5l1-0.3l1 0l1 0.4l1 0.6l1 0.9l1 1.2l1 1.4l1 1.6l1 1.8l1 1.8l1 1.8l1 1.7l1 1.7l1 1.5l1 1.3l1 1.2l1 1.1l1 1l1 0.8l1 0.8l1 0.7l1 0.7l1 0.5l1 0.5l1 0.4l1 0.4l1 0.2l1 0.2l1 0.1l1 0l1 0l1 0.1l1 0l1 0.1l3 0.2l3 0l3-0.3l1.4-0.1V600Z"/>
<path d="M162.2 600V387.9l3 0.1l3 0l3 0l3 0.2l3 0.4l3 0l3-0.4l3-0.2l3 0l3 0l3-0.2l3-0.1l3 0.3l3 0.4l3 0l3-0.2l3-0.2l3-0.1l3-0.1l3-0.5l1-0.2l1-0.2l1-0.1l1-0.1l1-0.1l1-0.2l1-0.1l1-0.3l1-0.3l1-0.5l1-0.6l1-0.8l1-0.9l1-1.1l1-1.2l1-1.4l1-1.4l1-1.6l1-1.6l1-1.7l1-1.7l1-1.7l1-1.7l1-1.7l1-1.5l1-1.3l1-1l1-0.8l1-0.4l1-0.1l1 0.3l1 0.7l1 1l1 1.2l1 1.5l1 1.6l1 1.7l1 1.8l1 1.7l1 1.7l1 1.7l1 1.6l1 1.5l1 1.4l1 1.2l1 1.2l1 1l1 0.9l1 0.7l1 0.5l1 0.4l1 0.3l1 0.1l1 0.1l1 0.1l1 0.1l1 0l1 0.1l1 0.1l1 0.2l1 0.1l1 0.1l3 0.1l3 0.1l3 0.2l1.4 0.1V600Z"/>
<path d="M162.2 600V393.2l3 0.2l3 0l3 0l3 0.2l3 0.3l3-0.1l3-0.4l3-0.2l3 0l3 0.1l3-0.1l3 0l3 0.3l3 0.3l3 0l3-0.4l3-0.3l3 0l3-0.1l3-0.4l1-0.2l1-0.1l1-0.1l1-0.1l1-0.1l1-0.1l1-0.1l1-0.2l1-0.3l1-0.5l1-0.6l1-0.8l1-0.9l1-1.1l1-1.2l1-1.3l1-1.4l1-1.6l1-1.5l1-1.7l1-1.7l1-1.7l1-1.7l1-1.6l1-1.5l1-1.3l1-1.1l1-0.8l1-0.4l1-0.2l1 0.3l1 0.6l1 0.9l1 1.2l1 1.4l1 1.6l1 1.6l1 1.7l1 1.7l1 1.7l1 1.6l1 1.5l1 1.5l1 1.4l1 1.2l1 1.2l1 1l1 0.9l1 0.7l1 0.5l1 0.4l1 0.3l1 0.2l1 0.1l1 0.1l1 0.1l1 0.1l1 0.1l1 0.2l1 0.1l1 0.2l1 0.1l1 0.1l3 0.2l3 0l3 0.3l0.4 0V600Z"/>
<path d="M162.2 600V398.6l3 0l3 0.2l3 0.4l3 0l3-0.3l3-0.3l3 0.1l3 0l3-0.2l3-0.1l3 0.3l3 0.3l3 0.1l3-0.2l3-0.2l3 0l3-0.1l3-0.4l3-0.3l3 0.1l1 0l1 0.1l1 0l1-0.1l1-0.2l1-0.2l1-0.3l1-0.4l1-0.4l1-0.6l1-0.6l1-0.6l1-0.8l1-0.9l1-1.1l1-1.2l1-1.4l1-1.6l1-1.6l1-1.8l1-1.8l1-1.8l1-1.7l1-1.6l1-1.3l1-1.2l1-0.9l1-0.6l1-0.4l1 0l1 0.2l1 0.4l1 0.7l1 1l1 1.2l1 1.4l1 1.5l1 1.7l1 1.7l1 1.8l1 1.7l1 1.6l1 1.5l1 1.4l1 1.1l1 1l1 0.9l1 0.6l1 0.6l1 0.5l1 0.5l1 0.4l1 0.4l1 0.3l1 0.3l1 0.2l1 0.2l1 0.1l1 0.1l1 0.1l1 0l1 0l1 0.1l3 0.3l3 0.5l3 0l0.4 0V600Z"/>
<path d="M162.2 600V403.8l3 0.4l3 0.3l3-0.2l3-0.1l3 0l3 0l3-0.2l3-0.4l3 0.1l3 0.3l3 0.3l3-0.1l3-0.1l3 0.1l3 0.1l3-0.4l3-0.4l3-0.1l3 0.1l3 0l1 0l1-0.1l1-0.2l1-0.1l1-0.2l1-0.2l1-0.2l1-0.2l1-0.3l1-0.4l1-0.5l1-0.7l1-0.9l1-1l1-1.2l1-1.3l1-1.5l1-1.5l1-1.6l1-1.6l1-1.6l1-1.6l1-1.6l1-1.4l1-1.3l1-1.2l1-1l1-0.8l1-0.5l1-0.3l1 0.1l1 0.4l1 0.8l1 1l1 1.2l1 1.5l1 1.6l1 1.6l1 1.7l1 1.6l1 1.5l1 1.4l1 1.4l1 1.2l1 1.2l1 1l1 0.9l1 0.9l1 0.8l1 0.6l1 0.6l1 0.4l1 0.3l1 0.2l1 0.2l1 0.1l1 0.1l1 0.1l1 0.2l1 0.1l1 0.2l1 0.2l1 0.2l3 0.4l3 0l3-0.2l0.4 0V600Z"/>
<path d="M162.2 600V409.2l3 0.2l3 0l3 0l3 0.3l3 0.1l3-0.2l3-0.4l3-0.2l3 0.2l3 0.1l3-0.1l3 0l3 0.4l3 0.2l3-0.2l3-0.4l3-0.2l3 0l3-0.2l3-0.3l1-0.1l1-0.1l1 0l1 0l1-0.1l1 0l1-0.2l1-0.2l1-0.3l1-0.5l1-0.6l1-0.7l1-0.9l1-1l1-1.1l1-1.2l1-1.2l1-1.4l1-1.5l1-1.5l1-1.6l1-1.6l1-1.6l1-1.6l1-1.4l1-1.4l1-1l1-0.9l1-0.5l1-0.2l1 0.1l1 0.5l1 0.7l1 1l1 1.2l1 1.3l1 1.4l1 1.5l1 1.5l1 1.6l1 1.5l1 1.5l1 1.5l1 1.3l1 1.3l1 1.2l1 1l1 0.9l1 0.7l1 0.5l1 0.5l1 0.3l1 0.2l1 0.2l1 0.2l1 0.1l1 0.2l1 0.2l1 0.2l1 0.2l1 0.2l1 0.1l1 0.1l1 0.1l3 0l3 0.2l2.4 0.2V600Z"/>
<path d="M162.2 600V414.5l3 0.4l3 0l3-0.1l3 0.1l3 0.1l3-0.2l3-0.4l3-0.2l3 0.2l3 0.3l3 0l3 0l3 0.2l3 0.1l3-0.1l3-0.5l3-0.3l3 0.1l3 0l3-0.2l1-0.1l1-0.1l1-0.1l1-0.1l1 0l1-0.1l1-0.1l1-0.2l1-0.4l1-0.4l1-0.6l1-0.7l1-0.9l1-1l1-1.1l1-1.3l1-1.3l1-1.3l1-1.4l1-1.5l1-1.5l1-1.6l1-1.5l1-1.5l1-1.4l1-1.2l1-1.1l1-0.8l1-0.5l1-0.2l1 0.1l1 0.4l1 0.7l1 0.9l1 1.2l1 1.3l1 1.3l1 1.5l1 1.5l1 1.5l1 1.4l1 1.4l1 1.4l1 1.3l1 1.2l1 1.1l1 1.1l1 0.8l1 0.8l1 0.6l1 0.5l1 0.3l1 0.3l1 0.2l1 0.2l1 0.1l1 0.2l1 0.2l1 0.2l1 0.2l1 0.2l1 0.2l1 0.2l1 0.1l3 0l3 0l2.4 0.1V600Z"/>
<path d="M162.2 600V420.2l3 0l3-0.1l3 0.1l3 0.1l3-0.2l3-0.4l3-0.1l3 0.2l3 0.2l3 0l3 0l3 0.2l3 0.2l3-0.2l3-0.4l3-0.3l3 0.1l3 0l3-0.2l3-0.1l1 0l1 0l1 0l1 0l1 0l1-0.2l1-0.2l1-0.4l1-0.4l1-0.6l1-0.7l1-0.7l1-0.9l1-0.9l1-1l1-1.1l1-1.2l1-1.3l1-1.3l1-1.5l1-1.6l1-1.5l1-1.6l1-1.5l1-1.3l1-1.2l1-0.9l1-0.7l1-0.4l1-0.1l1 0.1l1 0.4l1 0.6l1 0.8l1 1l1 1.1l1 1.2l1 1.4l1 1.4l1 1.4l1 1.5l1 1.5l1 1.4l1 1.3l1 1.3l1 1l1 1l1 0.8l1 0.6l1 0.5l1 0.5l1 0.4l1 0.3l1 0.3l1 0.4l1 0.3l1 0.3l1 0.3l1 0.2l1 0.2l1 0.1l1 0.1l1 0l1 0l3 0l3 0.2l2.4 0.1V600Z"/>
<path d="M162.2 600V424.9l3 0.2l3 0.2l3-0.1l3 0.1l3 0.3l3 0.2l3-0.3l3-0.4l3-0.1l3 0.1l3 0l3-0.1l3 0.1l3 0.3l3 0.2l3-0.2l3-0.3l3-0.2l3 0l1-0.1l1-0.1l1-0.2l1-0.1l1-0.2l1-0.2l1-0.2l1-0.1l1-0.2l1-0.2l1-0.2l1-0.3l1-0.4l1-0.5l1-0.6l1-0.8l1-1l1-1.1l1-1.2l1-1.3l1-1.4l1-1.4l1-1.5l1-1.4l1-1.4l1-1.4l1-1.4l1-1.2l1-1.1l1-0.9l1-0.8l1-0.4l1-0.2l1 0.1l1 0.4l1 0.7l1 1l1 1.1l1 1.4l1 1.4l1 1.5l1 1.6l1 1.4l1 1.5l1 1.3l1 1.3l1 1.2l1 1.2l1 1l1 1l1 0.8l1 0.8l1 0.6l1 0.5l1 0.3l1 0.3l1 0.1l1 0.1l1 0.1l1 0l1 0l1 0.1l1 0.1l1 0.1l1 0.2l1 0.1l1 0.2l3 0.1l3 0.1l2.4 0.1V600Z"/>
<path d="M162.2 600V430.6l3 0.4l3 0l3-0.3l3-0.1l3 0.1l3-0.1l3-0.3l3-0.2l3 0.3l3 0.4l3 0l3-0.1l3 0l3 0.1l3-0.2l3-0.4l3-0.3l3 0.1l3 0.2l1 0l1-0.1l1-0.1l1-0.1l1-0.1l1-0.2l1-0.2l1-0.1l1-0.3l1-0.2l1-0.4l1-0.4l1-0.6l1-0.8l1-0.9l1-1l1-1.2l1-1.3l1-1.4l1-1.5l1-1.4l1-1.5l1-1.5l1-1.4l1-1.4l1-1.3l1-1.1l1-1.1l1-0.8l1-0.7l1-0.4l1-0.1l1 0.2l1 0.5l1 0.7l1 1.1l1 1.2l1 1.3l1 1.5l1 1.5l1 1.5l1 1.4l1 1.4l1 1.3l1 1.2l1 1.1l1 1.1l1 0.9l1 0.9l1 0.9l1 0.7l1 0.6l1 0.5l1 0.4l1 0.3l1 0.2l1 0.2l1 0.1l1 0.1l1 0.2l1 0.1l1 0.2l1 0.2l1 0.2l1 0.2l1 0.1l3 0.2l3-0.2l3-0.1l0.4 0V600Z"/>
<path d="M162.2 600V435.8l3 0l3 0.1l3 0.4l3 0.1l3-0.3l3-0.3l3-0.1l3 0.1l3-0.1l3-0.1l3 0.1l3 0.4l3 0.2l3-0.2l3-0.3l3-0.1l3 0l3-0.3l3-0.4l1-0.1l1 0l1-0.1l1 0.1l1-0.1l1 0l1-0.1l1-0.2l1-0.4l1-0.4l1-0.5l1-0.7l1-0.8l1-0.8l1-1l1-1.1l1-1.1l1-1.3l1-1.3l1-1.5l1-1.5l1-1.6l1-1.7l1-1.6l1-1.5l1-1.3l1-1.2l1-0.9l1-0.6l1-0.3l1 0.1l1 0.3l1 0.5l1 0.9l1 1l1 1.1l1 1.3l1 1.4l1 1.5l1 1.5l1 1.6l1 1.5l1 1.5l1 1.4l1 1.3l1 1.2l1 1.1l1 0.8l1 0.8l1 0.5l1 0.4l1 0.4l1 0.2l1 0.3l1 0.2l1 0.2l1 0.2l1 0.2l1 0.2l1 0.2l1 0.1l1 0.1l1 0l1 0.1l3 0l3 0.3l3 0.4l2.4 0V600Z"/>
<path d="M162.2 600V441.2l3 0.4l3 0.1l3-0.3l3-0.2l3-0.1l3 0.1l3-0.2l3-0.2l3 0.2l3 0.4l3 0.2l3-0.2l3-0.2l3 0l3 0l3-0.4l3-0.3l3 0l3 0.2l1 0l1 0l1-0.1l1-0.2l1-0.2l1-0.2l1-0.3l1-0.4l1-0.4l1-0.4l1-0.6l1-0.6l1-0.8l1-1l1-1.1l1-1.3l1-1.4l1-1.5l1-1.7l1-1.6l1-1.7l1-1.6l1-1.5l1-1.3l1-1.2l1-1l1-0.8l1-0.6l1-0.4l1-0.1l1 0.2l1 0.5l1 0.7l1 0.9l1 1.2l1 1.4l1 1.6l1 1.6l1 1.6l1 1.7l1 1.5l1 1.5l1 1.3l1 1.1l1 1l1 0.9l1 0.8l1 0.7l1 0.6l1 0.6l1 0.5l1 0.5l1 0.3l1 0.4l1 0.2l1 0.2l1 0.1l1 0l1 0.1l1 0.1l1 0l1 0.2l1 0.1l3 0.5l3 0.2l3-0.2l3-0.3l0.4 0V600Z"/>
<path d="M162.2 600V446.4l3 0.2l3 0.4l3-0.1l3-0.3l3-0.3l3 0.1l3 0l3-0.1l3-0.1l3 0.3l3 0.4l3 0l3-0.3l3-0.2l3 0l3-0.1l3-0.4l3-0.2l1 0l1 0l1 0.1l1 0l1 0.1l1-0.1l1 0l1-0.2l1-0.3l1-0.3l1-0.4l1-0.6l1-0.5l1-0.7l1-0.8l1-0.8l1-1l1-1.1l1-1.3l1-1.4l1-1.5l1-1.7l1-1.7l1-1.8l1-1.7l1-1.6l1-1.4l1-1.2l1-0.9l1-0.7l1-0.4l1-0.1l1 0.1l1 0.4l1 0.7l1 0.8l1 1.1l1 1.3l1 1.4l1 1.6l1 1.6l1 1.6l1 1.7l1 1.6l1 1.5l1 1.4l1 1.2l1 1l1 0.8l1 0.7l1 0.6l1 0.5l1 0.4l1 0.4l1 0.3l1 0.3l1 0.3l1 0.3l1 0.2l1 0.2l1 0.1l1 0.1l1 0.1l1 0l1 0l3 0.3l3 0.4l3 0.1l3-0.2l1.4-0.2V600Z"/>
<path d="M162.2 600V451.4l3 0.2l3 0.3l3 0l3 0l3 0.2l3 0.2l3-0.2l3-0.4l3-0.2l3 0.1l3 0.1l3-0.1l3 0l3 0.3l3 0.2l3-0.1l3-0.5l3-0.3l1 0l1-0.1l1 0l1-0.1l1-0.1l1-0.1l1-0.3l1-0.3l1-0.3l1-0.4l1-0.4l1-0.5l1-0.5l1-0.6l1-0.7l1-0.8l1-0.9l1-1.2l1-1.3l1-1.4l1-1.6l1-1.7l1-1.7l1-1.8l1-1.6l1-1.6l1-1.3l1-1.1l1-1l1-0.6l1-0.4l1-0.1l1 0.1l1 0.5l1 0.6l1 1l1 1.2l1 1.3l1 1.6l1 1.7l1 1.7l1 1.8l1 1.7l1 1.6l1 1.5l1 1.4l1 1.2l1 1l1 0.8l1 0.8l1 0.6l1 0.5l1 0.5l1 0.4l1 0.3l1 0.3l1 0.2l1 0.2l1 0.1l1 0l1-0.1l1 0l1-0.1l1-0.1l3 0.1l3 0.4l3 0.3l3 0l2.4 0V600Z"/>
<path d="M162.2 600V457.3l3-0.1l3-0.4l3-0.1l3 0.2l3 0.4l3 0.1l3-0.1l3 0l3 0.1l3-0.1l3-0.4l3-0.3l3 0.2l3 0.2l3 0l3-0.1l3 0.1l3 0.1l1 0l1-0.1l1-0.2l1-0.2l1-0.2l1-0.3l1-0.4l1-0.3l1-0.3l1-0.4l1-0.4l1-0.5l1-0.6l1-0.7l1-0.9l1-1l1-1.2l1-1.4l1-1.4l1-1.6l1-1.6l1-1.6l1-1.6l1-1.5l1-1.5l1-1.3l1-1.2l1-1l1-0.8l1-0.6l1-0.3l1 0l1 0.2l1 0.6l1 0.9l1 1.1l1 1.4l1 1.5l1 1.7l1 1.7l1 1.6l1 1.7l1 1.5l1 1.4l1 1.3l1 1.2l1 1.1l1 0.9l1 0.9l1 0.8l1 0.7l1 0.7l1 0.5l1 0.5l1 0.3l1 0.3l1 0.1l1 0.1l1 0l1 0l1 0l1 0l1 0.1l1 0l3 0.2l3-0.1l3-0.3l3 0l2.4 0.3V600Z"/>
<path d="M162.2 600V462.8l3-0.2l3 0l3 0l3 0l3-0.3l3-0.3l3 0.1l3 0.3l3 0.2l3-0.1l3 0l3 0.2l3 0l3-0.4l3-0.4l3 0l3 0.1l3-0.1l1 0l1-0.1l1-0.1l1-0.1l1-0.1l1-0.1l1-0.1l1-0.1l1-0.2l1-0.3l1-0.5l1-0.6l1-0.8l1-0.9l1-1.1l1-1.2l1-1.4l1-1.4l1-1.6l1-1.6l1-1.6l1-1.7l1-1.7l1-1.6l1-1.6l1-1.4l1-1.3l1-1.1l1-0.7l1-0.5l1 0l1 0.2l1 0.7l1 0.9l1 1.2l1 1.5l1 1.6l1 1.6l1 1.7l1 1.7l1 1.6l1 1.6l1 1.4l1 1.4l1 1.2l1 1.2l1 1l1 1l1 0.8l1 0.6l1 0.6l1 0.4l1 0.3l1 0.2l1 0.1l1 0.1l1 0.2l1 0.1l1 0.2l1 0.1l1 0.2l1 0.2l1 0.2l3 0.3l3 0l3-0.1l3 0.1l3 0l0.4 0V600Z"/>
<path d="M162.2 600V468l3 0l3-0.1l3 0l3 0.1l3-0.2l3-0.4l3-0.1l3 0.3l3 0.2l3 0l3 0l3 0.2l3 0.1l3-0.3l3-0.5l3-0.2l3 0.1l3 0l1 0l1-0.1l1-0.2l1-0.1l1-0.1l1-0.1l1-0.2l1-0.1l1-0.3l1-0.3l1-0.4l1-0.6l1-0.7l1-1l1-1.1l1-1.3l1-1.4l1-1.5l1-1.7l1-1.7l1-1.7l1-1.8l1-1.7l1-1.6l1-1.6l1-1.4l1-1.2l1-0.9l1-0.7l1-0.4l1 0l1 0.4l1 0.7l1 1.1l1 1.3l1 1.6l1 1.7l1 1.8l1 1.8l1 1.8l1 1.7l1 1.6l1 1.4l1 1.3l1 1.2l1 1.1l1 1l1 0.8l1 0.7l1 0.7l1 0.5l1 0.4l1 0.3l1 0.1l1 0.2l1 0l1 0.1l1 0l1 0.1l1 0.1l1 0.2l1 0.2l3 0.5l3 0.2l3-0.1l3 0l3 0.1l1.4 0V600Z"/>
<path d="M162.2 600V473.2l3 0.3l3-0.1l3-0.3l3 0l3 0l3-0.2l3-0.3l3 0.1l3 0.3l3 0.3l3-0.1l3-0.1l3 0.1l3 0l3-0.3l3-0.5l3-0.1l3 0.1l1 0.1l1 0l1-0.1l1-0.1l1-0.2l1-0.2l1-0.2l1-0.3l1-0.3l1-0.4l1-0.5l1-0.6l1-0.7l1-0.9l1-1l1-1.3l1-1.4l1-1.7l1-1.7l1-1.9l1-1.9l1-1.9l1-1.8l1-1.7l1-1.5l1-1.3l1-1l1-0.8l1-0.5l1-0.1l1 0.1l1 0.5l1 0.8l1 1.1l1 1.3l1 1.6l1 1.8l1 1.9l1 1.9l1 1.9l1 1.8l1 1.7l1 1.5l1 1.3l1 1.1l1 1l1 0.8l1 0.7l1 0.5l1 0.6l1 0.4l1 0.4l1 0.3l1 0.3l1 0.2l1 0.1l1 0.1l1 0l1 0l1 0l1 0.1l3 0.3l3 0.5l3 0.2l3-0.1l3-0.2l2.4 0V600Z"/>
<path d="M162.2 600V478.5l3 0.3l3 0l3-0.4l3-0.3l3 0.1l3 0l3-0.1l3 0l3 0.2l3 0.4l3 0.1l3-0.3l3-0.3l3 0l3-0.1l3-0.3l3-0.2l3 0.1l1 0.1l1 0l1 0.1l1-0.1l1-0.1l1-0.2l1-0.3l1-0.4l1-0.4l1-0.5l1-0.6l1-0.7l1-0.9l1-0.9l1-1.1l1-1.3l1-1.4l1-1.7l1-1.8l1-1.9l1-1.9l1-2l1-1.8l1-1.7l1-1.6l1-1.2l1-0.9l1-0.7l1-0.2l1 0l1 0.4l1 0.7l1 0.9l1 1.2l1 1.4l1 1.7l1 1.7l1 1.9l1 1.8l1 1.9l1 1.8l1 1.6l1 1.6l1 1.3l1 1.1l1 0.9l1 0.7l1 0.6l1 0.5l1 0.4l1 0.4l1 0.3l1 0.3l1 0.3l1 0.2l1 0.2l1 0.2l1 0.2l1 0l1 0.1l1 0l3 0.1l3 0.4l3 0.3l3-0.1l3-0.4l2.4-0.2V600Z"/>
<path d="M162.2 600V483.6l3-0.1l3 0.2l3 0.4l3 0l3-0.3l3-0.3l3 0l3 0.1l3-0.2l3-0.1l3 0.2l3 0.4l3 0.1l3-0.2l3-0.3l3 0l3-0.2l3-0.4l1-0.1l1-0.2l1-0.1l1-0.2l1 0l1-0.1l1-0.2l1-0.2l1-0.2l1-0.4l1-0.6l1-0.7l1-0.9l1-1.1l1-1.3l1-1.4l1-1.5l1-1.6l1-1.7l1-1.8l1-1.9l1-1.8l1-1.8l1-1.7l1-1.6l1-1.4l1-1.1l1-0.8l1-0.4l1 0l1 0.5l1 0.8l1 1.1l1 1.5l1 1.7l1 1.8l1 1.9l1 2l1 1.8l1 1.8l1 1.7l1 1.6l1 1.4l1 1.3l1 1.2l1 1.1l1 0.9l1 0.7l1 0.6l1 0.5l1 0.3l1 0.2l1 0.1l1 0.1l1 0l1 0l1 0l1 0l1 0.1l1 0.1l3 0.4l3 0.1l3 0l3 0.2l3 0.4l3 0.1l0.4 0V600Z"/>
<path d="M162.2 600V489.3l3-0.2l3 0l3 0l3-0.2l3-0.4l3 0.1l3 0.3l3 0.3l3-0.1l3 0l3 0.1l3 0l3-0.3l3-0.4l3-0.1l3 0.2l3 0.1l3-0.2l1-0.1l1-0.1l1-0.1l1 0l1-0.1l1-0.1l1-0.2l1-0.3l1-0.4l1-0.6l1-0.8l1-0.9l1-1l1-1.3l1-1.3l1-1.5l1-1.6l1-1.7l1-1.8l1-1.8l1-1.9l1-1.9l1-1.7l1-1.7l1-1.5l1-1.2l1-0.9l1-0.6l1-0.1l1 0.3l1 0.7l1 1l1 1.4l1 1.6l1 1.7l1 1.9l1 1.8l1 1.9l1 1.8l1 1.7l1 1.5l1 1.5l1 1.3l1 1.2l1 1.1l1 0.9l1 0.8l1 0.7l1 0.5l1 0.4l1 0.3l1 0.2l1 0.1l1 0.1l1 0.1l1 0.2l1 0.1l1 0.2l1 0.2l3 0.5l3 0.1l3-0.1l3-0.1l3 0.1l3-0.1l1.4-0.1V600Z"/>
<path d="M162.2 600V494.5l3 0.3l3-0.2l3-0.4l3-0.1l3 0.1l3-0.1l3-0.2l3 0.1l3 0.4l3 0.3l3-0.1l3-0.3l3 0l3-0.1l3-0.2l3-0.4l3-0.1l3 0.2l1 0.1l1 0l1-0.1l1-0.1l1-0.2l1-0.3l1-0.3l1-0.4l1-0.5l1-0.5l1-0.7l1-0.8l1-0.9l1-1.1l1-1.3l1-1.6l1-1.7l1-1.9l1-2l1-2.1l1-2.1l1-2l1-1.8l1-1.6l1-1.3l1-1l1-0.7l1-0.3l1 0l1 0.4l1 0.8l1 1l1 1.4l1 1.6l1 1.7l1 2l1 2l1 2l1 2l1 1.9l1 1.7l1 1.5l1 1.3l1 1.1l1 0.9l1 0.7l1 0.6l1 0.4l1 0.4l1 0.3l1 0.3l1 0.3l1 0.3l1 0.2l1 0.1l1 0.2l1 0.1l1 0l1 0l3 0.1l3 0.4l3 0.4l3 0l3-0.3l3-0.2l1.4 0V600Z"/>
<path d="M162.2 600V499.5l3-0.1l3 0l3 0.3l3 0.3l3 0l3-0.3l3-0.2l3 0l3 0l3-0.2l3-0.1l3 0.3l3 0.3l3 0l3-0.2l3-0.2l3 0l3-0.3l1-0.2l1-0.2l1-0.3l1-0.2l1-0.2l1-0.3l1-0.3l1-0.3l1-0.3l1-0.5l1-0.6l1-0.8l1-1l1-1.1l1-1.4l1-1.6l1-1.8l1-1.9l1-1.9l1-2l1-1.9l1-1.9l1-1.7l1-1.6l1-1.3l1-1.1l1-0.8l1-0.4l1 0l1 0.4l1 0.8l1 1.1l1 1.5l1 1.7l1 1.9l1 2.1l1 2.1l1 2.1l1 1.9l1 1.8l1 1.7l1 1.4l1 1.3l1 1.1l1 0.9l1 0.8l1 0.8l1 0.6l1 0.5l1 0.4l1 0.4l1 0.2l1 0.1l1 0.1l1 0l1-0.1l1-0.1l1 0l3 0l3 0.2l3 0.1l3 0l3 0.1l3 0.4l2.4 0.2V600Z"/>
<path d="M162.2 600V504.8l3 0.2l3 0.3l3 0l3-0.3l3-0.3l3 0l3 0.1l3-0.1l3-0.1l3 0.2l3 0.4l3 0.1l3-0.3l3-0.3l3-0.1l3 0l3-0.3l3-0.4l1 0l1-0.1l1 0l1 0l1-0.1l1-0.1l1-0.2l1-0.4l1-0.5l1-0.6l1-0.8l1-1l1-1.2l1-1.3l1-1.5l1-1.7l1-1.7l1-1.9l1-2l1-2l1-2.1l1-2l1-1.9l1-1.6l1-1.4l1-1l1-0.7l1-0.1l1 0.3l1 0.8l1 1.1l1 1.5l1 1.8l1 1.9l1 2l1 2.1l1 2l1 2l1 1.8l1 1.7l1 1.6l1 1.4l1 1.3l1 1.1l1 0.9l1 0.8l1 0.6l1 0.4l1 0.3l1 0.2l1 0.1l1 0.1l1 0l1 0l1 0.1l1 0l1 0.2l1 0.1l3 0.4l3 0.1l3 0l3 0.3l3 0.3l3-0.1l2.4-0.3V600Z"/>
<path d="M162.2 600V510.3l3 0.3l3 0l3-0.3l3-0.3l3 0l3 0.1l3-0.1l3-0.1l3 0.3l3 0.3l3 0.1l3-0.3l3-0.2l3-0.1l3 0l3-0.3l3-0.3l3 0.1l1 0l1 0.1l1-0.1l1 0l1-0.2l1-0.3l1-0.4l1-0.5l1-0.6l1-0.7l1-0.9l1-1l1-1.1l1-1.3l1-1.5l1-1.7l1-1.9l1-2.1l1-2.1l1-2.2l1-2.2l1-2l1-1.9l1-1.5l1-1.2l1-0.7l1-0.3l1 0.1l1 0.6l1 1l1 1.2l1 1.6l1 1.8l1 1.9l1 2l1 2.1l1 2l1 2l1 1.9l1 1.8l1 1.5l1 1.4l1 1.2l1 1l1 0.7l1 0.6l1 0.4l1 0.2l1 0.3l1 0.1l1 0.2l1 0.1l1 0.2l1 0.1l1 0.2l1 0.2l1 0.1l3 0.2l3 0l3 0.3l3 0.3l3 0.1l3-0.4l3-0.3l0.4 0V600Z"/>
<path d="M162.2 600V515.2l3 0.2l3 0l3 0l3 0.1l3 0.4l3 0.1l3-0.3l3-0.4l3 0l3 0.1l3-0.1l3-0.2l3 0.2l3 0.4l3 0.1l3-0.3l3-0.4l3-0.2l1 0l1-0.1l1-0.2l1-0.2l1-0.3l1-0.4l1-0.5l1-0.5l1-0.6l1-0.8l1-0.8l1-0.9l1-1.1l1-1.3l1-1.5l1-1.6l1-1.9l1-2l1-2.2l1-2.1l1-2.1l1-2l1-1.8l1-1.4l1-1.1l1-0.6l1-0.2l1 0.2l1 0.6l1 0.9l1 1.3l1 1.5l1 1.8l1 1.9l1 2l1 2.1l1 2l1 2l1 1.9l1 1.7l1 1.6l1 1.4l1 1.2l1 0.9l1 0.8l1 0.6l1 0.5l1 0.3l1 0.3l1 0.3l1 0.2l1 0.2l1 0.2l1 0.2l1 0.1l1 0l3-0.1l3-0.3l3 0l3 0.2l3 0.2l3 0l3 0l1.4 0.2V600Z"/>
<path d="M162.2 600V520.9l3 0.1l3 0.1l3-0.2l3-0.4l3-0.1l3 0.2l3 0.3l3 0l3-0.1l3 0.2l3 0.2l3-0.2l3-0.4l3-0.3l3 0.1l3 0l3-0.1l3-0.2l1 0l1 0l1 0l1-0.1l1-0.1l1-0.3l1-0.4l1-0.5l1-0.7l1-0.9l1-1l1-1.2l1-1.4l1-1.6l1-1.7l1-1.8l1-2l1-2.1l1-2.1l1-2.2l1-2.1l1-2l1-1.7l1-1.4l1-1l1-0.6l1 0l1 0.4l1 0.9l1 1.3l1 1.6l1 1.9l1 2.1l1 2.2l1 2.1l1 2.1l1 2l1 1.9l1 1.7l1 1.5l1 1.4l1 1.2l1 1l1 0.9l1 0.6l1 0.6l1 0.4l1 0.3l1 0.1l1 0.1l1 0.1l1 0.1l1 0l1 0.1l1 0.2l1 0.1l3 0.6l3 0.2l3-0.1l3 0.1l3 0.1l3 0l3-0.4l1.4-0.1V600Z"/>
<path d="M162.2 600V526.3l3 0.1l3-0.1l3 0l3 0.1l3-0.1l3-0.4l3-0.2l3 0.2l3 0.2l3 0.1l3-0.1l3 0.2l3 0.1l3-0.1l3-0.5l3-0.3l3 0l3-0.1l1-0.1l1-0.1l1-0.2l1-0.2l1-0.2l1-0.3l1-0.4l1-0.4l1-0.6l1-0.6l1-0.9l1-1.1l1-1.3l1-1.6l1-1.8l1-2.1l1-2.2l1-2.3l1-2.3l1-2.3l1-2.1l1-1.9l1-1.6l1-1.2l1-0.8l1-0.4l1 0l1 0.5l1 0.9l1 1.2l1 1.7l1 1.9l1 2.1l1 2.2l1 2.4l1 2.3l1 2.2l1 2l1 1.8l1 1.6l1 1.4l1 1l1 0.9l1 0.7l1 0.5l1 0.4l1 0.4l1 0.3l1 0.2l1 0.2l1 0.2l1 0.1l1 0.1l1 0l1 0l3-0.2l3 0.1l3 0.4l3 0.4l3 0l3-0.1l3 0.1l2.4 0.1V600Z"/>
<path d="M162.2 600V531.9l3-0.1l3-0.3l3-0.1l3 0.1l3-0.2l3-0.2l3-0.1l3 0.4l3 0.3l3 0l3-0.2l3 0l3 0.1l3-0.3l3-0.4l3-0.2l3 0.2l3 0l1 0l1-0.2l1-0.1l1-0.3l1-0.2l1-0.4l1-0.4l1-0.5l1-0.6l1-0.8l1-1l1-1.2l1-1.4l1-1.8l1-1.9l1-2.2l1-2.3l1-2.3l1-2.4l1-2.3l1-2l1-1.8l1-1.5l1-1.1l1-0.6l1-0.2l1 0.2l1 0.7l1 1.1l1 1.5l1 1.8l1 2l1 2.3l1 2.3l1 2.3l1 2.3l1 2.2l1 1.9l1 1.7l1 1.5l1 1.2l1 0.9l1 0.8l1 0.5l1 0.5l1 0.3l1 0.3l1 0.2l1 0.3l1 0.2l1 0.1l1 0.2l1 0.1l1 0l3 0.1l3 0.1l3 0.4l3 0.4l3-0.1l3-0.2l3-0.2l3 0.1l0.4 0V600Z"/>
<path d="M162.2 600V537.1l3 0l3-0.4l3-0.3l3 0l3 0.2l3 0l3 0l3 0.2l3 0.3l3 0.1l3-0.4l3-0.3l3 0l3 0l3-0.2l3-0.2l3 0.1l3 0.2l1 0l1-0.1l1-0.2l1-0.2l1-0.4l1-0.4l1-0.6l1-0.6l1-0.8l1-0.9l1-1.1l1-1.3l1-1.5l1-1.7l1-2l1-2.1l1-2.3l1-2.4l1-2.4l1-2.3l1-2.1l1-1.8l1-1.4l1-0.9l1-0.5l1 0.1l1 0.5l1 1l1 1.3l1 1.7l1 1.9l1 2.1l1 2.3l1 2.2l1 2.3l1 2.1l1 2.1l1 1.8l1 1.6l1 1.4l1 1.2l1 0.9l1 0.7l1 0.5l1 0.4l1 0.3l1 0.2l1 0.2l1 0.1l1 0.2l1 0.2l1 0.2l1 0.2l1 0.2l3 0.3l3 0l3 0.1l3 0.3l3 0l3-0.3l3-0.3l3 0l0.4 0V600Z"/>
<path d="M162.2 600V542l3 0.2l3-0.1l3 0l3 0.3l3 0l3-0.3l3-0.4l3 0l3 0.2l3 0.1l3-0.1l3 0.1l3 0.3l3 0.1l3-0.3l3-0.5l3-0.2l3-0.1l1-0.1l1-0.2l1-0.2l1-0.3l1-0.3l1-0.4l1-0.5l1-0.6l1-0.7l1-0.8l1-1.1l1-1.2l1-1.5l1-1.7l1-2l1-2.2l1-2.3l1-2.5l1-2.4l1-2.3l1-2.1l1-1.8l1-1.3l1-0.9l1-0.4l1 0.1l1 0.5l1 1.1l1 1.4l1 1.8l1 2l1 2.1l1 2.3l1 2.3l1 2.3l1 2.2l1 2.1l1 1.9l1 1.7l1 1.4l1 1.2l1 0.9l1 0.7l1 0.6l1 0.4l1 0.3l1 0.2l1 0.2l1 0.1l1 0.2l1 0.1l1 0.1l1 0.1l3 0l3-0.3l3-0.1l3 0.3l3 0.4l3 0.1l3-0.1l3 0.1l1.4 0.1V600Z"/>
<path d="M162.2 600V547.4l3-0.4l3 0l3 0.2l3 0.1l3-0.1l3 0.2l3 0.3l3 0.1l3-0.3l3-0.3l3-0.1l3 0.1l3-0.1l3-0.2l3 0.1l3 0.3l3 0.1l3-0.5l1-0.2l1-0.2l1-0.3l1-0.2l1-0.3l1-0.4l1-0.5l1-0.7l1-0.8l1-1.1l1-1.3l1-1.5l1-1.8l1-2l1-2.2l1-2.2l1-2.3l1-2.4l1-2.2l1-2.1l1-1.8l1-1.5l1-1.2l1-0.7l1-0.2l1 0.2l1 0.7l1 1.2l1 1.7l1 2l1 2.2l1 2.4l1 2.4l1 2.4l1 2.3l1 2l1 1.8l1 1.6l1 1.3l1 1.1l1 0.9l1 0.7l1 0.6l1 0.6l1 0.4l1 0.5l1 0.3l1 0.3l1 0.2l1 0.2l1 0.1l1 0.1l3 0.1l3 0.2l3 0.3l3-0.1l3-0.3l3-0.3l3 0.1l3 0.3l2.4 0V600Z"/>
<path d="M162.2 600V552.7l3 0.3l3 0.1l3-0.2l3-0.4l3-0.1l3 0.1l3 0l3-0.1l3 0.1l3 0.4l3 0.2l3-0.2l3-0.3l3-0.2l3 0l3-0.2l3-0.4l3-0.1l1 0l1-0.1l1 0l1-0.1l1-0.3l1-0.3l1-0.6l1-0.7l1-1l1-1.1l1-1.4l1-1.6l1-1.8l1-2l1-2.1l1-2.4l1-2.4l1-2.5l1-2.4l1-2.2l1-2l1-1.7l1-1.2l1-0.7l1-0.1l1 0.5l1 1l1 1.6l1 2l1 2.3l1 2.4l1 2.6l1 2.5l1 2.4l1 2.2l1 2l1 1.8l1 1.5l1 1.4l1 1.1l1 1l1 0.8l1 0.6l1 0.5l1 0.3l1 0.3l1 0.1l1 0l1 0l1-0.1l1 0l1 0l3 0.2l3 0.4l3 0.1l3 0l3 0.2l3 0.3l3 0.1l3-0.4l2.4-0.3V600Z"/>
<path d="M162.2 600V557.8l3-0.1l3 0.2l3 0.4l3 0.1l3-0.2l3-0.3l3 0l3 0l3-0.2l3-0.2l3 0.2l3 0.4l3 0.1l3-0.2l3-0.1l3-0.1l3-0.2l3-0.5l1-0.3l1-0.2l1-0.3l1-0.3l1-0.3l1-0.3l1-0.5l1-0.6l1-0.9l1-1l1-1.4l1-1.6l1-1.9l1-2.1l1-2.3l1-2.4l1-2.5l1-2.5l1-2.3l1-2.1l1-1.8l1-1.4l1-0.9l1-0.5l1 0.1l1 0.6l1 1l1 1.6l1 1.9l1 2.2l1 2.4l1 2.6l1 2.5l1 2.5l1 2.2l1 2.1l1 1.8l1 1.5l1 1.2l1 1l1 0.8l1 0.7l1 0.5l1 0.5l1 0.4l1 0.3l1 0.3l1 0.2l1 0.2l1 0.1l1 0l3-0.2l3-0.2l3 0.1l3 0.1l3 0l3 0l3 0.2l3 0.4l3 0.1l0.4 0V600Z"/>
<path d="M162.2 600V563.4l3 0.2l3 0.1l3-0.4l3-0.3l3 0l3 0.1l3 0.1l3-0.1l3 0.2l3 0.3l3 0.1l3-0.3l3-0.3l3-0.1l3 0l3-0.2l3-0.3l3-0.1l1 0l1 0l1-0.1l1-0.2l1-0.3l1-0.5l1-0.6l1-0.9l1-1.1l1-1.3l1-1.6l1-1.7l1-2l1-2.2l1-2.4l1-2.5l1-2.5l1-2.6l1-2.4l1-2.2l1-1.8l1-1.4l1-0.9l1-0.2l1 0.3l1 1l1 1.5l1 2l1 2.4l1 2.5l1 2.7l1 2.6l1 2.5l1 2.4l1 2.1l1 1.8l1 1.6l1 1.4l1 1.1l1 0.9l1 0.8l1 0.7l1 0.4l1 0.4l1 0.2l1 0.2l1 0l1 0l1 0l1-0.1l3 0.1l3 0.4l3 0.3l3 0.1l3 0l3 0.2l3 0.2l3-0.2l3-0.4l1.4-0.2V600Z"/>
<path d="M162.2 600V568.3l3-0.2l3 0.3l3 0.3l3 0l3 0l3 0.1l3 0.2l3-0.2l3-0.4l3-0.3l3 0.2l3 0.2l3-0.1l3 0l3 0.2l3 0.1l3-0.2l3-0.7l1-0.3l1-0.2l1-0.3l1-0.3l1-0.4l1-0.4l1-0.7l1-0.8l1-1.1l1-1.3l1-1.6l1-1.9l1-2.1l1-2.3l1-2.4l1-2.5l1-2.5l1-2.4l1-2.2l1-1.9l1-1.6l1-1.1l1-0.6l1 0l1 0.5l1 1.1l1 1.5l1 2l1 2.3l1 2.5l1 2.6l1 2.6l1 2.5l1 2.3l1 2l1 1.8l1 1.5l1 1.2l1 0.9l1 0.8l1 0.7l1 0.5l1 0.5l1 0.4l1 0.4l1 0.3l1 0.2l1 0.3l1 0.1l1 0.1l3 0l3 0l3 0.1l3 0l3-0.3l3-0.2l3 0.1l3 0.4l3 0.2l1.4 0V600Z"/>
<path d="M162.2 600V574l3 0l3 0.2l3 0l3-0.3l3-0.4l3 0l3 0.3l3 0.1l3-0.1l3 0.1l3 0.3l3 0.1l3-0.4l3-0.4l3-0.1l3 0l3-0.2l3-0.3l1-0.2l1-0.1l1-0.2l1-0.2l1-0.3l1-0.4l1-0.6l1-0.9l1-1.1l1-1.4l1-1.7l1-2l1-2.3l1-2.5l1-2.7l1-2.7l1-2.6l1-2.6l1-2.3l1-1.9l1-1.5l1-1l1-0.4l1 0.1l1 0.8l1 1.3l1 1.9l1 2.2l1 2.6l1 2.7l1 2.8l1 2.7l1 2.6l1 2.3l1 2.1l1 1.7l1 1.5l1 1.1l1 0.9l1 0.7l1 0.5l1 0.4l1 0.4l1 0.2l1 0.3l1 0.1l1 0.2l1 0l1 0.1l3-0.2l3-0.1l3 0.3l3 0.4l3 0.1l3 0l3 0l3 0.2l3-0.1l2.4-0.3V600Z"/>
<path d="M162.2 600V579.1l3 0l3-0.1l3 0.3l3 0.3l3 0l3-0.3l3-0.3l3 0l3 0.1l3-0.2l3-0.1l3 0.3l3 0.3l3 0.1l3-0.4l3-0.2l3-0.2l3-0.3l1-0.2l1-0.3l1-0.4l1-0.4l1-0.6l1-0.6l1-0.7l1-0.9l1-1.1l1-1.3l1-1.6l1-1.9l1-2.2l1-2.5l1-2.7l1-2.7l1-2.8l1-2.5l1-2.3l1-1.9l1-1.3l1-0.8l1-0.1l1 0.5l1 1.2l1 1.6l1 2l1 2.3l1 2.5l1 2.6l1 2.6l1 2.4l1 2.4l1 2.1l1 2l1 1.7l1 1.4l1 1.2l1 1l1 0.7l1 0.6l1 0.4l1 0.2l1 0.2l1 0.2l1 0.1l1 0.2l1 0.1l3 0.4l3 0.1l3-0.3l3-0.3l3 0.1l3 0.3l3 0l3 0l3 0.2l3 0.3l0.4 0V600Z"/>
</g>
<rect x="165.2" y="234.3" width="126.4" height="354.5" fill="none" stroke="#2b2b2b" stroke-width="1"/>
<line x1="85.3" y1="588.8" x2="85.3" y2="585.6" stroke="#2b2b2b" stroke-width="1"/>
<line x1="53.7" y1="588.8" x2="53.7" y2="587" stroke="#2b2b2b" stroke-width="1"/>
<line x1="116.9" y1="588.8" x2="116.9" y2="587" stroke="#2b2b2b" stroke-width="1"/>
<line x1="228.4" y1="588.8" x2="228.4" y2="585.6" stroke="#2b2b2b" stroke-width="1"/>
<line x1="196.8" y1="588.8" x2="196.8" y2="587" stroke="#2b2b2b" stroke-width="1"/>
<line x1="260" y1="588.8" x2="260" y2="587" stroke="#2b2b2b" stroke-width="1"/>
<text x="22.2" y="600.2" font-size="9.6" fill="#1a1a1a" text-anchor="middle">2.1</text>
<text x="85.3" y="600.2" font-size="9.6" fill="#1a1a1a" text-anchor="middle">2.2</text>
<text x="147.6" y="600.2" font-size="9.6" fill="#1a1a1a" text-anchor="middle">2.3</text>
<text x="164.2" y="600.2" font-size="9.6" fill="#1a1a1a" text-anchor="middle">3.0</text>
<text x="227.6" y="600.2" font-size="9.6" fill="#1a1a1a" text-anchor="middle">3.1</text>
<text x="291" y="600.2" font-size="9.6" fill="#1a1a1a" text-anchor="middle">3.2</text>
<text x="131.9" y="613.8" font-size="9.6" fill="#1a1a1a" textLength="56" lengthAdjust="spacingAndGlyphs">d spacing ( Å)</text>
<text x="11.9" y="436.9" font-size="9.6" fill="#1a1a1a" textLength="34.8" lengthAdjust="spacingAndGlyphs" transform="rotate(-90 11.9 436.9)">Intensity</text>
<text x="0" y="238.8" font-size="10.5" fill="#1a1a1a" font-weight="bold" dx="-0.5">c</text>
<text x="27.5" y="253.5" font-size="9.6" fill="#1a1a1a" textLength="20.2" lengthAdjust="spacingAndGlyphs">(110)</text>
<text x="171" y="253.5" font-size="9.6" fill="#1a1a1a" textLength="20.2" lengthAdjust="spacingAndGlyphs">(001)</text>
<text x="81.8" y="424.8" font-size="9.6" fill="#1a1a1a" textLength="54.5" lengthAdjust="spacingAndGlyphs">ε<tspan dy="1.8" font-size="6">max</tspan><tspan dy="-1.8" font-size="0.1"> </tspan>  = 1.95%</text>
<line x1="299.4" y1="579.5" x2="299.4" y2="434" stroke="#c57a45" stroke-width="1"/>
<path d="M299.4 430.4L302 436.4H296.8Z" fill="#c57a45"/>
<line x1="299.4" y1="423" x2="299.4" y2="277" stroke="#c57a45" stroke-width="1"/>
<path d="M299.4 273.4L302 279.4H296.8Z" fill="#c57a45"/>
<text x="313.6" y="376" font-size="9.6" fill="#1a1a1a" textLength="42.8" lengthAdjust="spacingAndGlyphs" transform="rotate(-90 313.6 376)">Unloading</text>
<text x="313.6" y="516" font-size="9.6" fill="#1a1a1a" textLength="33.1" lengthAdjust="spacingAndGlyphs" transform="rotate(-90 313.6 516)">Loading</text>
<line x1="379.9" y1="234.2" x2="379.9" y2="376.4" stroke="#2b2b2b" stroke-width="1"/>
<line x1="379.4" y1="376" x2="571.4" y2="376" stroke="#2b2b2b" stroke-width="1"/>
<line x1="379.9" y1="375" x2="384.1" y2="375" stroke="#2b2b2b" stroke-width="1"/>
<text x="376.6" y="378.3" font-size="9.6" fill="#1a1a1a" text-anchor="end">0</text>
<line x1="379.9" y1="376" x2="379.9" y2="372" stroke="#2b2b2b" stroke-width="1"/>
<text x="379.9" y="385.6" font-size="9.6" fill="#1a1a1a" text-anchor="middle">0</text>
<line x1="379.9" y1="341.48" x2="384.1" y2="341.48" stroke="#2b2b2b" stroke-width="1"/>
<text x="376.6" y="344.78" font-size="9.6" fill="#1a1a1a" text-anchor="end" textLength="12.6" lengthAdjust="spacingAndGlyphs">0.5</text>
<line x1="423.42" y1="376" x2="423.42" y2="372" stroke="#2b2b2b" stroke-width="1"/>
<text x="423.42" y="385.6" font-size="9.6" fill="#1a1a1a" text-anchor="middle" textLength="12.6" lengthAdjust="spacingAndGlyphs">0.5</text>
<line x1="379.9" y1="307.95" x2="384.1" y2="307.95" stroke="#2b2b2b" stroke-width="1"/>
<text x="376.6" y="311.25" font-size="9.6" fill="#1a1a1a" text-anchor="end" textLength="12.6" lengthAdjust="spacingAndGlyphs">1.0</text>
<line x1="466.95" y1="376" x2="466.95" y2="372" stroke="#2b2b2b" stroke-width="1"/>
<text x="466.95" y="385.6" font-size="9.6" fill="#1a1a1a" text-anchor="middle" textLength="12.6" lengthAdjust="spacingAndGlyphs">1.0</text>
<line x1="379.9" y1="274.43" x2="384.1" y2="274.43" stroke="#2b2b2b" stroke-width="1"/>
<text x="376.6" y="277.73" font-size="9.6" fill="#1a1a1a" text-anchor="end" textLength="12.6" lengthAdjust="spacingAndGlyphs">1.5</text>
<line x1="510.47" y1="376" x2="510.47" y2="372" stroke="#2b2b2b" stroke-width="1"/>
<text x="510.47" y="385.6" font-size="9.6" fill="#1a1a1a" text-anchor="middle" textLength="12.6" lengthAdjust="spacingAndGlyphs">1.5</text>
<line x1="379.9" y1="240.9" x2="384.1" y2="240.9" stroke="#2b2b2b" stroke-width="1"/>
<text x="376.6" y="244.2" font-size="9.6" fill="#1a1a1a" text-anchor="end" textLength="12.6" lengthAdjust="spacingAndGlyphs">2.0</text>
<line x1="554" y1="376" x2="554" y2="372" stroke="#2b2b2b" stroke-width="1"/>
<text x="554" y="385.6" font-size="9.6" fill="#1a1a1a" text-anchor="middle" textLength="12.6" lengthAdjust="spacingAndGlyphs">2.0</text>
<line x1="379.9" y1="358.24" x2="382.1" y2="358.24" stroke="#2b2b2b" stroke-width="1"/>
<line x1="401.66" y1="376" x2="401.66" y2="373.8" stroke="#2b2b2b" stroke-width="1"/>
<line x1="379.9" y1="324.71" x2="382.1" y2="324.71" stroke="#2b2b2b" stroke-width="1"/>
<line x1="445.19" y1="376" x2="445.19" y2="373.8" stroke="#2b2b2b" stroke-width="1"/>
<line x1="379.9" y1="291.19" x2="382.1" y2="291.19" stroke="#2b2b2b" stroke-width="1"/>
<line x1="488.71" y1="376" x2="488.71" y2="373.8" stroke="#2b2b2b" stroke-width="1"/>
<line x1="379.9" y1="257.66" x2="382.1" y2="257.66" stroke="#2b2b2b" stroke-width="1"/>
<line x1="532.24" y1="376" x2="532.24" y2="373.8" stroke="#2b2b2b" stroke-width="1"/>
<text x="432" y="399.8" font-size="9.6" fill="#1a1a1a" textLength="85.8" lengthAdjust="spacingAndGlyphs">d-spacing strain (%)</text>
<text x="354" y="335.9" font-size="9.6" fill="#1a1a1a" textLength="52.6" lengthAdjust="spacingAndGlyphs" transform="rotate(-90 354 335.9)">Stress (GPa)</text>
<text x="348.2" y="239" font-size="10.5" fill="#1a1a1a">d</text>
<line x1="381.64" y1="373.66" x2="549.65" y2="247.61" stroke="#e01020" stroke-width="0.9"/>
<circle cx="396.62" cy="361.53" r="2.4" fill="url(#ballB)"/>
<circle cx="402.38" cy="357.21" r="2.4" fill="url(#ballB)"/>
<circle cx="408.15" cy="352.88" r="2.4" fill="url(#ballB)"/>
<circle cx="413.91" cy="348.56" r="2.4" fill="url(#ballB)"/>
<circle cx="419.67" cy="344.24" r="2.4" fill="url(#ballB)"/>
<circle cx="425.44" cy="339.91" r="2.4" fill="url(#ballB)"/>
<circle cx="431.2" cy="335.59" r="2.4" fill="url(#ballB)"/>
<circle cx="436.96" cy="331.27" r="2.4" fill="url(#ballB)"/>
<circle cx="442.73" cy="326.94" r="2.4" fill="url(#ballB)"/>
<circle cx="448.49" cy="322.62" r="2.4" fill="url(#ballB)"/>
<circle cx="454.25" cy="318.29" r="2.4" fill="url(#ballB)"/>
<circle cx="460.02" cy="313.97" r="2.4" fill="url(#ballB)"/>
<circle cx="465.78" cy="309.65" r="2.4" fill="url(#ballB)"/>
<circle cx="471.54" cy="305.32" r="2.4" fill="url(#ballB)"/>
<circle cx="477.31" cy="301" r="2.4" fill="url(#ballB)"/>
<circle cx="483.07" cy="296.68" r="2.4" fill="url(#ballB)"/>
<circle cx="488.83" cy="292.35" r="2.4" fill="url(#ballB)"/>
<circle cx="494.6" cy="288.03" r="2.4" fill="url(#ballB)"/>
<circle cx="500.36" cy="283.7" r="2.4" fill="url(#ballB)"/>
<circle cx="506.12" cy="279.38" r="2.4" fill="url(#ballB)"/>
<circle cx="511.89" cy="275.06" r="2.4" fill="url(#ballB)"/>
<circle cx="517.65" cy="270.73" r="2.4" fill="url(#ballB)"/>
<circle cx="523.41" cy="266.41" r="2.4" fill="url(#ballB)"/>
<circle cx="529.18" cy="262.09" r="2.4" fill="url(#ballB)"/>
<circle cx="534.94" cy="257.76" r="2.4" fill="url(#ballB)"/>
<circle cx="540.7" cy="253.44" r="2.4" fill="url(#ballB)"/>
<circle cx="546.47" cy="249.11" r="2.4" fill="url(#ballB)"/>
<circle cx="382.51" cy="373.04" r="2.4" fill="url(#ballR)"/>
<circle cx="388.27" cy="368.72" r="2.4" fill="url(#ballR)"/>
<circle cx="394.04" cy="364.39" r="2.4" fill="url(#ballR)"/>
<circle cx="399.8" cy="360.07" r="2.4" fill="url(#ballR)"/>
<circle cx="405.56" cy="355.75" r="2.4" fill="url(#ballR)"/>
<circle cx="411.33" cy="351.42" r="2.4" fill="url(#ballR)"/>
<circle cx="417.09" cy="347.1" r="2.4" fill="url(#ballR)"/>
<circle cx="422.85" cy="342.77" r="2.4" fill="url(#ballR)"/>
<circle cx="428.62" cy="338.45" r="2.4" fill="url(#ballR)"/>
<circle cx="434.38" cy="334.13" r="2.4" fill="url(#ballR)"/>
<circle cx="440.14" cy="329.8" r="2.4" fill="url(#ballR)"/>
<circle cx="445.91" cy="325.48" r="2.4" fill="url(#ballR)"/>
<circle cx="451.67" cy="321.16" r="2.4" fill="url(#ballR)"/>
<circle cx="457.43" cy="316.83" r="2.4" fill="url(#ballR)"/>
<circle cx="463.2" cy="312.51" r="2.4" fill="url(#ballR)"/>
<circle cx="468.96" cy="308.18" r="2.4" fill="url(#ballR)"/>
<circle cx="474.72" cy="303.86" r="2.4" fill="url(#ballR)"/>
<circle cx="480.49" cy="299.54" r="2.4" fill="url(#ballR)"/>
<circle cx="486.25" cy="295.21" r="2.4" fill="url(#ballR)"/>
<circle cx="492.01" cy="290.89" r="2.4" fill="url(#ballR)"/>
<circle cx="497.78" cy="286.57" r="2.4" fill="url(#ballR)"/>
<circle cx="503.54" cy="282.24" r="2.4" fill="url(#ballR)"/>
<circle cx="509.3" cy="277.92" r="2.4" fill="url(#ballR)"/>
<circle cx="515.07" cy="273.59" r="2.4" fill="url(#ballR)"/>
<circle cx="520.83" cy="269.27" r="2.4" fill="url(#ballR)"/>
<circle cx="526.59" cy="264.95" r="2.4" fill="url(#ballR)"/>
<circle cx="532.36" cy="260.62" r="2.4" fill="url(#ballR)"/>
<circle cx="538.12" cy="256.3" r="2.4" fill="url(#ballR)"/>
<circle cx="543.88" cy="251.98" r="2.4" fill="url(#ballR)"/>
<circle cx="549.65" cy="247.65" r="2.4" fill="url(#ballR)"/>
<line x1="485" y1="349.4" x2="509.7" y2="349.4" stroke="#e01020" stroke-width="0.9"/>
<circle cx="497.2" cy="349.4" r="2.4" fill="url(#ballR)"/>
<text x="512.7" y="352.7" font-size="10" fill="#1a1a1a" textLength="32.7" lengthAdjust="spacingAndGlyphs">Loading</text>
<line x1="485" y1="362.3" x2="509.7" y2="362.3" stroke="#1a1ad0" stroke-width="0.9"/>
<circle cx="497.2" cy="362.3" r="2.4" fill="url(#ballB)"/>
<text x="512.7" y="365.6" font-size="10" fill="#1a1a1a" textLength="41.7" lengthAdjust="spacingAndGlyphs">Unloading</text>
<text x="328.5" y="411.5" font-size="10.5" fill="#1a1a1a">e</text>
<rect x="327" y="418.7" width="85.7" height="84.2" fill="#460078"/>
<rect x="327" y="505.1" width="85.7" height="83.7" fill="#460078"/>
<rect x="415.1" y="418.7" width="85.9" height="84.2" fill="#460078"/>
<rect x="415.1" y="505.1" width="85.9" height="83.7" fill="#460078"/>
<rect x="503.2" y="418.7" width="85.5" height="84.2" fill="#460078"/>
<rect x="503.2" y="505.1" width="85.5" height="83.7" fill="#460078"/>
<rect x="362.6" y="459" width="10.8" height="2.4" rx="1.2" fill="#f2101c"/>
<rect x="450" y="455.8" width="13.4" height="3.4" rx="1.6" fill="#f2101c"/>
<rect x="539.3" y="458.9" width="10.4" height="2.4" rx="1.2" fill="#f2101c"/>
<rect x="368.3" y="543.2" width="1.7" height="7.4" rx="0.8" fill="#f2101c"/>
<rect x="456" y="543" width="1.9" height="8.6" rx="0.9" fill="#f2101c"/>
<rect x="544.9" y="543.6" width="1.6" height="6.6" rx="0.8" fill="#f2101c"/>
<text x="331" y="433.2" font-size="9.6" fill="#f4f0f8" textLength="21" lengthAdjust="spacingAndGlyphs">(110)</text>
<text x="331" y="518.8" font-size="9.6" fill="#f4f0f8" textLength="21" lengthAdjust="spacingAndGlyphs">(001)</text>
<text x="331.6" y="495.2" font-size="9.6" fill="#f4f0f8" textLength="20.5" lengthAdjust="spacingAndGlyphs">ε = 0</text>
<text x="421.6" y="495.2" font-size="9.6" fill="#f4f0f8" textLength="41.6" lengthAdjust="spacingAndGlyphs">ε = 1.95%</text>
<text x="507.6" y="495.2" font-size="9.6" fill="#f4f0f8" textLength="20.5" lengthAdjust="spacingAndGlyphs">ε = 0</text>
<text x="331.6" y="581.2" font-size="9.6" fill="#f4f0f8" textLength="20.5" lengthAdjust="spacingAndGlyphs">ε = 0</text>
<text x="419.8" y="581.2" font-size="9.6" fill="#f4f0f8" textLength="46.5" lengthAdjust="spacingAndGlyphs">ε = −0.70%</text>
<text x="507.6" y="581.2" font-size="9.6" fill="#f4f0f8" textLength="20.5" lengthAdjust="spacingAndGlyphs">ε = 0</text>
<rect x="606.1" y="418.3" width="53.9" height="119.4" fill="#460078"/>
<rect x="614.4" y="424.6" width="38.6" height="107.7" fill="none" stroke="#f5a840" stroke-width="1"/>
<line x1="614.4" y1="478.8" x2="654.5" y2="478.8" stroke="#f5a840" stroke-width="1"/>
<ellipse cx="614.6" cy="478.8" rx="2" ry="1.3" fill="#f2101c"/>
<ellipse cx="614.8" cy="424.6" rx="1.7" ry="1" fill="#f2101c"/>
<text x="617" y="437.4" font-size="9.6" fill="#f4f0f8" textLength="21.5" lengthAdjust="spacingAndGlyphs">(220)</text>
<text x="617" y="471" font-size="9.6" fill="#f4f0f8" textLength="21.5" lengthAdjust="spacingAndGlyphs">(110)</text>
<text x="617" y="527.2" font-size="9.6" fill="#f4f0f8" textLength="21.5" lengthAdjust="spacingAndGlyphs">(000)</text>
<text x="664.4" y="437.4" font-size="9.6" fill="#1a1a1a" textLength="20.6" lengthAdjust="spacingAndGlyphs">(221)</text>
<text x="664.4" y="471" font-size="9.6" fill="#1a1a1a" textLength="20.6" lengthAdjust="spacingAndGlyphs">(111)</text>
<text x="664.4" y="527.2" font-size="9.6" fill="#1a1a1a" textLength="20.6" lengthAdjust="spacingAndGlyphs">(001)</text>
<line x1="598.5" y1="544.6" x2="598.5" y2="508.5" stroke="#222" stroke-width="0.9"/>
<path d="M598.5 505.4L600.4 510H596.6Z" fill="#222"/>
<line x1="598.2" y1="544.3" x2="617" y2="544.3" stroke="#222" stroke-width="0.9"/>
<path d="M620.2 544.3L615.6 546.2V542.4Z" fill="#222"/>
<text x="604.2" y="502.5" font-size="9.6" fill="#1a1a1a" textLength="12.5" lengthAdjust="spacingAndGlyphs" transform="rotate(-90 604.2 502.5)">LD</text>
<text x="624.8" y="548.3" font-size="9.6" fill="#1a1a1a" textLength="12.5" lengthAdjust="spacingAndGlyphs">TD</text>
</svg></body></html>
